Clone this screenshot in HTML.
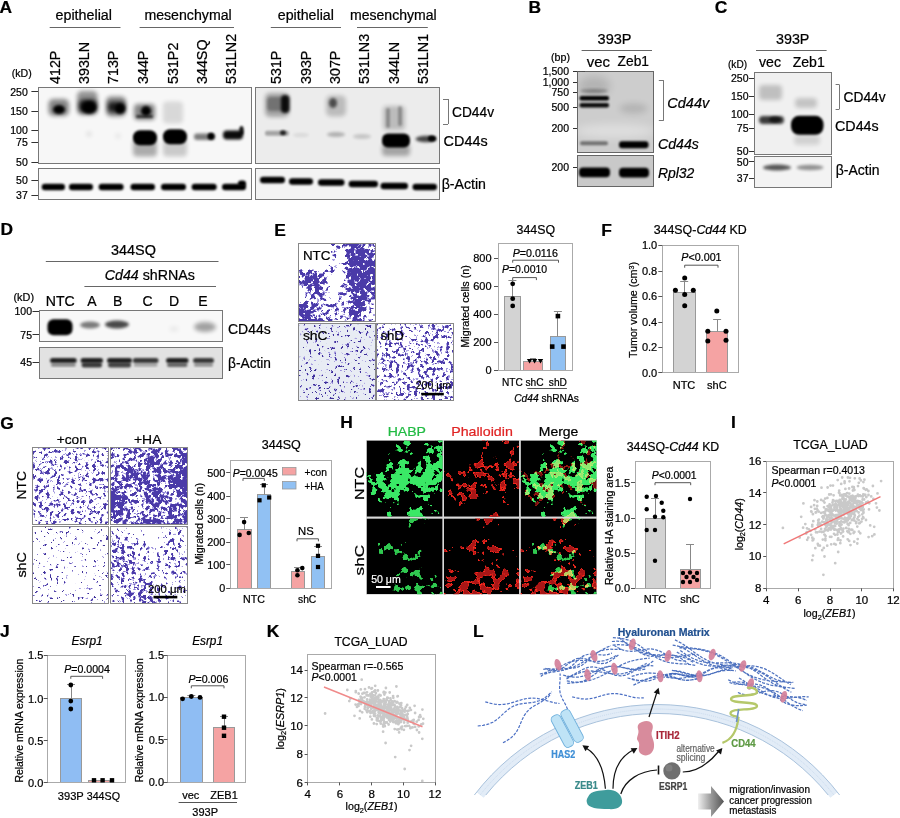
<!DOCTYPE html>
<html><head><meta charset="utf-8"><title>Figure</title>
<style>html,body{margin:0;padding:0;background:#fff;width:900px;height:818px;overflow:hidden}svg{display:block;font-family:"Liberation Sans",sans-serif;will-change:transform}</style>
</head><body>
<svg width="900" height="818" viewBox="0 0 900 818">
<defs>
<filter id="b05" x="-20%" y="-20%" width="140%" height="140%"><feGaussianBlur stdDeviation="0.4"/></filter>
<filter id="b08" x="-20%" y="-20%" width="140%" height="140%"><feGaussianBlur stdDeviation="0.8"/></filter>
<filter id="b1" x="-50%" y="-50%" width="200%" height="200%"><feGaussianBlur stdDeviation="1"/></filter>
<filter id="b15" x="-50%" y="-50%" width="200%" height="200%"><feGaussianBlur stdDeviation="1.5"/></filter>
<filter id="b2" x="-50%" y="-50%" width="200%" height="200%"><feGaussianBlur stdDeviation="2"/></filter>
<filter id="b3" x="-50%" y="-50%" width="200%" height="200%"><feGaussianBlur stdDeviation="3"/></filter>
<filter id="b4" x="-50%" y="-50%" width="200%" height="200%"><feGaussianBlur stdDeviation="4"/></filter>
<clipPath id="cA1"><rect x="39.1" y="87.7" width="211.8" height="75.6"/></clipPath>
<clipPath id="cA1b"><rect x="39.1" y="168.5" width="211.8" height="30.3"/></clipPath>
<clipPath id="cA2"><rect x="256.1" y="87.7" width="182.4" height="74.8"/></clipPath>
<clipPath id="cA2b"><rect x="256.1" y="168.5" width="182.4" height="30.5"/></clipPath>
<clipPath id="cB1"><rect x="577.5" y="71.5" width="75.8" height="80.8"/></clipPath>
<clipPath id="cB2"><rect x="577.5" y="155.6" width="75.8" height="30.5"/></clipPath>
<clipPath id="cC1"><rect x="755.2" y="73.2" width="75.5" height="80.9"/></clipPath>
<clipPath id="cC2"><rect x="755.2" y="156.5" width="75.5" height="30.4"/></clipPath>
<clipPath id="cD1"><rect x="39.8" y="311" width="182.1" height="30"/></clipPath>
<clipPath id="cD2"><rect x="39.8" y="347.5" width="182.1" height="30.2"/></clipPath>
<linearGradient id="gArr" x1="0" x2="1" y1="0" y2="0"><stop offset="0" stop-color="#f0f0f0"/><stop offset="0.5" stop-color="#9a9a9a"/><stop offset="1" stop-color="#555"/></linearGradient>
<filter id="fie1" filterUnits="userSpaceOnUse" x="296.7" y="241.7" width="80.9" height="81.5" color-interpolation-filters="sRGB"><feGaussianBlur in="SourceGraphic" stdDeviation="2.2" result="d"/><feTurbulence type="fractalNoise" baseFrequency="0.26" numOctaves="3" seed="11" result="n"/><feColorMatrix in="n" type="matrix" values="0 0 0 0 0 0 0 0 0 0 0 0 0 0 0 1 0 0 0 0" result="na"/><feComposite in="d" in2="na" operator="arithmetic" k1="0" k2="1" k3="1" k4="-0.94" result="s0"/><feComponentTransfer in="s0" result="t0"><feFuncA type="linear" slope="40" intercept="0"/></feComponentTransfer><feFlood flood-color="#a69ce0"/><feComposite operator="in" in2="t0" result="c0"/><feComposite in="d" in2="na" operator="arithmetic" k1="0" k2="1" k3="1" k4="-1.0" result="s1"/><feComponentTransfer in="s1" result="t1"><feFuncA type="linear" slope="40" intercept="0"/></feComponentTransfer><feFlood flood-color="#4a3aa8"/><feComposite operator="in" in2="t1" result="c1"/><feMerge><feMergeNode in="c0"/><feMergeNode in="c1"/></feMerge><feGaussianBlur stdDeviation="0.4"/></filter><filter id="fie2" filterUnits="userSpaceOnUse" x="296.7" y="321.3" width="80.9" height="80.9" color-interpolation-filters="sRGB"><feGaussianBlur in="SourceGraphic" stdDeviation="4" result="d"/><feTurbulence type="fractalNoise" baseFrequency="0.32" numOctaves="3" seed="12" result="n"/><feColorMatrix in="n" type="matrix" values="0 0 0 0 0 0 0 0 0 0 0 0 0 0 0 1 0 0 0 0" result="na"/><feComposite in="d" in2="na" operator="arithmetic" k1="0" k2="1" k3="1" k4="-0.955" result="s0"/><feComponentTransfer in="s0" result="t0"><feFuncA type="linear" slope="40" intercept="0"/></feComponentTransfer><feFlood flood-color="#a69ce0"/><feComposite operator="in" in2="t0" result="c0"/><feComposite in="d" in2="na" operator="arithmetic" k1="0" k2="1" k3="1" k4="-1.0" result="s1"/><feComponentTransfer in="s1" result="t1"><feFuncA type="linear" slope="40" intercept="0"/></feComponentTransfer><feFlood flood-color="#40329a"/><feComposite operator="in" in2="t1" result="c1"/><feMerge><feMergeNode in="c0"/><feMergeNode in="c1"/></feMerge><feGaussianBlur stdDeviation="0.4"/></filter><filter id="fie3" filterUnits="userSpaceOnUse" x="374.2" y="321.3" width="81.6" height="80.9" color-interpolation-filters="sRGB"><feGaussianBlur in="SourceGraphic" stdDeviation="4" result="d"/><feTurbulence type="fractalNoise" baseFrequency="0.28" numOctaves="3" seed="13" result="n"/><feColorMatrix in="n" type="matrix" values="0 0 0 0 0 0 0 0 0 0 0 0 0 0 0 1 0 0 0 0" result="na"/><feComposite in="d" in2="na" operator="arithmetic" k1="0" k2="1" k3="1" k4="-0.94" result="s0"/><feComponentTransfer in="s0" result="t0"><feFuncA type="linear" slope="40" intercept="0"/></feComponentTransfer><feFlood flood-color="#a69ce0"/><feComposite operator="in" in2="t0" result="c0"/><feComposite in="d" in2="na" operator="arithmetic" k1="0" k2="1" k3="1" k4="-1.0" result="s1"/><feComponentTransfer in="s1" result="t1"><feFuncA type="linear" slope="40" intercept="0"/></feComponentTransfer><feFlood flood-color="#4a3aa8"/><feComposite operator="in" in2="t1" result="c1"/><feMerge><feMergeNode in="c0"/><feMergeNode in="c1"/></feMerge><feGaussianBlur stdDeviation="0.4"/></filter><filter id="fig1" filterUnits="userSpaceOnUse" x="30.299999999999997" y="445.5" width="80.5" height="81" color-interpolation-filters="sRGB"><feGaussianBlur in="SourceGraphic" stdDeviation="4" result="d"/><feTurbulence type="fractalNoise" baseFrequency="0.28" numOctaves="3" seed="14" result="n"/><feColorMatrix in="n" type="matrix" values="0 0 0 0 0 0 0 0 0 0 0 0 0 0 0 1 0 0 0 0" result="na"/><feComposite in="d" in2="na" operator="arithmetic" k1="0" k2="1" k3="1" k4="-0.94" result="s0"/><feComponentTransfer in="s0" result="t0"><feFuncA type="linear" slope="40" intercept="0"/></feComponentTransfer><feFlood flood-color="#a69ce0"/><feComposite operator="in" in2="t0" result="c0"/><feComposite in="d" in2="na" operator="arithmetic" k1="0" k2="1" k3="1" k4="-1.0" result="s1"/><feComponentTransfer in="s1" result="t1"><feFuncA type="linear" slope="40" intercept="0"/></feComponentTransfer><feFlood flood-color="#4a3aa8"/><feComposite operator="in" in2="t1" result="c1"/><feMerge><feMergeNode in="c0"/><feMergeNode in="c1"/></feMerge><feGaussianBlur stdDeviation="0.4"/></filter><filter id="fig2" filterUnits="userSpaceOnUse" x="108" y="445.5" width="81.8" height="81" color-interpolation-filters="sRGB"><feGaussianBlur in="SourceGraphic" stdDeviation="2.2" result="d"/><feTurbulence type="fractalNoise" baseFrequency="0.26" numOctaves="3" seed="15" result="n"/><feColorMatrix in="n" type="matrix" values="0 0 0 0 0 0 0 0 0 0 0 0 0 0 0 1 0 0 0 0" result="na"/><feComposite in="d" in2="na" operator="arithmetic" k1="0" k2="1" k3="1" k4="-0.94" result="s0"/><feComponentTransfer in="s0" result="t0"><feFuncA type="linear" slope="40" intercept="0"/></feComponentTransfer><feFlood flood-color="#a69ce0"/><feComposite operator="in" in2="t0" result="c0"/><feComposite in="d" in2="na" operator="arithmetic" k1="0" k2="1" k3="1" k4="-1.0" result="s1"/><feComponentTransfer in="s1" result="t1"><feFuncA type="linear" slope="40" intercept="0"/></feComponentTransfer><feFlood flood-color="#4a3aa8"/><feComposite operator="in" in2="t1" result="c1"/><feMerge><feMergeNode in="c0"/><feMergeNode in="c1"/></feMerge><feGaussianBlur stdDeviation="0.4"/></filter><filter id="fig3" filterUnits="userSpaceOnUse" x="30.299999999999997" y="524.2" width="80.5" height="81.6" color-interpolation-filters="sRGB"><feGaussianBlur in="SourceGraphic" stdDeviation="4" result="d"/><feTurbulence type="fractalNoise" baseFrequency="0.32" numOctaves="3" seed="16" result="n"/><feColorMatrix in="n" type="matrix" values="0 0 0 0 0 0 0 0 0 0 0 0 0 0 0 1 0 0 0 0" result="na"/><feComposite in="d" in2="na" operator="arithmetic" k1="0" k2="1" k3="1" k4="-0.955" result="s0"/><feComponentTransfer in="s0" result="t0"><feFuncA type="linear" slope="40" intercept="0"/></feComponentTransfer><feFlood flood-color="#a69ce0"/><feComposite operator="in" in2="t0" result="c0"/><feComposite in="d" in2="na" operator="arithmetic" k1="0" k2="1" k3="1" k4="-1.0" result="s1"/><feComponentTransfer in="s1" result="t1"><feFuncA type="linear" slope="40" intercept="0"/></feComponentTransfer><feFlood flood-color="#40329a"/><feComposite operator="in" in2="t1" result="c1"/><feMerge><feMergeNode in="c0"/><feMergeNode in="c1"/></feMerge><feGaussianBlur stdDeviation="0.4"/></filter><filter id="fig4" filterUnits="userSpaceOnUse" x="108" y="524.2" width="81.8" height="81.6" color-interpolation-filters="sRGB"><feGaussianBlur in="SourceGraphic" stdDeviation="4" result="d"/><feTurbulence type="fractalNoise" baseFrequency="0.28" numOctaves="3" seed="17" result="n"/><feColorMatrix in="n" type="matrix" values="0 0 0 0 0 0 0 0 0 0 0 0 0 0 0 1 0 0 0 0" result="na"/><feComposite in="d" in2="na" operator="arithmetic" k1="0" k2="1" k3="1" k4="-0.94" result="s0"/><feComponentTransfer in="s0" result="t0"><feFuncA type="linear" slope="40" intercept="0"/></feComponentTransfer><feFlood flood-color="#a69ce0"/><feComposite operator="in" in2="t0" result="c0"/><feComposite in="d" in2="na" operator="arithmetic" k1="0" k2="1" k3="1" k4="-1.0" result="s1"/><feComponentTransfer in="s1" result="t1"><feFuncA type="linear" slope="40" intercept="0"/></feComponentTransfer><feFlood flood-color="#4a3aa8"/><feComposite operator="in" in2="t1" result="c1"/><feMerge><feMergeNode in="c0"/><feMergeNode in="c1"/></feMerge><feGaussianBlur stdDeviation="0.4"/></filter><filter id="fih1" filterUnits="userSpaceOnUse" x="364.6" y="438.4" width="80" height="80.3" color-interpolation-filters="sRGB"><feGaussianBlur in="SourceGraphic" stdDeviation="3.5" result="d"/><feTurbulence type="fractalNoise" baseFrequency="0.13" numOctaves="3" seed="21" result="n"/><feColorMatrix in="n" type="matrix" values="0 0 0 0 0 0 0 0 0 0 0 0 0 0 0 1 0 0 0 0" result="na"/><feComposite in="d" in2="na" operator="arithmetic" k1="0" k2="1" k3="1" k4="-0.985" result="s0"/><feComponentTransfer in="s0" result="t0"><feFuncA type="linear" slope="40" intercept="0"/></feComponentTransfer><feFlood flood-color="#128a2a"/><feComposite operator="in" in2="t0" result="c0"/><feComposite in="d" in2="na" operator="arithmetic" k1="0" k2="1" k3="1" k4="-1.0" result="s1"/><feComponentTransfer in="s1" result="t1"><feFuncA type="linear" slope="40" intercept="0"/></feComponentTransfer><feFlood flood-color="#3ae866"/><feComposite operator="in" in2="t1" result="c1"/><feMerge><feMergeNode in="c0"/><feMergeNode in="c1"/></feMerge><feGaussianBlur stdDeviation="0.4"/></filter><filter id="fih2" filterUnits="userSpaceOnUse" x="442" y="438.4" width="79.2" height="80.3" color-interpolation-filters="sRGB"><feGaussianBlur in="SourceGraphic" stdDeviation="3.5" result="d"/><feTurbulence type="fractalNoise" baseFrequency="0.13" numOctaves="3" seed="22" result="n"/><feColorMatrix in="n" type="matrix" values="0 0 0 0 0 0 0 0 0 0 0 0 0 0 0 1 0 0 0 0" result="na"/><feComposite in="d" in2="na" operator="arithmetic" k1="0" k2="1" k3="1" k4="-1.0" result="s0"/><feComponentTransfer in="s0" result="t0"><feFuncA type="linear" slope="40" intercept="0"/></feComponentTransfer><feFlood flood-color="#a81616"/><feComposite operator="in" in2="t0" result="c0"/><feComposite in="d" in2="na" operator="arithmetic" k1="0" k2="1" k3="1" k4="-1.0" result="s1"/><feComponentTransfer in="s1" result="t1"><feFuncA type="table" tableValues="0 1 0.2 0 0 0 0 0 0 0 0 0 0 0 0 0 0 0 0 0 0 0 0 0 0"/></feComponentTransfer><feFlood flood-color="#ff2a1e"/><feComposite operator="in" in2="t1" result="c1"/><feMerge><feMergeNode in="c0"/><feMergeNode in="c1"/></feMerge><feGaussianBlur stdDeviation="0.4"/></filter><filter id="fih4" filterUnits="userSpaceOnUse" x="364.6" y="516.4" width="80" height="79.8" color-interpolation-filters="sRGB"><feGaussianBlur in="SourceGraphic" stdDeviation="3.5" result="d"/><feTurbulence type="fractalNoise" baseFrequency="0.13" numOctaves="3" seed="23" result="n"/><feColorMatrix in="n" type="matrix" values="0 0 0 0 0 0 0 0 0 0 0 0 0 0 0 1 0 0 0 0" result="na"/><feComposite in="d" in2="na" operator="arithmetic" k1="0" k2="1" k3="1" k4="-0.985" result="s0"/><feComponentTransfer in="s0" result="t0"><feFuncA type="linear" slope="40" intercept="0"/></feComponentTransfer><feFlood flood-color="#0e6a20"/><feComposite operator="in" in2="t0" result="c0"/><feComposite in="d" in2="na" operator="arithmetic" k1="0" k2="1" k3="1" k4="-1.0" result="s1"/><feComponentTransfer in="s1" result="t1"><feFuncA type="linear" slope="40" intercept="0"/></feComponentTransfer><feFlood flood-color="#30c850"/><feComposite operator="in" in2="t1" result="c1"/><feMerge><feMergeNode in="c0"/><feMergeNode in="c1"/></feMerge><feGaussianBlur stdDeviation="0.4"/></filter><filter id="fih5" filterUnits="userSpaceOnUse" x="442" y="516.4" width="79.2" height="79.8" color-interpolation-filters="sRGB"><feGaussianBlur in="SourceGraphic" stdDeviation="3.5" result="d"/><feTurbulence type="fractalNoise" baseFrequency="0.13" numOctaves="3" seed="24" result="n"/><feColorMatrix in="n" type="matrix" values="0 0 0 0 0 0 0 0 0 0 0 0 0 0 0 1 0 0 0 0" result="na"/><feComposite in="d" in2="na" operator="arithmetic" k1="0" k2="1" k3="1" k4="-1.0" result="s0"/><feComponentTransfer in="s0" result="t0"><feFuncA type="linear" slope="40" intercept="0"/></feComponentTransfer><feFlood flood-color="#a81616"/><feComposite operator="in" in2="t0" result="c0"/><feComposite in="d" in2="na" operator="arithmetic" k1="0" k2="1" k3="1" k4="-1.0" result="s1"/><feComponentTransfer in="s1" result="t1"><feFuncA type="table" tableValues="0 1 0.2 0 0 0 0 0 0 0 0 0 0 0 0 0 0 0 0 0 0 0 0 0 0"/></feComponentTransfer><feFlood flood-color="#ff2a1e"/><feComposite operator="in" in2="t1" result="c1"/><feMerge><feMergeNode in="c0"/><feMergeNode in="c1"/></feMerge><feGaussianBlur stdDeviation="0.4"/></filter></defs>
<rect width="900" height="818" fill="#fff"/>
<text x="-0.60" y="12.90" font-size="17.4" text-anchor="start" stroke="#000" stroke-width="0.22" font-weight="bold" >A</text>
<text x="55.50" y="20.00" font-size="14" text-anchor="start" stroke="#000" stroke-width="0.22" textLength="56.5" lengthAdjust="spacingAndGlyphs" >epithelial</text>
<line x1="49.70" y1="27.50" x2="120.50" y2="27.50" stroke="#666" stroke-width="1" />
<text x="144.40" y="20.00" font-size="14" text-anchor="start" stroke="#000" stroke-width="0.22" textLength="87.3" lengthAdjust="spacingAndGlyphs" >mesenchymal</text>
<line x1="139.60" y1="27.50" x2="234.00" y2="27.50" stroke="#666" stroke-width="1" />
<text x="277.80" y="20.00" font-size="14" text-anchor="start" stroke="#000" stroke-width="0.22" textLength="56.1" lengthAdjust="spacingAndGlyphs" >epithelial</text>
<line x1="270.80" y1="27.50" x2="341.00" y2="27.50" stroke="#666" stroke-width="1" />
<text x="350.00" y="20.00" font-size="14" text-anchor="start" stroke="#000" stroke-width="0.22" textLength="86.7" lengthAdjust="spacingAndGlyphs" >mesenchymal</text>
<line x1="357.00" y1="27.50" x2="427.80" y2="27.50" stroke="#666" stroke-width="1" />
<text transform="translate(60.30,84.00) rotate(-90)" font-size="14.3" text-anchor="start" stroke="#000" stroke-width="0.22" >412P</text>
<text transform="translate(89.30,84.00) rotate(-90)" font-size="14.3" text-anchor="start" stroke="#000" stroke-width="0.22" >393LN</text>
<text transform="translate(118.30,84.00) rotate(-90)" font-size="14.3" text-anchor="start" stroke="#000" stroke-width="0.22" >713P</text>
<text transform="translate(148.20,84.00) rotate(-90)" font-size="14.3" text-anchor="start" stroke="#000" stroke-width="0.22" >344P</text>
<text transform="translate(177.80,84.00) rotate(-90)" font-size="14.3" text-anchor="start" stroke="#000" stroke-width="0.22" >531P2</text>
<text transform="translate(207.20,84.00) rotate(-90)" font-size="14.3" text-anchor="start" stroke="#000" stroke-width="0.22" >344SQ</text>
<text transform="translate(236.30,84.00) rotate(-90)" font-size="14.3" text-anchor="start" stroke="#000" stroke-width="0.22" >531LN2</text>
<text transform="translate(281.30,84.00) rotate(-90)" font-size="14.3" text-anchor="start" stroke="#000" stroke-width="0.22" >531P</text>
<text transform="translate(310.80,84.00) rotate(-90)" font-size="14.3" text-anchor="start" stroke="#000" stroke-width="0.22" >393P</text>
<text transform="translate(339.70,84.00) rotate(-90)" font-size="14.3" text-anchor="start" stroke="#000" stroke-width="0.22" >307P</text>
<text transform="translate(369.30,84.00) rotate(-90)" font-size="14.3" text-anchor="start" stroke="#000" stroke-width="0.22" >531LN3</text>
<text transform="translate(398.90,84.00) rotate(-90)" font-size="14.3" text-anchor="start" stroke="#000" stroke-width="0.22" >344LN</text>
<text transform="translate(428.10,84.00) rotate(-90)" font-size="14.3" text-anchor="start" stroke="#000" stroke-width="0.22" >531LN1</text>
<text x="11.80" y="76.50" font-size="10.5" text-anchor="start" stroke="#000" stroke-width="0.22" textLength="20" lengthAdjust="spacingAndGlyphs" >(kD)</text>
<text x="27.80" y="95.50" font-size="10.5" text-anchor="end" stroke="#000" stroke-width="0.22" >250</text>
<line x1="31.40" y1="91.50" x2="38.60" y2="91.50" stroke="#333" stroke-width="1" />
<text x="27.80" y="115.20" font-size="10.5" text-anchor="end" stroke="#000" stroke-width="0.22" >150</text>
<line x1="31.40" y1="111.50" x2="38.60" y2="111.50" stroke="#333" stroke-width="1" />
<text x="27.80" y="134.10" font-size="10.5" text-anchor="end" stroke="#000" stroke-width="0.22" >100</text>
<line x1="31.40" y1="130.50" x2="38.60" y2="130.50" stroke="#333" stroke-width="1" />
<text x="27.80" y="146.30" font-size="10.5" text-anchor="end" stroke="#000" stroke-width="0.22" >75</text>
<line x1="31.40" y1="142.50" x2="38.60" y2="142.50" stroke="#333" stroke-width="1" />
<text x="27.80" y="166.00" font-size="10.5" text-anchor="end" stroke="#000" stroke-width="0.22" >50</text>
<line x1="31.40" y1="162.50" x2="38.60" y2="162.50" stroke="#333" stroke-width="1" />
<text x="27.80" y="184.30" font-size="10.5" text-anchor="end" stroke="#000" stroke-width="0.22" >50</text>
<line x1="31.40" y1="180.50" x2="38.60" y2="180.50" stroke="#333" stroke-width="1" />
<text x="27.80" y="199.10" font-size="10.5" text-anchor="end" stroke="#000" stroke-width="0.22" >37</text>
<line x1="31.40" y1="195.50" x2="38.60" y2="195.50" stroke="#333" stroke-width="1" />
<rect x="38.50" y="87.50" width="213.00" height="76.00" fill="#f7f7f7" stroke="#777" stroke-width="1" />
<rect x="38.50" y="168.50" width="213.00" height="31.00" fill="#f9f9f9" stroke="#777" stroke-width="1" />
<g clip-path="url(#cA1)">
<rect x="48.50" y="99.00" width="20.50" height="17.00" rx="5.00" fill="#000" opacity="0.45" filter="url(#b2)"/>
<ellipse cx="59.00" cy="109.50" rx="6.00" ry="4.50" fill="#000" filter="url(#b15)" />
<rect x="77.00" y="91.00" width="20.50" height="24.00" rx="5.00" fill="#000" opacity="0.4" filter="url(#b2)"/>
<rect x="79.00" y="99.50" width="18.00" height="13.00" rx="5.00" fill="#000" opacity="0.85" filter="url(#b2)"/>
<ellipse cx="89.00" cy="107.50" rx="7.00" ry="6.00" fill="#000" filter="url(#b15)" />
<rect x="106.00" y="96.50" width="20.00" height="20.00" rx="5.00" fill="#000" opacity="0.45" filter="url(#b2)"/>
<rect x="108.00" y="102.00" width="17.00" height="10.00" rx="4.00" fill="#000" opacity="0.8" filter="url(#b2)"/>
<ellipse cx="120.00" cy="108.80" rx="5.00" ry="5.00" fill="#000" filter="url(#b15)" />
<rect x="134.00" y="104.00" width="21.00" height="16.00" rx="4.00" fill="#000" opacity="0.45" filter="url(#b2)"/>
<ellipse cx="146.00" cy="111.00" rx="5.00" ry="5.00" fill="#000" filter="url(#b15)" />
<rect x="136.00" y="115.00" width="17.00" height="3.00" rx="1.50" fill="#000" opacity="0.6" filter="url(#b1)"/>
<rect x="163.00" y="101.50" width="20.00" height="22.00" rx="4.00" fill="#000" opacity="0.12" filter="url(#b2)"/>
<ellipse cx="89.00" cy="134.00" rx="3.00" ry="3.00" fill="#000" filter="url(#b2)" opacity="0.08" />
<ellipse cx="118.00" cy="136.00" rx="3.00" ry="3.00" fill="#000" filter="url(#b2)" opacity="0.06" />
<rect x="133.00" y="139.50" width="24.00" height="17.00" rx="4.00" fill="#000" opacity="0.3" filter="url(#b2)"/>
<rect x="133.00" y="130.30" width="24.00" height="15.00" rx="7.00" fill="#000" opacity="1" filter="url(#b1)"/>
<rect x="163.00" y="139.50" width="24.00" height="17.00" rx="4.00" fill="#000" opacity="0.18" filter="url(#b2)"/>
<rect x="163.00" y="129.30" width="24.00" height="15.00" rx="7.00" fill="#000" opacity="1" filter="url(#b1)"/>
<rect x="194.00" y="133.55" width="21.00" height="6.50" rx="3.00" fill="#000" opacity="0.5" filter="url(#b15)"/>
<ellipse cx="211.00" cy="136.30" rx="3.50" ry="3.50" fill="#000" filter="url(#b1)" />
<rect x="223.00" y="130.50" width="20.00" height="9.00" rx="4.00" fill="#000" opacity="0.95" filter="url(#b15)"/>
<ellipse cx="241.50" cy="130.50" rx="2.30" ry="4.50" fill="#000" filter="url(#b1)" opacity="0.9" />
</g>
<g clip-path="url(#cA1b)">
<rect x="41.70" y="183.75" width="23.30" height="6.50" rx="3.25" fill="#000" opacity="1" filter="url(#b1)"/>
<rect x="69.00" y="183.75" width="24.00" height="6.50" rx="3.25" fill="#000" opacity="1" filter="url(#b1)"/>
<rect x="98.60" y="183.75" width="25.00" height="6.50" rx="3.25" fill="#000" opacity="1" filter="url(#b1)"/>
<rect x="130.50" y="183.75" width="24.50" height="6.50" rx="3.25" fill="#000" opacity="1" filter="url(#b1)"/>
<rect x="161.00" y="183.75" width="25.00" height="6.50" rx="3.25" fill="#000" opacity="1" filter="url(#b1)"/>
<rect x="191.60" y="183.75" width="25.10" height="6.50" rx="3.25" fill="#000" opacity="1" filter="url(#b1)"/>
<rect x="222.00" y="183.75" width="24.00" height="6.50" rx="3.25" fill="#000" opacity="1" filter="url(#b1)"/>
<rect x="238.00" y="180.50" width="8.00" height="6.00" rx="3.00" fill="#000" opacity="1" filter="url(#b1)"/>
</g>
<rect x="255.50" y="87.50" width="184.00" height="76.00" fill="#ececec" stroke="#777" stroke-width="1" />
<rect x="255.50" y="168.50" width="184.00" height="31.00" fill="#f3f3f3" stroke="#777" stroke-width="1" />
<g clip-path="url(#cA2)">
<rect x="265.00" y="93.00" width="24.00" height="24.00" rx="5.00" fill="#000" opacity="0.3" filter="url(#b2)"/>
<rect x="267.00" y="97.00" width="21.00" height="14.00" rx="4.00" fill="#000" opacity="0.3" filter="url(#b15)"/>
<rect x="281.00" y="95.00" width="8.50" height="18.00" rx="4.00" fill="#000" opacity="0.9" filter="url(#b15)"/>
<rect x="326.00" y="95.50" width="20.00" height="21.00" rx="5.00" fill="#000" opacity="0.2" filter="url(#b2)"/>
<ellipse cx="333.00" cy="103.00" rx="4.00" ry="5.00" fill="#000" filter="url(#b15)" opacity="0.6" />
<rect x="383.00" y="106.00" width="22.00" height="24.00" rx="4.00" fill="#000" opacity="0.2" filter="url(#b2)"/>
<rect x="386.00" y="108.00" width="4.00" height="20.00" rx="2.00" fill="#000" opacity="0.25" filter="url(#b1)"/>
<rect x="398.00" y="106.00" width="4.00" height="20.00" rx="2.00" fill="#000" opacity="0.25" filter="url(#b1)"/>
<rect x="265.00" y="130.80" width="24.00" height="5.00" rx="2.00" fill="#000" opacity="0.3" filter="url(#b1)"/>
<ellipse cx="283.00" cy="132.80" rx="3.00" ry="2.50" fill="#000" filter="url(#b1)" opacity="0.8" />
<ellipse cx="301.00" cy="135.00" rx="8.00" ry="2.00" fill="#000" filter="url(#b15)" opacity="0.08" />
<ellipse cx="336.00" cy="134.50" rx="9.00" ry="2.50" fill="#000" filter="url(#b15)" opacity="0.25" />
<ellipse cx="362.00" cy="136.50" rx="9.00" ry="2.50" fill="#000" filter="url(#b15)" opacity="0.16" />
<rect x="382.00" y="144.00" width="28.00" height="12.00" rx="4.00" fill="#000" opacity="0.3" filter="url(#b2)"/>
<rect x="382.00" y="133.50" width="28.00" height="14.00" rx="6.00" fill="#000" opacity="1" filter="url(#b1)"/>
<ellipse cx="426.00" cy="139.00" rx="10.50" ry="3.20" fill="#000" filter="url(#b15)" opacity="0.7" />
<ellipse cx="432.00" cy="138.50" rx="4.00" ry="3.00" fill="#000" filter="url(#b1)" />
</g>
<g clip-path="url(#cA2b)">
<rect x="260.00" y="176.75" width="25.00" height="6.50" rx="3.25" fill="#000" opacity="1" filter="url(#b1)"/>
<rect x="289.00" y="178.25" width="24.00" height="6.50" rx="3.25" fill="#000" opacity="1" filter="url(#b1)"/>
<rect x="318.00" y="179.25" width="26.50" height="6.50" rx="3.25" fill="#000" opacity="1" filter="url(#b1)"/>
<rect x="348.60" y="180.75" width="29.40" height="6.50" rx="3.25" fill="#000" opacity="1" filter="url(#b1)"/>
<rect x="380.50" y="182.75" width="27.50" height="6.50" rx="3.25" fill="#000" opacity="1" filter="url(#b1)"/>
<rect x="412.50" y="183.75" width="24.50" height="6.50" rx="3.25" fill="#000" opacity="1" filter="url(#b1)"/>
</g>
<line x1="443.00" y1="99.50" x2="448.00" y2="99.50" stroke="#777" stroke-width="1" />
<line x1="448.50" y1="99.00" x2="448.50" y2="124.00" stroke="#777" stroke-width="1" />
<line x1="443.00" y1="124.50" x2="448.00" y2="124.50" stroke="#777" stroke-width="1" />
<text x="452.00" y="117.00" font-size="14" text-anchor="start" stroke="#000" stroke-width="0.22" textLength="42" lengthAdjust="spacingAndGlyphs" >CD44v</text>
<text x="443.60" y="146.40" font-size="14" text-anchor="start" stroke="#000" stroke-width="0.22" textLength="44" lengthAdjust="spacingAndGlyphs" >CD44s</text>
<text x="441.70" y="189.00" font-size="14" text-anchor="start" stroke="#000" stroke-width="0.22" textLength="44.3" lengthAdjust="spacingAndGlyphs" >β-Actin</text>
<text x="528.60" y="12.90" font-size="17.4" text-anchor="start" stroke="#000" stroke-width="0.22" font-weight="bold" >B</text>
<text x="597.60" y="44.00" font-size="14.5" text-anchor="start" stroke="#000" stroke-width="0.22" textLength="33.9" lengthAdjust="spacingAndGlyphs" >393P</text>
<line x1="581.60" y1="50.50" x2="652.00" y2="50.50" stroke="#666" stroke-width="1" />
<text x="551.00" y="61.00" font-size="10.5" text-anchor="start" stroke="#000" stroke-width="0.22" textLength="19" lengthAdjust="spacingAndGlyphs" >(bp)</text>
<text x="586.80" y="66.80" font-size="14" text-anchor="start" stroke="#000" stroke-width="0.22" textLength="23.2" lengthAdjust="spacingAndGlyphs" >vec</text>
<text x="617.60" y="66.00" font-size="14" text-anchor="start" stroke="#000" stroke-width="0.22" textLength="31.4" lengthAdjust="spacingAndGlyphs" >Zeb1</text>
<text x="569.00" y="74.80" font-size="10.5" text-anchor="end" stroke="#000" stroke-width="0.22" >1,500</text>
<line x1="573.00" y1="71.50" x2="580.00" y2="71.50" stroke="#333" stroke-width="1" />
<text x="569.00" y="86.00" font-size="10.5" text-anchor="end" stroke="#000" stroke-width="0.22" >1,000</text>
<line x1="573.00" y1="82.50" x2="580.00" y2="82.50" stroke="#333" stroke-width="1" />
<text x="569.00" y="95.80" font-size="10.5" text-anchor="end" stroke="#000" stroke-width="0.22" >750</text>
<line x1="573.00" y1="92.50" x2="580.00" y2="92.50" stroke="#333" stroke-width="1" />
<text x="569.00" y="110.90" font-size="10.5" text-anchor="end" stroke="#000" stroke-width="0.22" >500</text>
<line x1="573.00" y1="107.50" x2="580.00" y2="107.50" stroke="#333" stroke-width="1" />
<text x="569.00" y="132.20" font-size="10.5" text-anchor="end" stroke="#000" stroke-width="0.22" >200</text>
<line x1="573.00" y1="128.50" x2="580.00" y2="128.50" stroke="#333" stroke-width="1" />
<text x="569.00" y="170.80" font-size="10.5" text-anchor="end" stroke="#000" stroke-width="0.22" >200</text>
<line x1="573.00" y1="167.50" x2="580.00" y2="167.50" stroke="#333" stroke-width="1" />
<rect x="577.50" y="71.50" width="76.00" height="81.00" fill="#cdcdcd" stroke="#666" stroke-width="1" />
<rect x="577.50" y="155.50" width="76.00" height="31.00" fill="#c9c9c9" stroke="#666" stroke-width="1" />
<g clip-path="url(#cB1)">
<ellipse cx="594.00" cy="86.00" rx="16.00" ry="10.00" fill="#000" filter="url(#b4)" opacity="0.12" />
<ellipse cx="615.00" cy="131.00" rx="40.00" ry="7.00" fill="#fff" filter="url(#b4)" opacity="0.35" />
<rect x="579.50" y="95.90" width="29.50" height="4.60" rx="2.00" fill="#000" opacity="1" filter="url(#b1)"/>
<rect x="579.50" y="103.00" width="29.50" height="4.60" rx="2.00" fill="#000" opacity="0.95" filter="url(#b1)"/>
<ellipse cx="594.00" cy="91.00" rx="14.00" ry="2.00" fill="#000" filter="url(#b15)" opacity="0.3" />
<rect x="580.00" y="141.20" width="28.00" height="4.00" rx="2.00" fill="#000" opacity="0.45" filter="url(#b1)"/>
<ellipse cx="633.50" cy="108.50" rx="14.00" ry="5.00" fill="#000" filter="url(#b3)" opacity="0.12" />
<rect x="619.00" y="141.20" width="29.50" height="7.00" rx="3.00" fill="#000" opacity="1" filter="url(#b1)"/>
<line x1="577.00" y1="71.00" x2="585.00" y2="71.50" stroke="#333" stroke-width="1" />
</g>
<g clip-path="url(#cB2)">
<rect x="579.00" y="167.50" width="31.00" height="9.80" rx="4.00" fill="#000" opacity="1" filter="url(#b1)"/>
<rect x="619.00" y="167.70" width="30.00" height="9.80" rx="4.00" fill="#000" opacity="1" filter="url(#b1)"/>
</g>
<line x1="658.80" y1="80.50" x2="663.80" y2="80.50" stroke="#777" stroke-width="1" />
<line x1="663.50" y1="80.40" x2="663.50" y2="120.40" stroke="#777" stroke-width="1" />
<line x1="658.80" y1="120.50" x2="663.80" y2="120.50" stroke="#777" stroke-width="1" />
<text x="667.30" y="108.00" font-size="14" text-anchor="start" stroke="#000" stroke-width="0.22" font-style="italic" textLength="42" lengthAdjust="spacingAndGlyphs" >Cd44v</text>
<text x="657.90" y="149.00" font-size="14" text-anchor="start" stroke="#000" stroke-width="0.22" font-style="italic" textLength="41" lengthAdjust="spacingAndGlyphs" >Cd44s</text>
<text x="657.90" y="177.50" font-size="14" text-anchor="start" stroke="#000" stroke-width="0.22" font-style="italic" textLength="36.4" lengthAdjust="spacingAndGlyphs" >Rpl32</text>
<text x="714.70" y="13.10" font-size="17.4" text-anchor="start" stroke="#000" stroke-width="0.22" font-weight="bold" >C</text>
<text x="776.00" y="44.00" font-size="14.5" text-anchor="start" stroke="#000" stroke-width="0.22" textLength="33.4" lengthAdjust="spacingAndGlyphs" >393P</text>
<line x1="756.00" y1="50.50" x2="826.60" y2="50.50" stroke="#666" stroke-width="1" />
<text x="728.00" y="68.00" font-size="10.5" text-anchor="start" stroke="#000" stroke-width="0.22" textLength="19" lengthAdjust="spacingAndGlyphs" >(kD)</text>
<text x="759.00" y="67.30" font-size="14" text-anchor="start" stroke="#000" stroke-width="0.22" textLength="22" lengthAdjust="spacingAndGlyphs" >vec</text>
<text x="792.70" y="66.50" font-size="14" text-anchor="start" stroke="#000" stroke-width="0.22" textLength="32.1" lengthAdjust="spacingAndGlyphs" >Zeb1</text>
<text x="748.50" y="82.10" font-size="10.5" text-anchor="end" stroke="#000" stroke-width="0.22" >250</text>
<line x1="749.00" y1="78.50" x2="755.00" y2="78.50" stroke="#333" stroke-width="1" />
<text x="748.50" y="100.10" font-size="10.5" text-anchor="end" stroke="#000" stroke-width="0.22" >150</text>
<line x1="749.00" y1="96.50" x2="755.00" y2="96.50" stroke="#333" stroke-width="1" />
<text x="748.50" y="118.00" font-size="10.5" text-anchor="end" stroke="#000" stroke-width="0.22" >100</text>
<line x1="749.00" y1="114.50" x2="755.00" y2="114.50" stroke="#333" stroke-width="1" />
<text x="748.50" y="132.20" font-size="10.5" text-anchor="end" stroke="#000" stroke-width="0.22" >75</text>
<line x1="749.00" y1="128.50" x2="755.00" y2="128.50" stroke="#333" stroke-width="1" />
<text x="748.50" y="155.30" font-size="10.5" text-anchor="end" stroke="#000" stroke-width="0.22" >50</text>
<line x1="749.00" y1="151.50" x2="755.00" y2="151.50" stroke="#333" stroke-width="1" />
<text x="748.50" y="165.50" font-size="10.5" text-anchor="end" stroke="#000" stroke-width="0.22" >50</text>
<line x1="749.00" y1="161.50" x2="755.00" y2="161.50" stroke="#333" stroke-width="1" />
<text x="748.50" y="182.20" font-size="10.5" text-anchor="end" stroke="#000" stroke-width="0.22" >37</text>
<line x1="749.00" y1="178.50" x2="755.00" y2="178.50" stroke="#333" stroke-width="1" />
<rect x="754.50" y="72.50" width="77.00" height="82.00" fill="#f0f0f0" stroke="#777" stroke-width="1" />
<rect x="754.50" y="156.50" width="77.00" height="31.00" fill="#f3f3f3" stroke="#777" stroke-width="1" />
<g clip-path="url(#cC1)">
<rect x="759.00" y="85.00" width="23.00" height="15.00" rx="4.00" fill="#000" opacity="0.2" filter="url(#b2)"/>
<rect x="759.00" y="116.00" width="25.00" height="8.00" rx="4.00" fill="#000" opacity="0.75" filter="url(#b15)"/>
<ellipse cx="775.00" cy="119.50" rx="6.00" ry="3.00" fill="#000" filter="url(#b1)" opacity="0.6" />
<rect x="795.00" y="98.00" width="22.00" height="10.00" rx="4.00" fill="#000" opacity="0.18" filter="url(#b2)"/>
<rect x="794.00" y="135.00" width="26.00" height="10.00" rx="4.00" fill="#000" opacity="0.12" filter="url(#b2)"/>
<rect x="791.00" y="115.80" width="32.50" height="19.00" rx="8.00" fill="#000" opacity="1" filter="url(#b1)"/>
</g>
<g clip-path="url(#cC2)">
<ellipse cx="777.00" cy="167.50" rx="14.00" ry="3.00" fill="#000" filter="url(#b15)" opacity="0.65" />
<ellipse cx="810.00" cy="167.50" rx="13.50" ry="2.80" fill="#000" filter="url(#b15)" opacity="0.4" />
</g>
<line x1="835.60" y1="84.50" x2="839.40" y2="84.50" stroke="#777" stroke-width="1" />
<line x1="839.50" y1="84.70" x2="839.50" y2="109.00" stroke="#777" stroke-width="1" />
<line x1="835.60" y1="109.50" x2="839.40" y2="109.50" stroke="#777" stroke-width="1" />
<text x="843.50" y="102.00" font-size="14" text-anchor="start" stroke="#000" stroke-width="0.22" textLength="42.1" lengthAdjust="spacingAndGlyphs" >CD44v</text>
<text x="835.00" y="131.00" font-size="14" text-anchor="start" stroke="#000" stroke-width="0.22" textLength="43.7" lengthAdjust="spacingAndGlyphs" >CD44s</text>
<text x="835.80" y="174.50" font-size="14" text-anchor="start" stroke="#000" stroke-width="0.22" textLength="43.7" lengthAdjust="spacingAndGlyphs" >β-Actin</text>
<text x="0.60" y="235.40" font-size="17.4" text-anchor="start" stroke="#000" stroke-width="0.22" font-weight="bold" >D</text>
<text x="111.00" y="254.50" font-size="14" text-anchor="start" stroke="#000" stroke-width="0.22" textLength="45" lengthAdjust="spacingAndGlyphs" >344SQ</text>
<line x1="45.80" y1="261.50" x2="218.50" y2="261.50" stroke="#666" stroke-width="1" />
<text x="104.70" y="280.00" font-size="14" text-anchor="start" stroke="#000" stroke-width="0.22" textLength="90.3" lengthAdjust="spacingAndGlyphs" ><tspan font-style="italic">Cd44</tspan> shRNAs</text>
<line x1="84.40" y1="286.50" x2="216.00" y2="286.50" stroke="#666" stroke-width="1" />
<text x="13.50" y="300.50" font-size="10.5" text-anchor="start" stroke="#000" stroke-width="0.22" textLength="20.5" lengthAdjust="spacingAndGlyphs" >(kD)</text>
<text x="45.80" y="306.00" font-size="14" text-anchor="start" stroke="#000" stroke-width="0.22" textLength="29" lengthAdjust="spacingAndGlyphs" >NTC</text>
<text x="91.80" y="306.00" font-size="14" text-anchor="middle" stroke="#000" stroke-width="0.22" >A</text>
<text x="117.60" y="306.00" font-size="14" text-anchor="middle" stroke="#000" stroke-width="0.22" >B</text>
<text x="147.60" y="306.00" font-size="14" text-anchor="middle" stroke="#000" stroke-width="0.22" >C</text>
<text x="174.00" y="306.00" font-size="14" text-anchor="middle" stroke="#000" stroke-width="0.22" >D</text>
<text x="203.00" y="306.00" font-size="14" text-anchor="middle" stroke="#000" stroke-width="0.22" >E</text>
<text x="32.00" y="315.30" font-size="10.5" text-anchor="end" stroke="#000" stroke-width="0.22" >100</text>
<line x1="32.50" y1="311.50" x2="39.30" y2="311.50" stroke="#333" stroke-width="1" />
<text x="32.00" y="338.50" font-size="10.5" text-anchor="end" stroke="#000" stroke-width="0.22" >75</text>
<line x1="32.50" y1="334.50" x2="39.30" y2="334.50" stroke="#333" stroke-width="1" />
<text x="32.00" y="365.80" font-size="10.5" text-anchor="end" stroke="#000" stroke-width="0.22" >45</text>
<line x1="32.50" y1="362.50" x2="39.30" y2="362.50" stroke="#333" stroke-width="1" />
<rect x="39.50" y="310.50" width="183.00" height="31.00" fill="#f8f8f8" stroke="#777" stroke-width="1" />
<rect x="39.50" y="347.50" width="183.00" height="31.00" fill="#e2e2e2" stroke="#777" stroke-width="1" />
<g clip-path="url(#cD1)">
<rect x="47.50" y="319.30" width="25.00" height="16.00" rx="6.00" fill="#000" opacity="1" filter="url(#b1)"/>
<ellipse cx="90.00" cy="325.00" rx="10.00" ry="3.50" fill="#000" filter="url(#b15)" opacity="0.5" />
<ellipse cx="117.00" cy="324.50" rx="12.00" ry="4.00" fill="#000" filter="url(#b15)" opacity="0.7" />
<ellipse cx="174.00" cy="329.00" rx="5.00" ry="3.00" fill="#000" filter="url(#b2)" opacity="0.05" />
<ellipse cx="205.00" cy="327.00" rx="11.00" ry="5.00" fill="#000" filter="url(#b2)" opacity="0.35" />
</g>
<g clip-path="url(#cD2)">
<rect x="50.00" y="358.00" width="26.70" height="5.00" rx="2.50" fill="#000" opacity="0.85" filter="url(#b1)"/>
<rect x="51.00" y="363.50" width="24.70" height="3.00" rx="1.50" fill="#000" opacity="0.45" filter="url(#b1)"/>
<rect x="80.60" y="358.00" width="22.40" height="5.00" rx="2.50" fill="#000" opacity="0.85" filter="url(#b1)"/>
<rect x="81.60" y="362.50" width="20.40" height="5.00" rx="2.50" fill="#000" opacity="0.75" filter="url(#b1)"/>
<rect x="107.00" y="358.00" width="25.00" height="5.00" rx="2.50" fill="#000" opacity="0.85" filter="url(#b1)"/>
<rect x="108.00" y="362.50" width="23.00" height="5.00" rx="2.50" fill="#000" opacity="0.7" filter="url(#b1)"/>
<rect x="132.80" y="358.00" width="25.70" height="5.00" rx="2.50" fill="#000" opacity="0.75" filter="url(#b1)"/>
<rect x="133.80" y="363.50" width="23.70" height="3.00" rx="1.50" fill="#000" opacity="0.3" filter="url(#b1)"/>
<rect x="166.00" y="358.00" width="22.50" height="5.00" rx="2.50" fill="#000" opacity="0.85" filter="url(#b1)"/>
<rect x="167.00" y="363.00" width="20.50" height="4.00" rx="2.00" fill="#000" opacity="0.55" filter="url(#b1)"/>
<rect x="193.00" y="358.00" width="21.00" height="5.00" rx="2.50" fill="#000" opacity="0.75" filter="url(#b1)"/>
<rect x="194.00" y="363.50" width="19.00" height="3.00" rx="1.50" fill="#000" opacity="0.4" filter="url(#b1)"/>
</g>
<text x="228.00" y="333.60" font-size="14" text-anchor="start" stroke="#000" stroke-width="0.22" textLength="42.7" lengthAdjust="spacingAndGlyphs" >CD44s</text>
<text x="228.00" y="368.00" font-size="14" text-anchor="start" stroke="#000" stroke-width="0.22" textLength="43" lengthAdjust="spacingAndGlyphs" >β-Actin</text>
<text x="274.30" y="235.70" font-size="17.4" text-anchor="start" stroke="#000" stroke-width="0.22" font-weight="bold" >E</text>
<text x="516.50" y="233.60" font-size="12.5" text-anchor="start" stroke="#000" stroke-width="0.22" textLength="38.5" lengthAdjust="spacingAndGlyphs" >344SQ</text>
<rect x="504.50" y="296.50" width="16.00" height="74.00" fill="#d3d3d3" stroke="#999" stroke-width="1" />
<rect x="523.50" y="361.50" width="19.00" height="9.00" fill="#f5a3a3" stroke="#999" stroke-width="1" />
<rect x="550.50" y="336.50" width="15.00" height="34.00" fill="#91c1f3" stroke="#999" stroke-width="1" />
<rect x="498.50" y="243.50" width="74.00" height="127.00" fill="none" stroke="#aaaaaa" stroke-width="1" />
<line x1="494.00" y1="258.50" x2="498.00" y2="258.50" stroke="#555" stroke-width="1" />
<text x="491.50" y="262.36" font-size="11" text-anchor="end" stroke="#000" stroke-width="0.22" >800</text>
<line x1="494.00" y1="286.50" x2="498.00" y2="286.50" stroke="#555" stroke-width="1" />
<text x="491.50" y="290.16" font-size="11" text-anchor="end" stroke="#000" stroke-width="0.22" >600</text>
<line x1="494.00" y1="314.50" x2="498.00" y2="314.50" stroke="#555" stroke-width="1" />
<text x="491.50" y="318.46" font-size="11" text-anchor="end" stroke="#000" stroke-width="0.22" >400</text>
<line x1="494.00" y1="342.50" x2="498.00" y2="342.50" stroke="#555" stroke-width="1" />
<text x="491.50" y="346.46" font-size="11" text-anchor="end" stroke="#000" stroke-width="0.22" >200</text>
<line x1="494.00" y1="370.50" x2="498.00" y2="370.50" stroke="#555" stroke-width="1" />
<text x="491.50" y="374.26" font-size="11" text-anchor="end" stroke="#000" stroke-width="0.22" >0</text>
<text transform="translate(468.60,347.70) rotate(-90)" font-size="10.5" text-anchor="start" stroke="#000" stroke-width="0.22" textLength="82.5" lengthAdjust="spacingAndGlyphs" >Migrated cells (n)</text>
<line x1="512.50" y1="296.20" x2="512.50" y2="280.60" stroke="#888" stroke-width="1" /><line x1="508.40" y1="280.50" x2="516.40" y2="280.50" stroke="#888" stroke-width="1" />
<line x1="557.50" y1="336.40" x2="557.50" y2="311.60" stroke="#888" stroke-width="1" /><line x1="553.90" y1="311.50" x2="561.90" y2="311.50" stroke="#888" stroke-width="1" />
<line x1="533.50" y1="361.30" x2="533.50" y2="358.50" stroke="#888" stroke-width="1" /><line x1="530.00" y1="358.50" x2="536.00" y2="358.50" stroke="#888" stroke-width="1" />
<circle cx="512.7" cy="283.8" r="2.4" fill="#000"/>
<circle cx="512.7" cy="298.7" r="2.4" fill="#000"/>
<circle cx="512.7" cy="305.9" r="2.4" fill="#000"/>
<path d="M526.9,359.0H532.3L529.6,363.6Z" fill="#000"/>
<path d="M531.9,359.0H537.3L534.6,363.6Z" fill="#000"/>
<path d="M537.8,359.0H543.2L540.5,363.6Z" fill="#000"/>
<rect x="555.60" y="313.80" width="4.60" height="4.60" fill="#000" stroke="none" stroke-width="1" />
<rect x="549.90" y="344.30" width="4.60" height="4.60" fill="#000" stroke="none" stroke-width="1" />
<rect x="561.20" y="344.30" width="4.60" height="4.60" fill="#000" stroke="none" stroke-width="1" />
<path d="M512.7,262.7V260.2H558.5V262.7" fill="none" stroke="#555" stroke-width="1"/>
<text x="512.70" y="256.80" font-size="11" text-anchor="start" stroke="#000" stroke-width="0.22" textLength="45.2" lengthAdjust="spacingAndGlyphs" ><tspan font-style="italic">P</tspan>=0.0116</text>
<path d="M512.7,280.1V277.6H536.4V280.1" fill="none" stroke="#555" stroke-width="1"/>
<text x="502.00" y="273.30" font-size="11" text-anchor="start" stroke="#000" stroke-width="0.22" textLength="45.2" lengthAdjust="spacingAndGlyphs" ><tspan font-style="italic">P</tspan>=0.0010</text>
<text x="502.00" y="385.60" font-size="11" text-anchor="start" stroke="#000" stroke-width="0.22" textLength="20.8" lengthAdjust="spacingAndGlyphs" >NTC</text>
<text x="525.50" y="385.60" font-size="11" text-anchor="start" stroke="#000" stroke-width="0.22" textLength="18.1" lengthAdjust="spacingAndGlyphs" >shC</text>
<text x="548.80" y="385.60" font-size="11" text-anchor="start" stroke="#000" stroke-width="0.22" textLength="18.1" lengthAdjust="spacingAndGlyphs" >shD</text>
<line x1="527.30" y1="388.50" x2="566.90" y2="388.50" stroke="#555" stroke-width="1" />
<text x="514.20" y="401.50" font-size="11" text-anchor="start" stroke="#000" stroke-width="0.22" textLength="64.7" lengthAdjust="spacingAndGlyphs" ><tspan font-style="italic">Cd44</tspan> shRNAs</text>
<text x="601.30" y="235.70" font-size="17.4" text-anchor="start" stroke="#000" stroke-width="0.22" font-weight="bold" >F</text>
<text x="653.70" y="233.50" font-size="12.5" text-anchor="start" stroke="#000" stroke-width="0.22" textLength="93" lengthAdjust="spacingAndGlyphs" >344SQ-<tspan font-style="italic">Cd44</tspan> KD</text>
<rect x="673.50" y="292.50" width="22.00" height="80.00" fill="#d3d3d3" stroke="#999" stroke-width="1" />
<rect x="706.50" y="331.50" width="21.00" height="41.00" fill="#f5a3a3" stroke="#999" stroke-width="1" />
<rect x="662.50" y="245.50" width="76.00" height="127.00" fill="none" stroke="#aaaaaa" stroke-width="1" />
<line x1="658.30" y1="245.50" x2="662.30" y2="245.50" stroke="#555" stroke-width="1" />
<text x="657.20" y="249.46" font-size="11" text-anchor="end" stroke="#000" stroke-width="0.22" >1.0</text>
<line x1="658.30" y1="271.50" x2="662.30" y2="271.50" stroke="#555" stroke-width="1" />
<text x="657.20" y="275.26" font-size="11" text-anchor="end" stroke="#000" stroke-width="0.22" >0.8</text>
<line x1="658.30" y1="296.50" x2="662.30" y2="296.50" stroke="#555" stroke-width="1" />
<text x="657.20" y="299.96" font-size="11" text-anchor="end" stroke="#000" stroke-width="0.22" >0.6</text>
<line x1="658.30" y1="322.50" x2="662.30" y2="322.50" stroke="#555" stroke-width="1" />
<text x="657.20" y="325.96" font-size="11" text-anchor="end" stroke="#000" stroke-width="0.22" >0.4</text>
<line x1="658.30" y1="347.50" x2="662.30" y2="347.50" stroke="#555" stroke-width="1" />
<text x="657.20" y="350.96" font-size="11" text-anchor="end" stroke="#000" stroke-width="0.22" >0.2</text>
<line x1="658.30" y1="372.50" x2="662.30" y2="372.50" stroke="#555" stroke-width="1" />
<text x="657.20" y="376.56" font-size="11" text-anchor="end" stroke="#000" stroke-width="0.22" >0.0</text>
<text transform="translate(637.00,358.00) rotate(-90)" font-size="10.5" text-anchor="start" stroke="#000" stroke-width="0.22" textLength="96" lengthAdjust="spacingAndGlyphs" >Tumor volume (cm<tspan baseline-shift="super" font-size="7">3</tspan>)</text>
<line x1="684.50" y1="292.00" x2="684.50" y2="281.60" stroke="#888" stroke-width="1" /><line x1="680.20" y1="281.50" x2="688.20" y2="281.50" stroke="#888" stroke-width="1" />
<line x1="717.50" y1="331.30" x2="717.50" y2="319.50" stroke="#888" stroke-width="1" /><line x1="713.10" y1="319.50" x2="721.10" y2="319.50" stroke="#888" stroke-width="1" />
<circle cx="684.7" cy="277.9" r="2.5" fill="#000"/>
<circle cx="675.4" cy="290.3" r="2.5" fill="#000"/>
<circle cx="693.3" cy="290.3" r="2.5" fill="#000"/>
<circle cx="684.7" cy="305.8" r="2.5" fill="#000"/>
<circle cx="684.7" cy="294.4" r="2.5" fill="#000"/>
<circle cx="716.8" cy="311.0" r="2.5" fill="#000"/>
<circle cx="707.8" cy="331.3" r="2.5" fill="#000"/>
<circle cx="726.0" cy="331.3" r="2.5" fill="#000"/>
<circle cx="707.8" cy="341.0" r="2.5" fill="#000"/>
<circle cx="726.0" cy="340.2" r="2.5" fill="#000"/>
<path d="M684.7,267.7V265.2H718.0V267.7" fill="none" stroke="#555" stroke-width="1"/>
<text x="681.30" y="260.50" font-size="11" text-anchor="start" stroke="#000" stroke-width="0.22" textLength="40.3" lengthAdjust="spacingAndGlyphs" ><tspan font-style="italic">P</tspan>&lt;0.001</text>
<text x="684.00" y="389.00" font-size="11" text-anchor="middle" stroke="#000" stroke-width="0.22" >NTC</text>
<text x="716.80" y="389.00" font-size="11" text-anchor="middle" stroke="#000" stroke-width="0.22" >shC</text>
<text x="0.30" y="428.70" font-size="17.4" text-anchor="start" stroke="#000" stroke-width="0.22" font-weight="bold" >G</text>
<text x="56.70" y="443.50" font-size="13" text-anchor="start" stroke="#000" stroke-width="0.22" textLength="30.1" lengthAdjust="spacingAndGlyphs" >+con</text>
<text x="134.00" y="443.50" font-size="13" text-anchor="start" stroke="#000" stroke-width="0.22" textLength="27.4" lengthAdjust="spacingAndGlyphs" >+HA</text>
<text transform="translate(26.40,499.40) rotate(-90)" font-size="13" text-anchor="start" stroke="#000" stroke-width="0.22" textLength="28.4" lengthAdjust="spacingAndGlyphs" >NTC</text>
<text transform="translate(26.40,577.60) rotate(-90)" font-size="13" text-anchor="start" stroke="#000" stroke-width="0.22" textLength="25.6" lengthAdjust="spacingAndGlyphs" >shC</text>
<text x="261.70" y="448.90" font-size="12.5" text-anchor="start" stroke="#000" stroke-width="0.22" textLength="39.1" lengthAdjust="spacingAndGlyphs" >344SQ</text>
<rect x="237.50" y="529.50" width="14.00" height="59.00" fill="#f5a3a3" stroke="#999" stroke-width="1" />
<rect x="257.50" y="494.50" width="13.00" height="94.00" fill="#91c1f3" stroke="#999" stroke-width="1" />
<rect x="291.50" y="571.50" width="13.00" height="17.00" fill="#f5a3a3" stroke="#999" stroke-width="1" />
<rect x="311.50" y="556.50" width="13.00" height="32.00" fill="#91c1f3" stroke="#999" stroke-width="1" />
<rect x="230.50" y="460.50" width="101.00" height="128.00" fill="none" stroke="#aaaaaa" stroke-width="1" />
<line x1="226.20" y1="472.50" x2="230.20" y2="472.50" stroke="#555" stroke-width="1" />
<text x="225.30" y="476.79" font-size="10.8" text-anchor="end" stroke="#000" stroke-width="0.22" >500</text>
<line x1="226.20" y1="496.50" x2="230.20" y2="496.50" stroke="#555" stroke-width="1" />
<text x="225.30" y="499.89" font-size="10.8" text-anchor="end" stroke="#000" stroke-width="0.22" >400</text>
<line x1="226.20" y1="518.50" x2="230.20" y2="518.50" stroke="#555" stroke-width="1" />
<text x="225.30" y="522.79" font-size="10.8" text-anchor="end" stroke="#000" stroke-width="0.22" >300</text>
<line x1="226.20" y1="542.50" x2="230.20" y2="542.50" stroke="#555" stroke-width="1" />
<text x="225.30" y="545.89" font-size="10.8" text-anchor="end" stroke="#000" stroke-width="0.22" >200</text>
<line x1="226.20" y1="564.50" x2="230.20" y2="564.50" stroke="#555" stroke-width="1" />
<text x="225.30" y="568.79" font-size="10.8" text-anchor="end" stroke="#000" stroke-width="0.22" >100</text>
<line x1="226.20" y1="588.50" x2="230.20" y2="588.50" stroke="#555" stroke-width="1" />
<text x="225.30" y="591.89" font-size="10.8" text-anchor="end" stroke="#000" stroke-width="0.22" >0</text>
<text transform="translate(203.30,564.50) rotate(-90)" font-size="10.5" text-anchor="start" stroke="#000" stroke-width="0.22" textLength="81.5" lengthAdjust="spacingAndGlyphs" >Migrated cells (n)</text>
<line x1="244.50" y1="529.80" x2="244.50" y2="517.40" stroke="#888" stroke-width="1" /><line x1="240.00" y1="517.50" x2="248.00" y2="517.50" stroke="#888" stroke-width="1" />
<line x1="264.50" y1="494.50" x2="264.50" y2="484.60" stroke="#888" stroke-width="1" /><line x1="260.00" y1="484.50" x2="268.00" y2="484.50" stroke="#888" stroke-width="1" />
<line x1="298.50" y1="571.30" x2="298.50" y2="567.30" stroke="#888" stroke-width="1" /><line x1="294.00" y1="567.50" x2="302.00" y2="567.50" stroke="#888" stroke-width="1" />
<line x1="318.50" y1="556.30" x2="318.50" y2="546.30" stroke="#888" stroke-width="1" /><line x1="314.00" y1="546.50" x2="322.00" y2="546.50" stroke="#888" stroke-width="1" />
<circle cx="244.1" cy="522.1" r="2.3" fill="#000"/>
<circle cx="239.6" cy="534.9" r="2.3" fill="#000"/>
<circle cx="248.8" cy="533.0" r="2.3" fill="#000"/>
<rect x="261.70" y="483.20" width="4.20" height="4.20" fill="#000" stroke="none" stroke-width="1" />
<rect x="257.40" y="498.20" width="4.20" height="4.20" fill="#000" stroke="none" stroke-width="1" />
<rect x="267.10" y="495.40" width="4.20" height="4.20" fill="#000" stroke="none" stroke-width="1" />
<circle cx="302.3" cy="568.1" r="2.3" fill="#000"/>
<circle cx="297.4" cy="570.2" r="2.3" fill="#000"/>
<circle cx="297.4" cy="575.2" r="2.3" fill="#000"/>
<rect x="315.90" y="543.70" width="4.20" height="4.20" fill="#000" stroke="none" stroke-width="1" />
<rect x="315.90" y="553.80" width="4.20" height="4.20" fill="#000" stroke="none" stroke-width="1" />
<rect x="315.90" y="564.90" width="4.20" height="4.20" fill="#000" stroke="none" stroke-width="1" />
<path d="M243.0,480.9V478.4H264.3V480.9" fill="none" stroke="#555" stroke-width="1"/>
<text x="232.80" y="477.00" font-size="11" text-anchor="start" stroke="#000" stroke-width="0.22" textLength="44.9" lengthAdjust="spacingAndGlyphs" ><tspan font-style="italic">P</tspan>=0.0045</text>
<path d="M297.0,541.3V538.8H318.4V541.3" fill="none" stroke="#555" stroke-width="1"/>
<text x="298.00" y="535.30" font-size="11" text-anchor="start" stroke="#000" stroke-width="0.22" textLength="15.7" lengthAdjust="spacingAndGlyphs" >NS</text>
<rect x="282.40" y="467.50" width="13.60" height="7.50" fill="#f5a3a3" stroke="#999" stroke-width="0.8" />
<rect x="282.40" y="481.50" width="13.60" height="7.50" fill="#91c1f3" stroke="#999" stroke-width="0.8" />
<text x="304.50" y="475.80" font-size="11" text-anchor="start" stroke="#000" stroke-width="0.22" textLength="22.5" lengthAdjust="spacingAndGlyphs" >+con</text>
<text x="304.50" y="489.90" font-size="11" text-anchor="start" stroke="#000" stroke-width="0.22" textLength="19.2" lengthAdjust="spacingAndGlyphs" >+HA</text>
<text x="243.00" y="602.70" font-size="11" text-anchor="start" stroke="#000" stroke-width="0.22" textLength="21.9" lengthAdjust="spacingAndGlyphs" >NTC</text>
<text x="298.00" y="602.70" font-size="11" text-anchor="start" stroke="#000" stroke-width="0.22" textLength="18.3" lengthAdjust="spacingAndGlyphs" >shC</text>
<text x="340.20" y="428.40" font-size="17.4" text-anchor="start" stroke="#000" stroke-width="0.22" font-weight="bold" >H</text>
<text x="387.70" y="436.00" font-size="13" text-anchor="start" stroke="#22bb44" stroke-width="0.22" fill="#22bb44" textLength="38.3" lengthAdjust="spacingAndGlyphs" >HABP</text>
<text x="451.20" y="436.00" font-size="13" text-anchor="start" stroke="#e02424" stroke-width="0.22" fill="#e02424" textLength="61.6" lengthAdjust="spacingAndGlyphs" >Phalloidin</text>
<text x="538.80" y="436.00" font-size="13" text-anchor="start" stroke="#000" stroke-width="0.22" textLength="39.6" lengthAdjust="spacingAndGlyphs" >Merge</text>
<text transform="translate(363.70,500.00) rotate(-90)" font-size="13" text-anchor="start" stroke="#000" stroke-width="0.22" textLength="33" lengthAdjust="spacingAndGlyphs" >NTC</text>
<text transform="translate(363.70,575.40) rotate(-90)" font-size="13" text-anchor="start" stroke="#000" stroke-width="0.22" textLength="30.4" lengthAdjust="spacingAndGlyphs" >shC</text>
<text x="626.70" y="450.50" font-size="12.5" text-anchor="start" stroke="#000" stroke-width="0.22" textLength="92.6" lengthAdjust="spacingAndGlyphs" >344SQ-<tspan font-style="italic">Cd44</tspan> KD</text>
<rect x="645.50" y="518.50" width="20.00" height="70.00" fill="#d3d3d3" stroke="#999" stroke-width="1" />
<rect x="680.50" y="569.50" width="20.00" height="19.00" fill="#f5a3a3" stroke="#999" stroke-width="1" />
<rect x="635.50" y="461.50" width="75.00" height="127.00" fill="none" stroke="#aaaaaa" stroke-width="1" />
<line x1="631.00" y1="482.50" x2="635.00" y2="482.50" stroke="#555" stroke-width="1" />
<text x="630.00" y="486.66" font-size="11" text-anchor="end" stroke="#000" stroke-width="0.22" >1.5</text>
<line x1="631.00" y1="518.50" x2="635.00" y2="518.50" stroke="#555" stroke-width="1" />
<text x="630.00" y="522.26" font-size="11" text-anchor="end" stroke="#000" stroke-width="0.22" >1.0</text>
<line x1="631.00" y1="553.50" x2="635.00" y2="553.50" stroke="#555" stroke-width="1" />
<text x="630.00" y="557.26" font-size="11" text-anchor="end" stroke="#000" stroke-width="0.22" >0.5</text>
<line x1="631.00" y1="588.50" x2="635.00" y2="588.50" stroke="#555" stroke-width="1" />
<text x="630.00" y="592.26" font-size="11" text-anchor="end" stroke="#000" stroke-width="0.22" >0.0</text>
<text transform="translate(612.50,585.00) rotate(-90)" font-size="10.5" text-anchor="start" stroke="#000" stroke-width="0.22" textLength="118.3" lengthAdjust="spacingAndGlyphs" >Relative HA staining area</text>
<line x1="655.50" y1="518.30" x2="655.50" y2="498.30" stroke="#888" stroke-width="1" /><line x1="651.00" y1="498.50" x2="659.00" y2="498.50" stroke="#888" stroke-width="1" />
<line x1="690.50" y1="569.00" x2="690.50" y2="544.00" stroke="#888" stroke-width="1" /><line x1="686.00" y1="544.50" x2="694.00" y2="544.50" stroke="#888" stroke-width="1" />
<circle cx="646.7" cy="496.7" r="2.2" fill="#000"/>
<circle cx="656.0" cy="496.0" r="2.2" fill="#000"/>
<circle cx="661.7" cy="502.7" r="2.2" fill="#000"/>
<circle cx="646.7" cy="509.3" r="2.2" fill="#000"/>
<circle cx="663.3" cy="510.7" r="2.2" fill="#000"/>
<circle cx="655.0" cy="516.7" r="2.2" fill="#000"/>
<circle cx="663.3" cy="517.3" r="2.2" fill="#000"/>
<circle cx="646.7" cy="530.0" r="2.2" fill="#000"/>
<circle cx="655.0" cy="530.0" r="2.2" fill="#000"/>
<circle cx="655.0" cy="560.7" r="2.2" fill="#000"/>
<circle cx="690.0" cy="499.0" r="2.2" fill="#000"/>
<circle cx="683.0" cy="573.0" r="2.2" fill="#000"/>
<circle cx="690.0" cy="572.5" r="2.2" fill="#000"/>
<circle cx="697.0" cy="573.0" r="2.2" fill="#000"/>
<circle cx="683.0" cy="582.0" r="2.2" fill="#000"/>
<circle cx="690.0" cy="582.0" r="2.2" fill="#000"/>
<circle cx="697.0" cy="580.0" r="2.2" fill="#000"/>
<circle cx="686.5" cy="577.0" r="2.2" fill="#000"/>
<circle cx="693.5" cy="577.0" r="2.2" fill="#000"/>
<path d="M655.0,485.2V482.7H690.7V485.2" fill="none" stroke="#555" stroke-width="1"/>
<text x="651.70" y="479.00" font-size="11" text-anchor="start" stroke="#000" stroke-width="0.22" textLength="45" lengthAdjust="spacingAndGlyphs" ><tspan font-style="italic">P</tspan>&lt;0.0001</text>
<text x="655.00" y="603.30" font-size="11" text-anchor="middle" stroke="#000" stroke-width="0.22" >NTC</text>
<text x="690.00" y="603.30" font-size="11" text-anchor="middle" stroke="#000" stroke-width="0.22" >shC</text>
<text x="731.00" y="428.40" font-size="17.4" text-anchor="start" stroke="#000" stroke-width="0.22" font-weight="bold" >I</text>
<text x="793.20" y="449.00" font-size="12.5" text-anchor="start" stroke="#000" stroke-width="0.22" textLength="74.5" lengthAdjust="spacingAndGlyphs" >TCGA_LUAD</text>
<path d="M837.0,508.2h0M837.5,519.4h0M826.8,522.4h0M857.7,500.8h0M856.5,503.6h0M846.8,508.6h0M815.7,512.5h0M848.5,503.6h0M815.3,548.2h0M827.4,525.7h0M845.5,512.3h0M848.7,519.1h0M845.5,506.3h0M830.9,494.3h0M849.3,493.7h0M831.5,527.7h0M835.7,517.3h0M850.4,506.2h0M834.1,529.6h0M833.0,500.2h0M828.7,515.4h0M847.3,531.3h0M841.6,495.4h0M810.5,530.8h0M839.3,525.5h0M848.4,511.3h0M818.8,511.6h0M851.0,496.4h0M862.6,499.5h0M842.7,530.7h0M850.2,518.1h0M834.0,533.8h0M826.3,527.0h0M860.3,533.3h0M818.9,519.6h0M862.7,496.6h0M812.2,560.2h0M846.3,521.4h0M824.0,507.3h0M857.5,504.5h0M844.6,506.1h0M864.9,495.0h0M848.7,502.8h0M817.2,506.0h0M855.3,500.3h0M811.1,534.8h0M853.6,533.1h0M838.1,500.8h0M821.1,499.9h0M849.2,512.2h0M845.8,502.7h0M842.7,497.2h0M830.9,523.5h0M856.6,506.7h0M827.6,506.2h0M863.0,510.4h0M820.0,524.2h0M838.6,518.7h0M862.1,518.8h0M859.9,523.0h0M829.0,510.0h0M857.9,494.7h0M846.1,509.5h0M843.2,504.8h0M838.2,510.9h0M849.5,510.0h0M852.4,501.0h0M871.2,496.4h0M834.4,521.4h0M840.7,501.1h0M835.8,510.5h0M868.6,537.1h0M823.9,517.4h0M846.9,507.8h0M834.4,507.4h0M845.1,519.0h0M877.5,493.4h0M832.5,518.5h0M837.5,515.9h0M799.7,537.6h0M856.1,523.2h0M839.9,501.0h0M853.8,487.8h0M815.2,529.3h0M835.7,507.3h0M857.3,543.5h0M857.3,526.6h0M851.2,529.7h0M843.5,496.2h0M838.6,512.0h0M852.9,506.6h0M839.5,493.2h0M856.7,511.0h0M854.7,511.5h0M842.9,503.1h0M844.2,503.5h0M817.8,544.0h0M850.2,522.9h0M825.4,540.3h0M860.0,495.4h0M863.1,517.1h0M840.9,529.2h0M852.4,487.0h0M827.4,497.9h0M855.8,509.8h0M811.1,506.9h0M839.4,522.5h0M846.9,505.5h0M863.5,518.1h0M858.0,486.1h0M862.8,506.9h0M829.6,504.4h0M842.6,511.2h0M862.4,508.2h0M806.2,533.5h0M812.9,514.2h0M845.7,520.0h0M840.7,502.3h0M842.1,495.0h0M839.9,499.8h0M863.4,482.1h0M830.7,505.8h0M812.6,540.4h0M811.2,511.4h0M822.3,521.6h0M838.0,515.2h0M831.9,514.2h0M867.9,501.7h0M848.9,496.6h0M837.9,532.1h0M832.5,502.4h0M816.0,532.3h0M856.1,496.4h0M841.0,502.6h0M843.4,528.7h0M817.3,532.3h0M854.8,515.5h0M827.3,529.9h0M817.8,524.9h0M823.1,516.1h0M805.3,524.1h0M831.2,544.3h0M851.8,512.8h0M807.2,539.8h0M845.3,518.1h0M852.6,498.4h0M850.9,504.9h0M861.0,496.1h0M847.7,539.3h0M854.4,490.0h0M836.4,521.9h0M870.2,525.4h0M847.9,477.5h0M826.9,510.1h0M869.3,503.3h0M849.3,497.7h0M827.2,520.6h0M845.3,500.5h0M840.4,516.5h0M825.5,525.0h0M854.3,506.6h0M828.0,530.6h0M881.1,481.1h0M850.5,545.1h0M850.3,503.1h0M866.3,497.1h0M839.9,506.9h0M811.5,511.8h0M845.8,521.2h0M860.9,480.4h0M819.7,531.6h0M845.3,509.3h0M834.9,529.5h0M872.9,486.0h0M822.8,539.6h0M866.6,489.3h0M868.4,491.0h0M827.7,515.6h0M808.3,537.6h0M840.0,506.8h0M829.9,519.9h0M847.8,505.6h0M850.5,506.7h0M836.0,504.9h0M841.6,524.6h0M831.4,517.6h0M839.2,512.2h0M840.9,511.2h0M838.8,531.7h0M847.2,496.5h0M847.4,513.5h0M847.6,524.0h0M812.3,524.8h0M826.8,509.4h0M824.5,556.5h0M825.2,498.6h0M835.1,534.8h0M829.3,511.3h0M848.4,508.1h0M863.3,494.5h0M840.6,505.6h0M865.8,489.8h0M856.3,522.0h0M838.6,504.6h0M836.4,500.9h0M849.9,497.4h0M837.7,480.1h0M859.6,508.7h0M842.2,477.5h0M835.7,503.8h0M855.7,507.3h0M823.3,518.5h0M846.3,495.9h0M852.7,508.3h0M853.8,500.8h0M844.0,511.6h0M837.2,505.8h0M825.0,528.9h0M840.9,533.6h0M834.3,543.9h0M830.6,510.2h0M849.4,510.8h0M837.4,534.5h0M868.5,495.0h0M857.4,518.8h0M838.1,539.7h0M852.7,495.9h0M812.2,526.4h0M850.4,533.8h0M813.3,539.8h0M831.4,536.8h0M841.3,510.0h0M850.4,500.0h0M863.6,488.2h0M821.1,528.9h0M824.9,535.1h0M839.6,514.1h0M848.3,532.3h0M822.2,521.8h0M837.9,519.2h0M839.9,524.4h0M851.5,504.3h0M839.5,523.4h0M838.2,552.0h0M826.1,519.3h0M818.2,520.4h0M843.1,531.6h0M837.1,519.5h0M847.8,502.3h0M840.3,525.5h0M838.7,515.4h0M852.0,504.9h0M830.0,536.8h0M835.2,526.1h0M824.1,522.3h0M833.5,515.3h0M848.8,516.0h0M876.0,503.3h0M857.5,505.0h0M857.7,539.1h0M829.5,515.0h0M850.0,477.8h0M845.7,494.1h0M852.4,495.8h0M848.6,512.5h0M848.6,525.2h0M858.7,520.1h0M844.6,483.0h0M837.5,514.8h0M858.4,505.9h0M828.7,515.2h0M849.7,500.2h0M829.2,494.5h0M866.0,502.8h0M844.9,517.8h0M862.2,514.3h0M851.0,515.9h0M830.4,508.2h0M861.0,505.3h0M830.6,506.8h0M840.1,509.7h0M863.9,488.5h0M833.0,485.6h0M840.9,502.8h0M831.1,518.3h0M814.5,500.2h0M861.5,521.6h0M818.2,545.4h0M858.6,512.5h0M840.0,518.3h0M839.0,529.3h0M841.2,533.2h0M839.8,509.9h0M847.9,513.8h0M827.2,517.2h0M833.6,495.3h0M852.5,510.3h0M833.8,526.2h0M826.7,524.4h0M845.3,504.7h0M849.5,481.3h0M830.2,517.9h0M833.0,514.6h0M843.2,507.1h0M837.3,510.1h0M841.7,502.7h0M812.3,537.7h0M840.8,527.8h0M825.1,511.7h0M831.1,509.1h0M852.1,504.7h0M848.5,511.8h0M819.6,523.0h0M847.7,518.0h0M839.4,504.0h0M827.6,510.4h0M869.0,509.4h0M843.1,514.8h0M864.1,499.5h0M854.4,517.4h0M840.6,513.9h0M814.1,505.2h0M854.4,531.9h0M852.1,510.7h0M847.6,505.8h0M818.2,526.0h0M863.4,512.0h0M825.4,538.7h0M822.4,516.8h0M866.4,497.0h0M844.6,481.5h0M833.0,526.2h0M848.8,502.8h0M825.6,536.1h0M845.3,508.4h0M821.1,524.7h0M832.7,510.8h0M839.1,515.5h0M835.5,501.4h0M861.9,509.8h0M853.6,518.6h0M842.0,502.9h0M863.7,509.3h0M839.8,511.4h0M818.3,522.9h0M830.7,512.8h0M823.8,547.9h0M841.4,509.8h0M832.6,504.9h0M836.7,523.7h0M848.1,532.1h0M830.6,518.2h0M853.7,510.5h0M845.5,520.7h0M845.4,488.9h0M830.5,485.6h0M831.2,517.5h0M843.5,498.5h0M822.2,550.2h0M850.0,498.9h0M844.0,508.9h0M854.9,502.7h0M866.0,520.0h0M835.2,563.2h0M853.1,513.6h0M854.8,478.3h0M840.8,517.2h0M833.3,528.3h0M831.4,508.9h0M841.4,512.5h0M838.3,502.2h0M848.3,512.4h0M850.9,511.5h0M823.5,501.0h0M847.9,523.8h0M857.2,502.1h0M817.3,501.5h0M845.9,499.3h0M843.9,514.4h0M817.5,510.1h0M841.3,517.4h0M846.2,510.3h0M851.1,514.4h0M840.3,543.2h0M834.5,507.1h0M861.0,510.1h0M839.0,492.7h0M836.0,505.6h0M866.2,502.4h0M859.4,515.6h0M844.0,513.4h0M842.6,497.4h0M876.9,507.6h0M832.2,510.5h0M824.9,513.5h0M849.5,513.8h0M848.9,531.5h0M852.3,530.0h0M830.4,525.7h0M834.8,504.4h0M842.1,518.6h0M849.1,488.5h0M841.0,508.6h0M859.6,502.1h0M821.5,487.7h0M874.2,526.8h0M840.3,508.2h0M855.4,498.3h0M836.8,529.8h0M842.4,498.8h0M824.4,534.6h0M840.5,540.3h0M836.9,521.3h0M847.7,520.4h0M827.6,524.6h0M840.1,523.0h0M841.1,503.3h0M858.8,482.8h0M829.0,524.3h0M803.4,503.4h0M829.9,518.7h0M848.8,528.9h0M847.9,511.0h0M813.3,521.2h0M858.9,531.6h0M853.1,505.6h0M848.0,504.6h0M860.6,508.4h0M854.1,513.7h0M851.9,520.2h0M839.2,490.6h0M847.6,513.0h0M823.6,531.7h0M843.8,499.5h0M847.3,503.7h0M840.2,495.4h0M835.0,523.6h0M854.3,507.1h0M836.7,523.3h0M837.0,506.7h0M846.2,528.0h0M847.3,508.5h0M825.8,509.4h0M836.6,520.0h0M852.9,490.5h0M830.5,512.0h0M827.6,487.5h0M833.4,500.4h0M831.1,506.6h0M874.4,534.4h0M834.3,509.5h0M839.5,523.4h0M873.4,498.9h0M816.1,512.4h0M814.9,508.8h0M832.2,515.3h0M859.9,504.0h0M819.9,545.7h0M858.7,496.0h0M828.6,507.0h0M848.4,501.6h0M806.8,532.1h0M854.5,497.9h0M854.2,541.7h0M843.4,505.8h0M879.4,510.5h0M835.9,515.2h0M854.2,514.1h0M858.2,517.1h0M844.9,519.2h0M843.3,522.1h0M816.8,508.8h0M845.5,519.4h0M843.9,498.8h0M826.1,521.3h0M849.0,503.0h0M835.8,544.6h0M859.6,501.3h0M841.1,517.4h0M844.8,517.8h0M825.4,530.3h0M831.9,525.8h0M823.4,512.3h0M821.1,512.9h0M825.6,515.2h0M861.6,502.1h0M829.8,517.6h0M843.1,536.4h0M831.7,515.2h0M833.8,515.5h0M851.9,498.5h0M854.5,499.8h0M836.5,515.7h0M836.8,519.6h0M838.2,538.4h0M835.8,516.1h0M826.2,520.1h0M848.7,512.6h0M872.2,536.2h0M837.8,539.9h0M803.1,527.7h0M848.7,514.5h0M849.2,540.9h0M853.7,503.1h0M841.2,521.5h0M850.5,516.2h0M844.2,519.2h0M807.0,528.3h0M843.9,502.0h0M827.6,519.6h0M850.2,507.7h0M859.6,478.5h0M827.2,545.7h0M853.8,487.2h0M854.8,496.6h0M831.5,527.3h0M854.3,520.5h0M813.5,538.8h0M830.5,528.0h0M844.4,522.4h0M860.6,506.4h0M824.5,502.6h0M832.1,514.3h0M840.7,518.0h0M845.8,521.1h0M813.0,555.6h0M821.8,532.0h0M840.5,513.0h0M849.3,508.5h0M828.9,528.4h0M808.9,529.4h0M848.2,503.3h0M839.0,516.8h0M855.0,507.5h0M852.0,501.0h0M844.1,494.4h0M832.2,522.2h0M828.7,529.7h0M864.4,479.7h0M841.2,505.7h0M858.6,495.1h0M859.1,523.3h0M831.2,511.5h0M862.5,503.1h0M827.9,523.9h0M830.9,529.6h0M863.5,512.7h0M841.2,483.9h0M858.8,501.5h0M831.6,511.9h0M865.3,494.8h0M859.9,504.3h0M848.7,513.1h0M847.3,493.1h0M819.3,523.6h0M782.9,527.9h0M801.2,516.8h0M823.4,574.8h0" stroke="#c9c9c9" stroke-width="2.8" stroke-linecap="round" fill="none"/>
<line x1="783.70" y1="543.90" x2="880.50" y2="496.70" stroke="#f07878" stroke-width="1.5" />
<rect x="766.50" y="461.50" width="127.00" height="127.00" fill="none" stroke="#aaaaaa" stroke-width="1" />
<line x1="763.20" y1="461.50" x2="766.20" y2="461.50" stroke="#555" stroke-width="1" />
<text x="761.50" y="465.34" font-size="11.5" text-anchor="end" stroke="#000" stroke-width="0.22" >16</text>
<line x1="763.20" y1="492.50" x2="766.20" y2="492.50" stroke="#555" stroke-width="1" />
<text x="761.50" y="496.94" font-size="11.5" text-anchor="end" stroke="#000" stroke-width="0.22" >14</text>
<line x1="763.20" y1="524.50" x2="766.20" y2="524.50" stroke="#555" stroke-width="1" />
<text x="761.50" y="528.84" font-size="11.5" text-anchor="end" stroke="#000" stroke-width="0.22" >12</text>
<line x1="763.20" y1="556.50" x2="766.20" y2="556.50" stroke="#555" stroke-width="1" />
<text x="761.50" y="560.34" font-size="11.5" text-anchor="end" stroke="#000" stroke-width="0.22" >10</text>
<line x1="763.20" y1="588.50" x2="766.20" y2="588.50" stroke="#555" stroke-width="1" />
<text x="761.50" y="592.44" font-size="11.5" text-anchor="end" stroke="#000" stroke-width="0.22" >8</text>
<line x1="766.50" y1="588.30" x2="766.50" y2="591.30" stroke="#555" stroke-width="1" />
<text x="766.20" y="604.30" font-size="11.5" text-anchor="middle" stroke="#000" stroke-width="0.22" >4</text>
<line x1="798.50" y1="588.30" x2="798.50" y2="591.30" stroke="#555" stroke-width="1" />
<text x="798.30" y="604.30" font-size="11.5" text-anchor="middle" stroke="#000" stroke-width="0.22" >6</text>
<line x1="830.50" y1="588.30" x2="830.50" y2="591.30" stroke="#555" stroke-width="1" />
<text x="830.00" y="604.30" font-size="11.5" text-anchor="middle" stroke="#000" stroke-width="0.22" >8</text>
<line x1="861.50" y1="588.30" x2="861.50" y2="591.30" stroke="#555" stroke-width="1" />
<text x="861.80" y="604.30" font-size="11.5" text-anchor="middle" stroke="#000" stroke-width="0.22" >10</text>
<line x1="893.50" y1="588.30" x2="893.50" y2="591.30" stroke="#555" stroke-width="1" />
<text x="893.30" y="604.30" font-size="11.5" text-anchor="middle" stroke="#000" stroke-width="0.22" >12</text>
<text x="803.50" y="617.10" font-size="11" text-anchor="start" stroke="#000" stroke-width="0.22" textLength="52" lengthAdjust="spacingAndGlyphs" >log<tspan font-size="7.5" dy="2.5">2</tspan><tspan dy="-2.5">(</tspan><tspan font-style="italic">ZEB1</tspan>)</text>
<text transform="translate(742.50,550.30) rotate(-90)" font-size="11" text-anchor="start" stroke="#000" stroke-width="0.22" textLength="52" lengthAdjust="spacingAndGlyphs" >log<tspan font-size="7.5" dy="2.5">2</tspan><tspan dy="-2.5">(</tspan><tspan font-style="italic">CD44</tspan>)</text>
<text x="771.40" y="474.40" font-size="11.5" text-anchor="start" stroke="#000" stroke-width="0.22" textLength="93.6" lengthAdjust="spacingAndGlyphs" >Spearman r=0.4013</text>
<text x="771.40" y="487.20" font-size="11.5" text-anchor="start" stroke="#000" stroke-width="0.22" textLength="44.9" lengthAdjust="spacingAndGlyphs" ><tspan font-style="italic">P</tspan>&lt;0.0001</text>
<text x="0.10" y="637.00" font-size="17.4" text-anchor="start" stroke="#000" stroke-width="0.22" font-weight="bold" >J</text>
<text x="71.60" y="644.50" font-size="12.5" text-anchor="start" stroke="#000" stroke-width="0.22" font-style="italic" textLength="31" lengthAdjust="spacingAndGlyphs" >Esrp1</text>
<rect x="60.50" y="698.50" width="21.00" height="84.00" fill="#8fbdf3" stroke="#999" stroke-width="1" />
<rect x="88.50" y="780.50" width="21.00" height="2.00" fill="#f5a3a3" stroke="#999" stroke-width="1" />
<rect x="47.50" y="655.50" width="78.00" height="127.00" fill="none" stroke="#aaaaaa" stroke-width="1" />
<line x1="43.70" y1="655.50" x2="47.70" y2="655.50" stroke="#555" stroke-width="1" />
<text x="43.30" y="659.36" font-size="11" text-anchor="end" stroke="#000" stroke-width="0.22" >1.5</text>
<line x1="43.70" y1="698.50" x2="47.70" y2="698.50" stroke="#555" stroke-width="1" />
<text x="43.30" y="702.76" font-size="11" text-anchor="end" stroke="#000" stroke-width="0.22" >1.0</text>
<line x1="43.70" y1="740.50" x2="47.70" y2="740.50" stroke="#555" stroke-width="1" />
<text x="43.30" y="744.66" font-size="11" text-anchor="end" stroke="#000" stroke-width="0.22" >0.5</text>
<line x1="43.70" y1="782.50" x2="47.70" y2="782.50" stroke="#555" stroke-width="1" />
<text x="43.30" y="786.56" font-size="11" text-anchor="end" stroke="#000" stroke-width="0.22" >0.0</text>
<text transform="translate(23.00,782.60) rotate(-90)" font-size="10.5" text-anchor="start" stroke="#000" stroke-width="0.22" textLength="124" lengthAdjust="spacingAndGlyphs" >Relative mRNA expression</text>
<line x1="71.50" y1="698.80" x2="71.50" y2="684.30" stroke="#888" stroke-width="1" /><line x1="67.00" y1="684.50" x2="75.00" y2="684.50" stroke="#888" stroke-width="1" />
<circle cx="70.8" cy="685.0" r="2.4" fill="#000"/>
<circle cx="70.8" cy="701.1" r="2.4" fill="#000"/>
<circle cx="70.8" cy="709.0" r="2.4" fill="#000"/>
<rect x="91.80" y="778.10" width="4.40" height="4.40" fill="#000" stroke="none" stroke-width="1" />
<rect x="100.40" y="778.10" width="4.40" height="4.40" fill="#000" stroke="none" stroke-width="1" />
<rect x="109.80" y="778.10" width="4.40" height="4.40" fill="#000" stroke="none" stroke-width="1" />
<path d="M70.8,678.8V676.3H102.6V678.8" fill="none" stroke="#555" stroke-width="1"/>
<text x="64.20" y="672.50" font-size="11" text-anchor="start" stroke="#000" stroke-width="0.22" textLength="45.6" lengthAdjust="spacingAndGlyphs" ><tspan font-style="italic">P</tspan>=0.0004</text>
<text x="57.80" y="799.60" font-size="11" text-anchor="start" stroke="#000" stroke-width="0.22" textLength="26" lengthAdjust="spacingAndGlyphs" >393P</text>
<text x="86.70" y="799.60" font-size="11" text-anchor="start" stroke="#000" stroke-width="0.22" textLength="33.3" lengthAdjust="spacingAndGlyphs" >344SQ</text>
<text x="192.20" y="644.50" font-size="12.5" text-anchor="start" stroke="#000" stroke-width="0.22" font-style="italic" textLength="30.8" lengthAdjust="spacingAndGlyphs" >Esrp1</text>
<rect x="180.50" y="697.50" width="22.00" height="85.00" fill="#8fbdf3" stroke="#999" stroke-width="1" />
<rect x="213.50" y="727.50" width="21.00" height="55.00" fill="#f5a3a3" stroke="#999" stroke-width="1" />
<rect x="167.50" y="655.50" width="78.00" height="127.00" fill="none" stroke="#aaaaaa" stroke-width="1" />
<line x1="163.60" y1="655.50" x2="167.60" y2="655.50" stroke="#555" stroke-width="1" />
<text x="164.00" y="659.36" font-size="11" text-anchor="end" stroke="#000" stroke-width="0.22" >1.5</text>
<line x1="163.60" y1="697.50" x2="167.60" y2="697.50" stroke="#555" stroke-width="1" />
<text x="164.00" y="701.36" font-size="11" text-anchor="end" stroke="#000" stroke-width="0.22" >1.0</text>
<line x1="163.60" y1="739.50" x2="167.60" y2="739.50" stroke="#555" stroke-width="1" />
<text x="164.00" y="743.76" font-size="11" text-anchor="end" stroke="#000" stroke-width="0.22" >0.5</text>
<line x1="163.60" y1="782.50" x2="167.60" y2="782.50" stroke="#555" stroke-width="1" />
<text x="164.00" y="786.26" font-size="11" text-anchor="end" stroke="#000" stroke-width="0.22" >0.0</text>
<text transform="translate(143.00,782.30) rotate(-90)" font-size="10.5" text-anchor="start" stroke="#000" stroke-width="0.22" textLength="124" lengthAdjust="spacingAndGlyphs" >Relative mRNA expression</text>
<line x1="191.50" y1="697.40" x2="191.50" y2="695.30" stroke="#888" stroke-width="1" /><line x1="187.30" y1="695.50" x2="195.30" y2="695.50" stroke="#888" stroke-width="1" />
<line x1="224.50" y1="727.10" x2="224.50" y2="716.70" stroke="#888" stroke-width="1" /><line x1="220.00" y1="716.50" x2="228.00" y2="716.50" stroke="#888" stroke-width="1" />
<circle cx="182.6" cy="698.8" r="2.4" fill="#000"/>
<circle cx="191.3" cy="696.5" r="2.4" fill="#000"/>
<circle cx="200.0" cy="697.4" r="2.4" fill="#000"/>
<rect x="221.80" y="714.50" width="4.40" height="4.40" fill="#000" stroke="none" stroke-width="1" />
<rect x="221.80" y="725.50" width="4.40" height="4.40" fill="#000" stroke="none" stroke-width="1" />
<rect x="221.80" y="733.60" width="4.40" height="4.40" fill="#000" stroke="none" stroke-width="1" />
<path d="M191.3,688.3V685.8H224.0V688.3" fill="none" stroke="#555" stroke-width="1"/>
<text x="188.40" y="682.60" font-size="11" text-anchor="start" stroke="#000" stroke-width="0.22" textLength="39.9" lengthAdjust="spacingAndGlyphs" ><tspan font-style="italic">P</tspan>=0.006</text>
<text x="190.70" y="798.70" font-size="11" text-anchor="middle" stroke="#000" stroke-width="0.22" >vec</text>
<text x="224.00" y="798.70" font-size="11" text-anchor="middle" stroke="#000" stroke-width="0.22" >ZEB1</text>
<line x1="178.60" y1="802.50" x2="237.00" y2="802.50" stroke="#555" stroke-width="1" />
<text x="205.20" y="816.00" font-size="11" text-anchor="middle" stroke="#000" stroke-width="0.22" >393P</text>
<text x="266.70" y="637.00" font-size="17.4" text-anchor="start" stroke="#000" stroke-width="0.22" font-weight="bold" >K</text>
<text x="334.40" y="645.50" font-size="12.5" text-anchor="start" stroke="#000" stroke-width="0.22" textLength="73.2" lengthAdjust="spacingAndGlyphs" >TCGA_LUAD</text>
<path d="M367.1,699.4h0M400.7,718.9h0M365.5,702.1h0M392.9,703.6h0M367.2,712.2h0M396.3,709.7h0M408.8,710.6h0M384.1,710.8h0M373.8,713.5h0M387.1,708.7h0M380.4,707.8h0M389.8,705.5h0M402.2,714.0h0M358.6,693.6h0M364.2,702.4h0M363.3,700.8h0M373.9,703.2h0M398.4,724.2h0M381.3,702.5h0M384.2,705.9h0M387.2,717.6h0M394.2,718.7h0M413.9,723.9h0M396.0,713.2h0M400.0,719.3h0M400.7,715.9h0M404.7,711.7h0M387.8,716.0h0M397.2,710.1h0M410.5,721.6h0M394.0,708.6h0M389.9,709.3h0M388.4,714.9h0M370.3,706.5h0M394.6,701.1h0M400.4,706.8h0M397.4,708.4h0M388.4,704.4h0M412.5,722.0h0M375.1,690.3h0M389.3,703.2h0M398.9,723.0h0M422.4,709.6h0M388.3,704.5h0M387.6,716.8h0M383.9,705.8h0M402.5,710.2h0M386.5,699.2h0M374.1,698.8h0M402.5,717.9h0M358.5,705.9h0M389.2,706.6h0M409.1,725.8h0M385.7,704.3h0M383.2,726.5h0M397.8,696.2h0M400.8,722.0h0M379.4,705.2h0M423.3,718.8h0M387.4,698.0h0M384.4,694.6h0M375.3,709.0h0M396.5,702.5h0M395.5,710.7h0M358.1,704.3h0M376.4,709.8h0M394.5,715.2h0M397.5,713.2h0M380.6,706.5h0M392.1,705.2h0M378.4,708.3h0M365.0,689.2h0M407.6,719.0h0M378.4,716.0h0M388.2,708.7h0M418.6,719.9h0M373.9,723.5h0M407.0,715.9h0M361.3,698.7h0M402.6,711.3h0M383.0,724.6h0M383.7,720.4h0M394.7,729.1h0M371.9,694.7h0M410.5,727.7h0M362.4,693.7h0M398.5,721.7h0M375.1,710.6h0M367.6,707.6h0M404.6,711.2h0M416.7,721.7h0M383.6,716.0h0M383.8,718.6h0M358.7,693.7h0M407.4,711.1h0M405.8,715.0h0M374.8,704.5h0M380.0,715.6h0M360.0,710.9h0M385.5,708.1h0M378.5,695.6h0M388.3,705.8h0M404.1,722.5h0M355.8,692.2h0M375.2,695.3h0M390.7,703.5h0M397.2,729.6h0M396.5,718.5h0M374.2,708.3h0M397.3,706.9h0M400.9,727.8h0M376.7,724.1h0M384.1,704.1h0M374.1,703.0h0M389.1,702.9h0M373.2,710.9h0M374.1,691.5h0M402.1,716.5h0M389.0,709.7h0M388.7,712.0h0M380.6,717.0h0M375.9,693.0h0M393.7,711.9h0M382.4,707.6h0M391.0,716.2h0M388.6,708.6h0M374.3,711.0h0M370.5,711.7h0M399.1,732.4h0M381.6,712.4h0M376.3,705.0h0M402.7,715.2h0M383.5,713.1h0M383.7,701.5h0M379.7,715.8h0M366.5,710.5h0M364.6,692.9h0M391.0,713.1h0M407.7,722.7h0M397.0,707.5h0M362.2,712.3h0M371.6,697.0h0M405.2,726.1h0M401.5,718.2h0M379.7,711.2h0M380.7,721.3h0M370.5,713.0h0M393.1,696.1h0M359.6,702.5h0M371.4,688.7h0M394.3,718.1h0M399.8,710.5h0M361.0,704.0h0M382.0,707.7h0M387.6,712.6h0M388.5,714.8h0M372.1,692.5h0M391.1,708.0h0M361.5,701.4h0M398.0,723.8h0M402.2,718.5h0M391.7,712.6h0M388.9,701.3h0M379.5,695.0h0M373.8,711.9h0M396.4,721.5h0M380.0,700.2h0M403.9,729.8h0M393.3,697.8h0M403.7,718.0h0M376.5,708.1h0M368.2,704.7h0M382.8,709.3h0M403.5,717.8h0M363.6,692.9h0M369.4,706.5h0M383.6,711.1h0M370.5,705.4h0M418.7,726.4h0M383.6,699.9h0M396.9,707.7h0M398.7,729.3h0M372.6,703.3h0M393.2,702.2h0M392.7,713.8h0M386.2,711.1h0M389.4,705.5h0M380.5,713.5h0M372.7,696.0h0M405.0,709.0h0M398.6,707.8h0M385.6,704.2h0M369.7,704.8h0M374.5,699.5h0M376.9,706.8h0M391.7,701.2h0M373.7,711.9h0M398.0,722.4h0M392.5,716.2h0M384.0,722.6h0M396.4,717.2h0M372.0,688.2h0M396.4,686.5h0M391.8,714.3h0M387.3,697.6h0M385.2,705.7h0M393.4,719.2h0M387.6,713.9h0M366.8,695.4h0M395.7,712.5h0M371.9,719.4h0M393.0,712.8h0M360.2,700.1h0M362.6,700.7h0M387.8,707.4h0M388.9,709.2h0M368.4,705.7h0M377.9,708.1h0M389.7,706.1h0M391.7,713.1h0M420.1,715.2h0M360.6,696.7h0M377.8,698.7h0M369.7,704.0h0M383.6,709.3h0M376.8,720.0h0M392.6,704.3h0M384.6,716.7h0M388.7,706.1h0M383.0,708.4h0M406.9,725.9h0M377.2,720.6h0M375.0,710.9h0M371.1,709.1h0M412.8,721.1h0M383.9,691.8h0M384.7,722.2h0M391.7,718.7h0M410.4,728.2h0M376.9,718.2h0M387.1,717.6h0M384.6,711.8h0M376.4,698.5h0M399.8,714.2h0M372.0,712.3h0M389.7,692.5h0M378.7,712.7h0M375.1,713.6h0M370.9,705.3h0M407.3,717.5h0M377.9,718.7h0M388.9,710.7h0M367.1,710.5h0M385.0,701.3h0M395.1,711.3h0M380.7,705.0h0M385.4,692.6h0M368.5,705.6h0M404.8,718.6h0M407.2,717.8h0M387.8,712.9h0M364.7,708.8h0M419.1,717.0h0M394.8,705.4h0M394.2,704.7h0M381.6,709.5h0M400.5,717.6h0M365.5,703.4h0M377.4,701.4h0M374.7,713.3h0M380.6,695.5h0M384.9,707.8h0M385.8,707.1h0M399.7,703.9h0M360.8,689.4h0M385.6,711.7h0M421.9,724.3h0M415.1,713.0h0M370.1,699.6h0M396.8,714.5h0M350.4,698.5h0M382.7,716.6h0M413.3,721.6h0M379.7,709.3h0M373.8,710.7h0M387.1,707.4h0M378.0,707.0h0M364.6,697.3h0M374.3,703.3h0M371.9,708.0h0M388.9,719.8h0M423.0,723.7h0M384.5,714.5h0M409.8,707.8h0M390.2,721.5h0M378.0,701.7h0M377.9,715.4h0M367.7,708.4h0M385.8,714.3h0M385.9,688.0h0M412.5,727.4h0M390.8,710.6h0M383.5,700.5h0M380.6,709.9h0M380.0,707.9h0M405.1,710.7h0M365.3,705.0h0M373.6,698.4h0M389.0,703.7h0M384.7,723.5h0M392.5,710.1h0M393.3,722.1h0M386.9,715.0h0M375.2,702.6h0M391.0,718.1h0M359.7,718.4h0M376.9,697.4h0M384.8,726.2h0M372.6,701.1h0M410.9,709.9h0M391.2,709.9h0M369.6,706.6h0M380.6,713.3h0M386.6,712.6h0M390.7,700.2h0M396.8,710.3h0M382.0,719.5h0M383.9,704.5h0M370.4,693.9h0M380.6,704.5h0M380.7,717.0h0M416.9,730.0h0M399.5,718.8h0M389.9,717.0h0M379.3,699.8h0M415.1,726.9h0M385.8,702.1h0M376.1,700.2h0M373.8,700.1h0M392.2,702.5h0M391.1,720.5h0M395.7,721.5h0M397.0,702.0h0M394.6,716.9h0M403.7,714.8h0M366.8,704.8h0M407.1,719.7h0M387.5,712.6h0M360.1,703.5h0M391.0,709.7h0M383.0,724.6h0M404.1,710.8h0M401.1,705.2h0M378.9,711.3h0M390.4,698.3h0M360.1,701.4h0M374.8,700.9h0M407.8,719.9h0M366.9,701.8h0M381.3,719.4h0M399.0,718.4h0M396.0,723.3h0M402.2,726.6h0M401.6,729.2h0M406.5,720.1h0M362.1,702.1h0M390.7,718.8h0M378.2,704.4h0M383.1,731.7h0M379.1,703.5h0M390.1,703.3h0M375.2,685.8h0M397.7,711.5h0M402.0,708.2h0M387.2,714.6h0M401.1,711.9h0M357.0,706.9h0M392.7,711.1h0M389.9,706.0h0M387.8,698.0h0M376.7,708.9h0M390.5,705.4h0M397.5,702.4h0M378.4,697.6h0M392.7,719.9h0M383.6,692.5h0M397.5,717.4h0M349.3,701.1h0M375.0,704.6h0M420.6,716.8h0M390.4,718.2h0M367.7,704.0h0M379.5,711.7h0M402.7,715.2h0M367.0,692.3h0M380.9,717.6h0M390.5,707.4h0M380.5,702.0h0M398.0,720.7h0M354.5,715.8h0M383.7,699.1h0M400.8,704.4h0M413.7,719.8h0M401.6,727.0h0M396.1,710.2h0M384.2,712.1h0M368.8,701.8h0M405.0,719.4h0M393.7,717.4h0M389.5,718.4h0M391.4,713.1h0M390.4,715.7h0M367.8,705.0h0M401.3,703.1h0M380.7,701.3h0M397.1,710.6h0M362.2,697.9h0M371.0,694.7h0M397.6,709.1h0M347.3,690.0h0M396.2,723.1h0M400.3,714.3h0M382.9,713.7h0M370.2,706.7h0M388.8,715.4h0M376.3,709.9h0M372.2,697.5h0M381.5,701.1h0M368.2,695.5h0M385.2,704.0h0M384.1,715.5h0M403.9,719.5h0M383.4,715.2h0M388.7,713.4h0M389.9,708.3h0M375.2,716.1h0M392.2,704.7h0M396.2,722.0h0M394.8,709.8h0M389.9,707.6h0M380.7,705.8h0M399.7,718.4h0M363.9,701.8h0M388.6,724.5h0M375.4,700.9h0M383.4,707.7h0M366.6,695.1h0M412.2,720.9h0M374.6,713.9h0M399.1,713.6h0M373.6,695.4h0M397.2,709.0h0M359.0,700.0h0M395.1,722.2h0M399.7,703.7h0M401.3,720.7h0M374.9,698.0h0M400.7,705.6h0M403.8,716.9h0M379.4,721.1h0M397.5,696.4h0M378.6,710.2h0M395.4,710.1h0M364.9,706.9h0M369.0,687.5h0M374.8,698.6h0M414.6,705.8h0M407.2,705.0h0M366.9,704.8h0M374.6,707.3h0M394.1,721.9h0M405.9,707.0h0M377.9,690.5h0M386.8,699.7h0M390.3,715.3h0M379.9,708.0h0M395.0,711.8h0M421.3,724.3h0M378.6,712.1h0M373.9,715.8h0M370.7,696.7h0M386.5,710.9h0M390.9,703.1h0M394.9,706.9h0M377.2,708.1h0M373.9,705.6h0M373.3,707.4h0M383.0,709.9h0M381.6,711.5h0M405.5,719.4h0M370.3,702.0h0M369.2,711.2h0M386.9,722.5h0M401.3,728.0h0M372.1,699.7h0M355.6,704.6h0M367.4,703.9h0M355.8,691.1h0M383.5,706.1h0M380.7,723.6h0M383.3,718.7h0M385.8,715.8h0M380.8,709.1h0M397.3,707.8h0M370.4,703.6h0M407.7,713.9h0M374.6,706.0h0M380.4,700.1h0M386.1,706.6h0M419.1,732.5h0M370.3,716.7h0M325.1,713.5h0M361.7,679.7h0M385.6,743.0h0M395.2,757.1h0M404.7,769.0h0M422.3,781.0h0M411.1,745.8h0M422.3,738.8h0M409.5,750.1h0" stroke="#c9c9c9" stroke-width="2.8" stroke-linecap="round" fill="none"/>
<line x1="324.00" y1="687.00" x2="422.50" y2="726.70" stroke="#f08a8a" stroke-width="1.5" />
<rect x="307.50" y="654.50" width="128.00" height="128.00" fill="none" stroke="#aaaaaa" stroke-width="1" />
<line x1="304.60" y1="670.50" x2="307.60" y2="670.50" stroke="#555" stroke-width="1" />
<text x="303.00" y="674.14" font-size="11.5" text-anchor="end" stroke="#000" stroke-width="0.22" >14</text>
<line x1="304.60" y1="697.50" x2="307.60" y2="697.50" stroke="#555" stroke-width="1" />
<text x="303.00" y="701.74" font-size="11.5" text-anchor="end" stroke="#000" stroke-width="0.22" >12</text>
<line x1="304.60" y1="725.50" x2="307.60" y2="725.50" stroke="#555" stroke-width="1" />
<text x="303.00" y="730.04" font-size="11.5" text-anchor="end" stroke="#000" stroke-width="0.22" >10</text>
<line x1="304.60" y1="754.50" x2="307.60" y2="754.50" stroke="#555" stroke-width="1" />
<text x="303.00" y="758.14" font-size="11.5" text-anchor="end" stroke="#000" stroke-width="0.22" >8</text>
<line x1="304.60" y1="782.50" x2="307.60" y2="782.50" stroke="#555" stroke-width="1" />
<text x="303.00" y="786.54" font-size="11.5" text-anchor="end" stroke="#000" stroke-width="0.22" >6</text>
<line x1="307.50" y1="782.40" x2="307.50" y2="785.40" stroke="#555" stroke-width="1" />
<text x="307.60" y="797.90" font-size="11.5" text-anchor="middle" stroke="#000" stroke-width="0.22" >4</text>
<line x1="339.50" y1="782.40" x2="339.50" y2="785.40" stroke="#555" stroke-width="1" />
<text x="339.90" y="797.90" font-size="11.5" text-anchor="middle" stroke="#000" stroke-width="0.22" >6</text>
<line x1="371.50" y1="782.40" x2="371.50" y2="785.40" stroke="#555" stroke-width="1" />
<text x="371.70" y="797.90" font-size="11.5" text-anchor="middle" stroke="#000" stroke-width="0.22" >8</text>
<line x1="403.50" y1="782.40" x2="403.50" y2="785.40" stroke="#555" stroke-width="1" />
<text x="403.40" y="797.90" font-size="11.5" text-anchor="middle" stroke="#000" stroke-width="0.22" >10</text>
<line x1="435.50" y1="782.40" x2="435.50" y2="785.40" stroke="#555" stroke-width="1" />
<text x="435.00" y="797.90" font-size="11.5" text-anchor="middle" stroke="#000" stroke-width="0.22" >12</text>
<text x="345.60" y="810.40" font-size="11" text-anchor="start" stroke="#000" stroke-width="0.22" textLength="52" lengthAdjust="spacingAndGlyphs" >log<tspan font-size="7.5" dy="2.5">2</tspan><tspan dy="-2.5">(</tspan><tspan font-style="italic">ZEB1</tspan>)</text>
<text transform="translate(283.60,749.50) rotate(-90)" font-size="11" text-anchor="start" stroke="#000" stroke-width="0.22" textLength="61.4" lengthAdjust="spacingAndGlyphs" >log<tspan font-size="7.5" dy="2.5">2</tspan><tspan dy="-2.5">(</tspan><tspan font-style="italic">ESRP1</tspan>)</text>
<text x="311.60" y="670.10" font-size="11.5" text-anchor="start" stroke="#000" stroke-width="0.22" textLength="91.8" lengthAdjust="spacingAndGlyphs" >Spearman r=-0.565</text>
<text x="311.60" y="681.20" font-size="11.5" text-anchor="start" stroke="#000" stroke-width="0.22" textLength="45.2" lengthAdjust="spacingAndGlyphs" ><tspan font-style="italic">P</tspan>&lt;0.0001</text>
<clipPath id="ie1"><rect x="298.7" y="243.7" width="76.9" height="77.5"/></clipPath>
<g clip-path="url(#ie1)">
<rect x="298.70" y="243.70" width="76.90" height="77.50" fill="#fff" stroke="none" stroke-width="1" />
<g filter="url(#fie1)"><path d="M330.7,237.2h6.46v6.51h-6.46zM369.2,237.2h6.46v6.51h-6.46zM375.6,237.2h6.46v6.51h-6.46zM330.7,243.7h6.46v6.51h-6.46zM369.2,243.7h6.46v6.51h-6.46zM375.6,243.7h6.46v6.51h-6.46zM343.6,256.6h6.46v6.51h-6.46zM292.3,276.0h6.46v6.51h-6.46zM298.7,276.0h6.46v6.51h-6.46zM343.6,276.0h6.46v6.51h-6.46zM292.3,282.4h6.46v6.51h-6.46zM298.7,282.4h6.46v6.51h-6.46zM343.6,282.4h6.46v6.51h-6.46zM317.9,288.9h6.46v6.51h-6.46zM350.0,295.4h6.46v6.51h-6.46zM369.2,295.4h6.46v6.51h-6.46zM375.6,295.4h6.46v6.51h-6.46zM311.5,301.8h6.46v6.51h-6.46zM337.1,301.8h6.46v6.51h-6.46zM362.8,301.8h6.46v6.51h-6.46zM311.5,314.7h6.46v6.51h-6.46zM356.4,314.7h6.46v6.51h-6.46zM311.5,321.2h6.46v6.51h-6.46zM356.4,321.2h6.46v6.51h-6.46z" fill-opacity="0.5"/><path d="M337.1,237.2h6.46v6.51h-6.46zM337.1,243.7h6.46v6.51h-6.46zM330.7,250.2h6.46v6.51h-6.46zM343.6,250.2h6.46v6.51h-6.46zM330.7,256.6h6.46v6.51h-6.46zM317.9,269.5h6.46v6.51h-6.46zM324.3,276.0h6.46v6.51h-6.46zM305.1,288.9h6.46v6.51h-6.46zM343.6,288.9h6.46v6.51h-6.46zM305.1,295.4h6.46v6.51h-6.46zM337.1,295.4h6.46v6.51h-6.46zM330.7,301.8h6.46v6.51h-6.46zM324.3,308.3h6.46v6.51h-6.46zM343.6,308.3h6.46v6.51h-6.46zM362.8,308.3h6.46v6.51h-6.46zM317.9,314.7h6.46v6.51h-6.46zM343.6,314.7h6.46v6.51h-6.46zM317.9,321.2h6.46v6.51h-6.46zM343.6,321.2h6.46v6.51h-6.46z" fill-opacity="0.44"/><path d="M343.6,237.2h6.46v6.51h-6.46zM356.4,237.2h6.46v6.51h-6.46zM343.6,243.7h6.46v6.51h-6.46zM356.4,243.7h6.46v6.51h-6.46zM362.8,256.6h6.46v6.51h-6.46zM369.2,256.6h6.46v6.51h-6.46zM375.6,256.6h6.46v6.51h-6.46zM311.5,269.5h6.46v6.51h-6.46zM369.2,276.0h6.46v6.51h-6.46zM375.6,276.0h6.46v6.51h-6.46zM305.1,282.4h6.46v6.51h-6.46zM369.2,282.4h6.46v6.51h-6.46zM375.6,282.4h6.46v6.51h-6.46zM350.0,288.9h6.46v6.51h-6.46zM362.8,288.9h6.46v6.51h-6.46zM317.9,295.4h6.46v6.51h-6.46zM362.8,295.4h6.46v6.51h-6.46zM305.1,301.8h6.46v6.51h-6.46zM350.0,301.8h6.46v6.51h-6.46zM356.4,308.3h6.46v6.51h-6.46zM292.3,314.7h6.46v6.51h-6.46zM298.7,314.7h6.46v6.51h-6.46zM305.1,314.7h6.46v6.51h-6.46zM292.3,321.2h6.46v6.51h-6.46zM298.7,321.2h6.46v6.51h-6.46zM305.1,321.2h6.46v6.51h-6.46z" fill-opacity="0.58"/><path d="M350.0,237.2h6.46v6.51h-6.46zM350.0,243.7h6.46v6.51h-6.46zM350.0,250.2h6.46v6.51h-6.46zM356.4,250.2h6.46v6.51h-6.46zM350.0,256.6h6.46v6.51h-6.46zM356.4,256.6h6.46v6.51h-6.46zM350.0,263.1h6.46v6.51h-6.46zM356.4,263.1h6.46v6.51h-6.46zM362.8,263.1h6.46v6.51h-6.46zM369.2,263.1h6.46v6.51h-6.46zM375.6,263.1h6.46v6.51h-6.46zM305.1,269.5h6.46v6.51h-6.46zM350.0,269.5h6.46v6.51h-6.46zM356.4,269.5h6.46v6.51h-6.46zM362.8,269.5h6.46v6.51h-6.46zM369.2,269.5h6.46v6.51h-6.46zM375.6,269.5h6.46v6.51h-6.46zM305.1,276.0h6.46v6.51h-6.46zM311.5,276.0h6.46v6.51h-6.46zM350.0,276.0h6.46v6.51h-6.46zM356.4,276.0h6.46v6.51h-6.46zM362.8,276.0h6.46v6.51h-6.46zM311.5,282.4h6.46v6.51h-6.46zM350.0,282.4h6.46v6.51h-6.46zM356.4,282.4h6.46v6.51h-6.46zM362.8,282.4h6.46v6.51h-6.46zM356.4,288.9h6.46v6.51h-6.46zM356.4,301.8h6.46v6.51h-6.46zM292.3,308.3h6.46v6.51h-6.46zM298.7,308.3h6.46v6.51h-6.46zM305.1,308.3h6.46v6.51h-6.46zM350.0,308.3h6.46v6.51h-6.46z" fill-opacity="0.66"/><path d="M362.8,237.2h6.46v6.51h-6.46zM362.8,243.7h6.46v6.51h-6.46zM362.8,250.2h6.46v6.51h-6.46zM369.2,250.2h6.46v6.51h-6.46zM375.6,250.2h6.46v6.51h-6.46zM343.6,263.1h6.46v6.51h-6.46zM292.3,269.5h6.46v6.51h-6.46zM298.7,269.5h6.46v6.51h-6.46zM343.6,269.5h6.46v6.51h-6.46zM317.9,276.0h6.46v6.51h-6.46zM317.9,282.4h6.46v6.51h-6.46zM311.5,288.9h6.46v6.51h-6.46zM369.2,288.9h6.46v6.51h-6.46zM375.6,288.9h6.46v6.51h-6.46zM356.4,295.4h6.46v6.51h-6.46zM292.3,301.8h6.46v6.51h-6.46zM298.7,301.8h6.46v6.51h-6.46zM311.5,308.3h6.46v6.51h-6.46zM324.3,314.7h6.46v6.51h-6.46zM350.0,314.7h6.46v6.51h-6.46zM324.3,321.2h6.46v6.51h-6.46zM350.0,321.2h6.46v6.51h-6.46z" fill-opacity="0.54"/><path d="M324.3,263.1h6.46v6.51h-6.46zM330.7,263.1h6.46v6.51h-6.46zM337.1,263.1h6.46v6.51h-6.46zM324.3,269.5h6.46v6.51h-6.46zM330.7,269.5h6.46v6.51h-6.46zM324.3,282.4h6.46v6.51h-6.46zM337.1,282.4h6.46v6.51h-6.46zM324.3,288.9h6.46v6.51h-6.46zM337.1,288.9h6.46v6.51h-6.46zM311.5,295.4h6.46v6.51h-6.46zM324.3,295.4h6.46v6.51h-6.46zM343.6,295.4h6.46v6.51h-6.46zM317.9,301.8h6.46v6.51h-6.46zM324.3,301.8h6.46v6.51h-6.46zM343.6,301.8h6.46v6.51h-6.46zM369.2,301.8h6.46v6.51h-6.46zM375.6,301.8h6.46v6.51h-6.46zM317.9,308.3h6.46v6.51h-6.46zM330.7,308.3h6.46v6.51h-6.46zM337.1,308.3h6.46v6.51h-6.46zM369.2,308.3h6.46v6.51h-6.46zM375.6,308.3h6.46v6.51h-6.46zM330.7,314.7h6.46v6.51h-6.46zM337.1,314.7h6.46v6.51h-6.46zM362.8,314.7h6.46v6.51h-6.46zM369.2,314.7h6.46v6.51h-6.46zM375.6,314.7h6.46v6.51h-6.46zM330.7,321.2h6.46v6.51h-6.46zM337.1,321.2h6.46v6.51h-6.46zM362.8,321.2h6.46v6.51h-6.46zM369.2,321.2h6.46v6.51h-6.46zM375.6,321.2h6.46v6.51h-6.46z" fill-opacity="0.38"/></g>
</g>
<rect x="298.50" y="243.50" width="77.00" height="78.00" fill="none" stroke="#888" stroke-width="1" />
<clipPath id="ie2"><rect x="298.7" y="323.3" width="76.9" height="76.9"/></clipPath>
<g clip-path="url(#ie2)">
<rect x="298.70" y="323.30" width="76.90" height="76.90" fill="#e8ecf4" stroke="none" stroke-width="1" />
<g filter="url(#fie2)"><path d="M289.1,313.7h9.66v9.66h-9.66zM298.7,313.7h9.66v9.66h-9.66zM308.3,313.7h9.66v9.66h-9.66zM317.9,313.7h9.66v9.66h-9.66zM327.5,313.7h9.66v9.66h-9.66zM337.1,313.7h9.66v9.66h-9.66zM346.8,313.7h9.66v9.66h-9.66zM356.4,313.7h9.66v9.66h-9.66zM366.0,313.7h9.66v9.66h-9.66zM375.6,313.7h9.66v9.66h-9.66zM289.1,323.3h9.66v9.66h-9.66zM298.7,323.3h9.66v9.66h-9.66zM308.3,323.3h9.66v9.66h-9.66zM317.9,323.3h9.66v9.66h-9.66zM327.5,323.3h9.66v9.66h-9.66zM337.1,323.3h9.66v9.66h-9.66zM346.8,323.3h9.66v9.66h-9.66zM356.4,323.3h9.66v9.66h-9.66zM366.0,323.3h9.66v9.66h-9.66zM375.6,323.3h9.66v9.66h-9.66zM308.3,332.9h9.66v9.66h-9.66zM327.5,332.9h9.66v9.66h-9.66zM337.1,332.9h9.66v9.66h-9.66zM346.8,332.9h9.66v9.66h-9.66zM356.4,332.9h9.66v9.66h-9.66zM366.0,332.9h9.66v9.66h-9.66zM375.6,332.9h9.66v9.66h-9.66zM289.1,342.5h9.66v9.66h-9.66zM298.7,342.5h9.66v9.66h-9.66zM308.3,342.5h9.66v9.66h-9.66zM317.9,342.5h9.66v9.66h-9.66zM327.5,342.5h9.66v9.66h-9.66zM337.1,342.5h9.66v9.66h-9.66zM346.8,342.5h9.66v9.66h-9.66zM356.4,342.5h9.66v9.66h-9.66zM366.0,342.5h9.66v9.66h-9.66zM375.6,342.5h9.66v9.66h-9.66zM289.1,352.1h9.66v9.66h-9.66zM298.7,352.1h9.66v9.66h-9.66zM308.3,352.1h9.66v9.66h-9.66zM317.9,352.1h9.66v9.66h-9.66zM337.1,352.1h9.66v9.66h-9.66zM346.8,352.1h9.66v9.66h-9.66zM356.4,352.1h9.66v9.66h-9.66zM366.0,352.1h9.66v9.66h-9.66zM375.6,352.1h9.66v9.66h-9.66zM289.1,361.8h9.66v9.66h-9.66zM298.7,361.8h9.66v9.66h-9.66zM308.3,361.8h9.66v9.66h-9.66zM317.9,361.8h9.66v9.66h-9.66zM327.5,361.8h9.66v9.66h-9.66zM337.1,361.8h9.66v9.66h-9.66zM346.8,361.8h9.66v9.66h-9.66zM356.4,361.8h9.66v9.66h-9.66zM366.0,361.8h9.66v9.66h-9.66zM375.6,361.8h9.66v9.66h-9.66zM289.1,371.4h9.66v9.66h-9.66zM298.7,371.4h9.66v9.66h-9.66zM308.3,371.4h9.66v9.66h-9.66zM317.9,371.4h9.66v9.66h-9.66zM327.5,371.4h9.66v9.66h-9.66zM337.1,371.4h9.66v9.66h-9.66zM346.8,371.4h9.66v9.66h-9.66zM356.4,371.4h9.66v9.66h-9.66zM366.0,371.4h9.66v9.66h-9.66zM375.6,371.4h9.66v9.66h-9.66zM289.1,381.0h9.66v9.66h-9.66zM298.7,381.0h9.66v9.66h-9.66zM308.3,381.0h9.66v9.66h-9.66zM317.9,381.0h9.66v9.66h-9.66zM327.5,381.0h9.66v9.66h-9.66zM337.1,381.0h9.66v9.66h-9.66zM346.8,381.0h9.66v9.66h-9.66zM356.4,381.0h9.66v9.66h-9.66zM366.0,381.0h9.66v9.66h-9.66zM375.6,381.0h9.66v9.66h-9.66zM289.1,390.6h9.66v9.66h-9.66zM298.7,390.6h9.66v9.66h-9.66zM308.3,390.6h9.66v9.66h-9.66zM317.9,390.6h9.66v9.66h-9.66zM327.5,390.6h9.66v9.66h-9.66zM337.1,390.6h9.66v9.66h-9.66zM346.8,390.6h9.66v9.66h-9.66zM356.4,390.6h9.66v9.66h-9.66zM366.0,390.6h9.66v9.66h-9.66zM375.6,390.6h9.66v9.66h-9.66zM289.1,400.2h9.66v9.66h-9.66zM298.7,400.2h9.66v9.66h-9.66zM308.3,400.2h9.66v9.66h-9.66zM317.9,400.2h9.66v9.66h-9.66zM327.5,400.2h9.66v9.66h-9.66zM337.1,400.2h9.66v9.66h-9.66zM346.8,400.2h9.66v9.66h-9.66zM356.4,400.2h9.66v9.66h-9.66zM366.0,400.2h9.66v9.66h-9.66zM375.6,400.2h9.66v9.66h-9.66z" fill-opacity="0.32"/><path d="M289.1,332.9h9.66v9.66h-9.66zM298.7,332.9h9.66v9.66h-9.66zM317.9,332.9h9.66v9.66h-9.66z" fill-opacity="0.28"/><path d="M327.5,352.1h9.66v9.66h-9.66z" fill-opacity="0.36"/></g>
</g>
<rect x="298.50" y="323.50" width="77.00" height="77.00" fill="none" stroke="#888" stroke-width="1" />
<clipPath id="ie3"><rect x="376.2" y="323.3" width="77.6" height="76.9"/></clipPath>
<g clip-path="url(#ie3)">
<rect x="376.20" y="323.30" width="77.60" height="76.90" fill="#fff" stroke="none" stroke-width="1" />
<g filter="url(#fie3)"><path d="M366.5,313.7h9.75v9.66h-9.75zM376.2,313.7h9.75v9.66h-9.75zM385.9,313.7h9.75v9.66h-9.75zM395.6,313.7h9.75v9.66h-9.75zM405.3,313.7h9.75v9.66h-9.75zM415.0,313.7h9.75v9.66h-9.75zM424.7,313.7h9.75v9.66h-9.75zM444.1,313.7h9.75v9.66h-9.75zM453.8,313.7h9.75v9.66h-9.75zM366.5,323.3h9.75v9.66h-9.75zM376.2,323.3h9.75v9.66h-9.75zM385.9,323.3h9.75v9.66h-9.75zM395.6,323.3h9.75v9.66h-9.75zM405.3,323.3h9.75v9.66h-9.75zM415.0,323.3h9.75v9.66h-9.75zM424.7,323.3h9.75v9.66h-9.75zM444.1,323.3h9.75v9.66h-9.75zM453.8,323.3h9.75v9.66h-9.75zM385.9,332.9h9.75v9.66h-9.75zM415.0,332.9h9.75v9.66h-9.75zM424.7,332.9h9.75v9.66h-9.75zM434.4,332.9h9.75v9.66h-9.75zM444.1,332.9h9.75v9.66h-9.75zM453.8,332.9h9.75v9.66h-9.75zM385.9,342.5h9.75v9.66h-9.75zM395.6,342.5h9.75v9.66h-9.75zM405.3,342.5h9.75v9.66h-9.75zM424.7,342.5h9.75v9.66h-9.75zM434.4,342.5h9.75v9.66h-9.75zM444.1,342.5h9.75v9.66h-9.75zM453.8,342.5h9.75v9.66h-9.75zM366.5,352.1h9.75v9.66h-9.75zM376.2,352.1h9.75v9.66h-9.75zM395.6,352.1h9.75v9.66h-9.75zM415.0,352.1h9.75v9.66h-9.75zM434.4,352.1h9.75v9.66h-9.75zM444.1,352.1h9.75v9.66h-9.75zM453.8,352.1h9.75v9.66h-9.75zM366.5,361.8h9.75v9.66h-9.75zM376.2,361.8h9.75v9.66h-9.75zM395.6,361.8h9.75v9.66h-9.75zM405.3,361.8h9.75v9.66h-9.75zM434.4,361.8h9.75v9.66h-9.75zM444.1,361.8h9.75v9.66h-9.75zM453.8,361.8h9.75v9.66h-9.75zM385.9,371.4h9.75v9.66h-9.75zM395.6,371.4h9.75v9.66h-9.75zM405.3,371.4h9.75v9.66h-9.75zM415.0,371.4h9.75v9.66h-9.75zM434.4,371.4h9.75v9.66h-9.75zM444.1,371.4h9.75v9.66h-9.75zM453.8,371.4h9.75v9.66h-9.75zM366.5,381.0h9.75v9.66h-9.75zM376.2,381.0h9.75v9.66h-9.75zM385.9,381.0h9.75v9.66h-9.75zM405.3,381.0h9.75v9.66h-9.75zM415.0,381.0h9.75v9.66h-9.75zM424.7,381.0h9.75v9.66h-9.75zM434.4,381.0h9.75v9.66h-9.75zM444.1,381.0h9.75v9.66h-9.75zM453.8,381.0h9.75v9.66h-9.75zM395.6,390.6h9.75v9.66h-9.75zM415.0,390.6h9.75v9.66h-9.75zM424.7,390.6h9.75v9.66h-9.75zM434.4,390.6h9.75v9.66h-9.75zM444.1,390.6h9.75v9.66h-9.75zM453.8,390.6h9.75v9.66h-9.75zM395.6,400.2h9.75v9.66h-9.75zM415.0,400.2h9.75v9.66h-9.75zM424.7,400.2h9.75v9.66h-9.75zM434.4,400.2h9.75v9.66h-9.75zM444.1,400.2h9.75v9.66h-9.75zM453.8,400.2h9.75v9.66h-9.75z" fill-opacity="0.4"/><path d="M434.4,313.7h9.75v9.66h-9.75zM434.4,323.3h9.75v9.66h-9.75zM415.0,342.5h9.75v9.66h-9.75zM385.9,352.1h9.75v9.66h-9.75zM405.3,352.1h9.75v9.66h-9.75zM424.7,352.1h9.75v9.66h-9.75zM385.9,361.8h9.75v9.66h-9.75zM415.0,361.8h9.75v9.66h-9.75zM424.7,361.8h9.75v9.66h-9.75zM424.7,371.4h9.75v9.66h-9.75zM366.5,390.6h9.75v9.66h-9.75zM376.2,390.6h9.75v9.66h-9.75zM385.9,390.6h9.75v9.66h-9.75zM405.3,390.6h9.75v9.66h-9.75zM366.5,400.2h9.75v9.66h-9.75zM376.2,400.2h9.75v9.66h-9.75zM385.9,400.2h9.75v9.66h-9.75zM405.3,400.2h9.75v9.66h-9.75z" fill-opacity="0.42"/><path d="M366.5,332.9h9.75v9.66h-9.75zM376.2,332.9h9.75v9.66h-9.75zM395.6,332.9h9.75v9.66h-9.75zM405.3,332.9h9.75v9.66h-9.75zM366.5,342.5h9.75v9.66h-9.75zM376.2,342.5h9.75v9.66h-9.75zM366.5,371.4h9.75v9.66h-9.75zM376.2,371.4h9.75v9.66h-9.75zM395.6,381.0h9.75v9.66h-9.75z" fill-opacity="0.36"/></g>
</g>
<rect x="376.50" y="323.50" width="77.00" height="77.00" fill="none" stroke="#888" stroke-width="1" />
<text x="302.90" y="260.40" font-size="13.5" text-anchor="start" stroke="#000" stroke-width="0.22" textLength="27.6" lengthAdjust="spacingAndGlyphs" >NTC</text>
<text x="302.90" y="339.50" font-size="13.5" text-anchor="start" stroke="#000" stroke-width="0.22" textLength="24.5" lengthAdjust="spacingAndGlyphs" >shC</text>
<text x="380.40" y="339.50" font-size="13.5" text-anchor="start" stroke="#000" stroke-width="0.22" textLength="23.5" lengthAdjust="spacingAndGlyphs" >shD</text>
<text x="415.70" y="389.00" font-size="11.5" text-anchor="start" stroke="#000" stroke-width="0.22" textLength="35.3" lengthAdjust="spacingAndGlyphs" >200 μm</text>
<rect x="421.30" y="392.80" width="22.50" height="2.60" fill="#000" stroke="none" stroke-width="1" />
<clipPath id="ig1"><rect x="32.3" y="447.5" width="76.5" height="77"/></clipPath>
<g clip-path="url(#ig1)">
<rect x="32.30" y="447.50" width="76.50" height="77.00" fill="#fff" stroke="none" stroke-width="1" />
<g filter="url(#fig1)"><path d="M22.7,437.9h9.61v9.68h-9.61zM32.3,437.9h9.61v9.68h-9.61zM51.4,437.9h9.61v9.68h-9.61zM61.0,437.9h9.61v9.68h-9.61zM70.5,437.9h9.61v9.68h-9.61zM80.1,437.9h9.61v9.68h-9.61zM89.7,437.9h9.61v9.68h-9.61zM99.2,437.9h9.61v9.68h-9.61zM108.8,437.9h9.61v9.68h-9.61zM22.7,447.5h9.61v9.68h-9.61zM32.3,447.5h9.61v9.68h-9.61zM51.4,447.5h9.61v9.68h-9.61zM61.0,447.5h9.61v9.68h-9.61zM70.5,447.5h9.61v9.68h-9.61zM80.1,447.5h9.61v9.68h-9.61zM89.7,447.5h9.61v9.68h-9.61zM99.2,447.5h9.61v9.68h-9.61zM108.8,447.5h9.61v9.68h-9.61zM22.7,457.1h9.61v9.68h-9.61zM32.3,457.1h9.61v9.68h-9.61zM51.4,457.1h9.61v9.68h-9.61zM61.0,457.1h9.61v9.68h-9.61zM70.5,457.1h9.61v9.68h-9.61zM80.1,457.1h9.61v9.68h-9.61zM99.2,457.1h9.61v9.68h-9.61zM108.8,457.1h9.61v9.68h-9.61zM22.7,466.8h9.61v9.68h-9.61zM32.3,466.8h9.61v9.68h-9.61zM51.4,466.8h9.61v9.68h-9.61zM70.5,466.8h9.61v9.68h-9.61zM80.1,466.8h9.61v9.68h-9.61zM89.7,466.8h9.61v9.68h-9.61zM99.2,466.8h9.61v9.68h-9.61zM108.8,466.8h9.61v9.68h-9.61zM41.9,476.4h9.61v9.68h-9.61zM61.0,476.4h9.61v9.68h-9.61zM80.1,476.4h9.61v9.68h-9.61zM89.7,476.4h9.61v9.68h-9.61zM99.2,476.4h9.61v9.68h-9.61zM108.8,476.4h9.61v9.68h-9.61zM51.4,486.0h9.61v9.68h-9.61zM70.5,486.0h9.61v9.68h-9.61zM89.7,486.0h9.61v9.68h-9.61zM99.2,486.0h9.61v9.68h-9.61zM108.8,486.0h9.61v9.68h-9.61zM41.9,495.6h9.61v9.68h-9.61zM51.4,495.6h9.61v9.68h-9.61zM61.0,495.6h9.61v9.68h-9.61zM70.5,495.6h9.61v9.68h-9.61zM80.1,495.6h9.61v9.68h-9.61zM99.2,495.6h9.61v9.68h-9.61zM108.8,495.6h9.61v9.68h-9.61zM61.0,505.2h9.61v9.68h-9.61zM70.5,505.2h9.61v9.68h-9.61zM80.1,505.2h9.61v9.68h-9.61zM89.7,505.2h9.61v9.68h-9.61zM99.2,505.2h9.61v9.68h-9.61zM108.8,505.2h9.61v9.68h-9.61zM61.0,514.9h9.61v9.68h-9.61zM70.5,514.9h9.61v9.68h-9.61zM89.7,514.9h9.61v9.68h-9.61zM99.2,514.9h9.61v9.68h-9.61zM108.8,514.9h9.61v9.68h-9.61zM61.0,524.5h9.61v9.68h-9.61zM70.5,524.5h9.61v9.68h-9.61zM89.7,524.5h9.61v9.68h-9.61zM99.2,524.5h9.61v9.68h-9.61zM108.8,524.5h9.61v9.68h-9.61z" fill-opacity="0.38"/><path d="M41.9,437.9h9.61v9.68h-9.61zM41.9,447.5h9.61v9.68h-9.61zM41.9,457.1h9.61v9.68h-9.61zM89.7,457.1h9.61v9.68h-9.61zM41.9,466.8h9.61v9.68h-9.61zM61.0,466.8h9.61v9.68h-9.61zM22.7,476.4h9.61v9.68h-9.61zM32.3,476.4h9.61v9.68h-9.61zM51.4,476.4h9.61v9.68h-9.61zM70.5,476.4h9.61v9.68h-9.61zM22.7,486.0h9.61v9.68h-9.61zM32.3,486.0h9.61v9.68h-9.61zM41.9,486.0h9.61v9.68h-9.61zM61.0,486.0h9.61v9.68h-9.61zM80.1,486.0h9.61v9.68h-9.61zM22.7,495.6h9.61v9.68h-9.61zM32.3,495.6h9.61v9.68h-9.61zM89.7,495.6h9.61v9.68h-9.61zM22.7,505.2h9.61v9.68h-9.61zM32.3,505.2h9.61v9.68h-9.61zM41.9,505.2h9.61v9.68h-9.61zM51.4,505.2h9.61v9.68h-9.61zM22.7,514.9h9.61v9.68h-9.61zM32.3,514.9h9.61v9.68h-9.61zM51.4,514.9h9.61v9.68h-9.61zM80.1,514.9h9.61v9.68h-9.61zM22.7,524.5h9.61v9.68h-9.61zM32.3,524.5h9.61v9.68h-9.61zM51.4,524.5h9.61v9.68h-9.61zM80.1,524.5h9.61v9.68h-9.61z" fill-opacity="0.4"/><path d="M41.9,514.9h9.61v9.68h-9.61zM41.9,524.5h9.61v9.68h-9.61z" fill-opacity="0.42"/></g>
</g>
<rect x="32.50" y="447.50" width="76.00" height="77.00" fill="none" stroke="#888" stroke-width="1" />
<clipPath id="ig2"><rect x="110" y="447.5" width="77.8" height="77"/></clipPath>
<g clip-path="url(#ig2)">
<rect x="110.00" y="447.50" width="77.80" height="77.00" fill="#fff" stroke="none" stroke-width="1" />
<g filter="url(#fig2)"><path d="M103.5,441.1h6.53v6.47h-6.53zM110.0,441.1h6.53v6.47h-6.53zM135.9,441.1h6.53v6.47h-6.53zM142.4,441.1h6.53v6.47h-6.53zM168.3,441.1h6.53v6.47h-6.53zM103.5,447.5h6.53v6.47h-6.53zM110.0,447.5h6.53v6.47h-6.53zM135.9,447.5h6.53v6.47h-6.53zM142.4,447.5h6.53v6.47h-6.53zM168.3,447.5h6.53v6.47h-6.53zM116.5,453.9h6.53v6.47h-6.53zM135.9,453.9h6.53v6.47h-6.53zM142.4,453.9h6.53v6.47h-6.53zM161.9,453.9h6.53v6.47h-6.53zM103.5,460.3h6.53v6.47h-6.53zM110.0,460.3h6.53v6.47h-6.53zM123.0,460.3h6.53v6.47h-6.53zM129.4,460.3h6.53v6.47h-6.53zM168.3,460.3h6.53v6.47h-6.53zM116.5,473.2h6.53v6.47h-6.53zM148.9,473.2h6.53v6.47h-6.53zM116.5,479.6h6.53v6.47h-6.53zM161.9,479.6h6.53v6.47h-6.53zM129.4,486.0h6.53v6.47h-6.53zM135.9,486.0h6.53v6.47h-6.53zM161.9,486.0h6.53v6.47h-6.53zM135.9,492.4h6.53v6.47h-6.53zM168.3,492.4h6.53v6.47h-6.53zM129.4,498.8h6.53v6.47h-6.53zM135.9,498.8h6.53v6.47h-6.53zM168.3,498.8h6.53v6.47h-6.53zM129.4,505.2h6.53v6.47h-6.53zM135.9,505.2h6.53v6.47h-6.53zM142.4,505.2h6.53v6.47h-6.53zM129.4,511.7h6.53v6.47h-6.53zM135.9,511.7h6.53v6.47h-6.53zM161.9,511.7h6.53v6.47h-6.53z" fill-opacity="0.42"/><path d="M116.5,441.1h6.53v6.47h-6.53zM161.9,441.1h6.53v6.47h-6.53zM116.5,447.5h6.53v6.47h-6.53zM161.9,447.5h6.53v6.47h-6.53zM123.0,453.9h6.53v6.47h-6.53z" fill-opacity="0.34"/><path d="M123.0,441.1h6.53v6.47h-6.53zM123.0,447.5h6.53v6.47h-6.53zM103.5,453.9h6.53v6.47h-6.53zM110.0,453.9h6.53v6.47h-6.53zM168.3,453.9h6.53v6.47h-6.53zM135.9,460.3h6.53v6.47h-6.53zM161.9,460.3h6.53v6.47h-6.53zM103.5,466.8h6.53v6.47h-6.53zM110.0,466.8h6.53v6.47h-6.53zM116.5,466.8h6.53v6.47h-6.53zM142.4,466.8h6.53v6.47h-6.53zM168.3,466.8h6.53v6.47h-6.53zM103.5,479.6h6.53v6.47h-6.53zM110.0,479.6h6.53v6.47h-6.53zM129.4,479.6h6.53v6.47h-6.53zM135.9,479.6h6.53v6.47h-6.53zM155.4,479.6h6.53v6.47h-6.53zM123.0,486.0h6.53v6.47h-6.53zM168.3,486.0h6.53v6.47h-6.53zM129.4,492.4h6.53v6.47h-6.53zM142.4,498.8h6.53v6.47h-6.53zM161.9,498.8h6.53v6.47h-6.53zM174.8,498.8h6.53v6.47h-6.53zM123.0,505.2h6.53v6.47h-6.53zM161.9,505.2h6.53v6.47h-6.53zM174.8,505.2h6.53v6.47h-6.53zM142.4,511.7h6.53v6.47h-6.53zM155.4,511.7h6.53v6.47h-6.53zM103.5,518.1h6.53v6.47h-6.53zM110.0,518.1h6.53v6.47h-6.53zM123.0,518.1h6.53v6.47h-6.53zM129.4,518.1h6.53v6.47h-6.53zM161.9,518.1h6.53v6.47h-6.53zM103.5,524.5h6.53v6.47h-6.53zM110.0,524.5h6.53v6.47h-6.53zM123.0,524.5h6.53v6.47h-6.53zM129.4,524.5h6.53v6.47h-6.53zM161.9,524.5h6.53v6.47h-6.53z" fill-opacity="0.46"/><path d="M129.4,441.1h6.53v6.47h-6.53zM148.9,441.1h6.53v6.47h-6.53zM174.8,441.1h6.53v6.47h-6.53zM181.3,441.1h6.53v6.47h-6.53zM187.8,441.1h6.53v6.47h-6.53zM129.4,447.5h6.53v6.47h-6.53zM148.9,447.5h6.53v6.47h-6.53zM174.8,447.5h6.53v6.47h-6.53zM181.3,447.5h6.53v6.47h-6.53zM187.8,447.5h6.53v6.47h-6.53zM155.4,460.3h6.53v6.47h-6.53zM181.3,460.3h6.53v6.47h-6.53zM187.8,460.3h6.53v6.47h-6.53zM129.4,466.8h6.53v6.47h-6.53zM161.9,466.8h6.53v6.47h-6.53zM174.8,466.8h6.53v6.47h-6.53zM123.0,473.2h6.53v6.47h-6.53zM155.4,473.2h6.53v6.47h-6.53zM123.0,479.6h6.53v6.47h-6.53zM148.9,479.6h6.53v6.47h-6.53zM168.3,479.6h6.53v6.47h-6.53zM103.5,486.0h6.53v6.47h-6.53zM110.0,486.0h6.53v6.47h-6.53zM148.9,486.0h6.53v6.47h-6.53zM174.8,486.0h6.53v6.47h-6.53zM142.4,492.4h6.53v6.47h-6.53zM123.0,498.8h6.53v6.47h-6.53zM148.9,498.8h6.53v6.47h-6.53zM116.5,505.2h6.53v6.47h-6.53zM168.3,505.2h6.53v6.47h-6.53zM181.3,505.2h6.53v6.47h-6.53zM187.8,505.2h6.53v6.47h-6.53zM103.5,511.7h6.53v6.47h-6.53zM110.0,511.7h6.53v6.47h-6.53zM168.3,511.7h6.53v6.47h-6.53zM181.3,511.7h6.53v6.47h-6.53zM187.8,511.7h6.53v6.47h-6.53zM142.4,518.1h6.53v6.47h-6.53zM181.3,518.1h6.53v6.47h-6.53zM187.8,518.1h6.53v6.47h-6.53zM142.4,524.5h6.53v6.47h-6.53zM181.3,524.5h6.53v6.47h-6.53zM187.8,524.5h6.53v6.47h-6.53z" fill-opacity="0.56"/><path d="M155.4,441.1h6.53v6.47h-6.53zM155.4,447.5h6.53v6.47h-6.53zM129.4,453.9h6.53v6.47h-6.53zM174.8,453.9h6.53v6.47h-6.53zM116.5,460.3h6.53v6.47h-6.53zM142.4,460.3h6.53v6.47h-6.53zM174.8,460.3h6.53v6.47h-6.53zM135.9,466.8h6.53v6.47h-6.53zM148.9,466.8h6.53v6.47h-6.53zM155.4,466.8h6.53v6.47h-6.53zM103.5,473.2h6.53v6.47h-6.53zM110.0,473.2h6.53v6.47h-6.53zM135.9,473.2h6.53v6.47h-6.53zM116.5,486.0h6.53v6.47h-6.53zM142.4,486.0h6.53v6.47h-6.53zM123.0,492.4h6.53v6.47h-6.53zM161.9,492.4h6.53v6.47h-6.53zM174.8,492.4h6.53v6.47h-6.53zM148.9,505.2h6.53v6.47h-6.53zM155.4,505.2h6.53v6.47h-6.53zM123.0,511.7h6.53v6.47h-6.53zM148.9,511.7h6.53v6.47h-6.53zM174.8,511.7h6.53v6.47h-6.53zM116.5,518.1h6.53v6.47h-6.53zM135.9,518.1h6.53v6.47h-6.53zM155.4,518.1h6.53v6.47h-6.53zM168.3,518.1h6.53v6.47h-6.53zM174.8,518.1h6.53v6.47h-6.53zM116.5,524.5h6.53v6.47h-6.53zM135.9,524.5h6.53v6.47h-6.53zM155.4,524.5h6.53v6.47h-6.53zM168.3,524.5h6.53v6.47h-6.53zM174.8,524.5h6.53v6.47h-6.53z" fill-opacity="0.52"/><path d="M148.9,453.9h6.53v6.47h-6.53zM148.9,460.3h6.53v6.47h-6.53zM181.3,466.8h6.53v6.47h-6.53zM187.8,466.8h6.53v6.47h-6.53zM181.3,473.2h6.53v6.47h-6.53zM187.8,473.2h6.53v6.47h-6.53zM174.8,479.6h6.53v6.47h-6.53zM181.3,479.6h6.53v6.47h-6.53zM187.8,479.6h6.53v6.47h-6.53zM181.3,486.0h6.53v6.47h-6.53zM187.8,486.0h6.53v6.47h-6.53zM103.5,492.4h6.53v6.47h-6.53zM110.0,492.4h6.53v6.47h-6.53zM155.4,492.4h6.53v6.47h-6.53zM103.5,498.8h6.53v6.47h-6.53zM110.0,498.8h6.53v6.47h-6.53zM116.5,498.8h6.53v6.47h-6.53z" fill-opacity="0.68"/><path d="M155.4,453.9h6.53v6.47h-6.53zM181.3,453.9h6.53v6.47h-6.53zM187.8,453.9h6.53v6.47h-6.53zM123.0,466.8h6.53v6.47h-6.53zM129.4,473.2h6.53v6.47h-6.53zM142.4,473.2h6.53v6.47h-6.53zM161.9,473.2h6.53v6.47h-6.53zM168.3,473.2h6.53v6.47h-6.53zM174.8,473.2h6.53v6.47h-6.53zM142.4,479.6h6.53v6.47h-6.53zM155.4,486.0h6.53v6.47h-6.53zM116.5,492.4h6.53v6.47h-6.53zM148.9,492.4h6.53v6.47h-6.53zM181.3,492.4h6.53v6.47h-6.53zM187.8,492.4h6.53v6.47h-6.53zM155.4,498.8h6.53v6.47h-6.53zM181.3,498.8h6.53v6.47h-6.53zM187.8,498.8h6.53v6.47h-6.53zM103.5,505.2h6.53v6.47h-6.53zM110.0,505.2h6.53v6.47h-6.53zM116.5,511.7h6.53v6.47h-6.53zM148.9,518.1h6.53v6.47h-6.53zM148.9,524.5h6.53v6.47h-6.53z" fill-opacity="0.6"/></g>
</g>
<rect x="110.50" y="447.50" width="77.00" height="77.00" fill="none" stroke="#888" stroke-width="1" />
<clipPath id="ig3"><rect x="32.3" y="526.2" width="76.5" height="77.6"/></clipPath>
<g clip-path="url(#ig3)">
<rect x="32.30" y="526.20" width="76.50" height="77.60" fill="#fff" stroke="none" stroke-width="1" />
<g filter="url(#fig3)"><path d="M22.7,516.5h9.61v9.75h-9.61zM32.3,516.5h9.61v9.75h-9.61zM41.9,516.5h9.61v9.75h-9.61zM51.4,516.5h9.61v9.75h-9.61zM70.5,516.5h9.61v9.75h-9.61zM80.1,516.5h9.61v9.75h-9.61zM89.7,516.5h9.61v9.75h-9.61zM99.2,516.5h9.61v9.75h-9.61zM108.8,516.5h9.61v9.75h-9.61zM22.7,526.2h9.61v9.75h-9.61zM32.3,526.2h9.61v9.75h-9.61zM41.9,526.2h9.61v9.75h-9.61zM51.4,526.2h9.61v9.75h-9.61zM70.5,526.2h9.61v9.75h-9.61zM80.1,526.2h9.61v9.75h-9.61zM89.7,526.2h9.61v9.75h-9.61zM99.2,526.2h9.61v9.75h-9.61zM108.8,526.2h9.61v9.75h-9.61zM22.7,535.9h9.61v9.75h-9.61zM32.3,535.9h9.61v9.75h-9.61zM41.9,535.9h9.61v9.75h-9.61zM51.4,535.9h9.61v9.75h-9.61zM61.0,535.9h9.61v9.75h-9.61zM80.1,535.9h9.61v9.75h-9.61zM89.7,535.9h9.61v9.75h-9.61zM99.2,535.9h9.61v9.75h-9.61zM108.8,535.9h9.61v9.75h-9.61zM22.7,545.6h9.61v9.75h-9.61zM32.3,545.6h9.61v9.75h-9.61zM41.9,545.6h9.61v9.75h-9.61zM51.4,545.6h9.61v9.75h-9.61zM61.0,545.6h9.61v9.75h-9.61zM70.5,545.6h9.61v9.75h-9.61zM80.1,545.6h9.61v9.75h-9.61zM89.7,545.6h9.61v9.75h-9.61zM99.2,545.6h9.61v9.75h-9.61zM108.8,545.6h9.61v9.75h-9.61zM22.7,555.3h9.61v9.75h-9.61zM32.3,555.3h9.61v9.75h-9.61zM41.9,555.3h9.61v9.75h-9.61zM51.4,555.3h9.61v9.75h-9.61zM61.0,555.3h9.61v9.75h-9.61zM70.5,555.3h9.61v9.75h-9.61zM80.1,555.3h9.61v9.75h-9.61zM89.7,555.3h9.61v9.75h-9.61zM99.2,555.3h9.61v9.75h-9.61zM108.8,555.3h9.61v9.75h-9.61zM22.7,565.0h9.61v9.75h-9.61zM32.3,565.0h9.61v9.75h-9.61zM41.9,565.0h9.61v9.75h-9.61zM51.4,565.0h9.61v9.75h-9.61zM61.0,565.0h9.61v9.75h-9.61zM70.5,565.0h9.61v9.75h-9.61zM80.1,565.0h9.61v9.75h-9.61zM89.7,565.0h9.61v9.75h-9.61zM99.2,565.0h9.61v9.75h-9.61zM108.8,565.0h9.61v9.75h-9.61zM41.9,574.7h9.61v9.75h-9.61zM51.4,574.7h9.61v9.75h-9.61zM61.0,574.7h9.61v9.75h-9.61zM70.5,574.7h9.61v9.75h-9.61zM80.1,574.7h9.61v9.75h-9.61zM89.7,574.7h9.61v9.75h-9.61zM99.2,574.7h9.61v9.75h-9.61zM108.8,574.7h9.61v9.75h-9.61zM22.7,584.4h9.61v9.75h-9.61zM32.3,584.4h9.61v9.75h-9.61zM41.9,584.4h9.61v9.75h-9.61zM51.4,584.4h9.61v9.75h-9.61zM61.0,584.4h9.61v9.75h-9.61zM70.5,584.4h9.61v9.75h-9.61zM80.1,584.4h9.61v9.75h-9.61zM89.7,584.4h9.61v9.75h-9.61zM99.2,584.4h9.61v9.75h-9.61zM108.8,584.4h9.61v9.75h-9.61zM22.7,594.1h9.61v9.75h-9.61zM32.3,594.1h9.61v9.75h-9.61zM51.4,594.1h9.61v9.75h-9.61zM61.0,594.1h9.61v9.75h-9.61zM70.5,594.1h9.61v9.75h-9.61zM80.1,594.1h9.61v9.75h-9.61zM89.7,594.1h9.61v9.75h-9.61zM99.2,594.1h9.61v9.75h-9.61zM108.8,594.1h9.61v9.75h-9.61zM22.7,603.8h9.61v9.75h-9.61zM32.3,603.8h9.61v9.75h-9.61zM51.4,603.8h9.61v9.75h-9.61zM61.0,603.8h9.61v9.75h-9.61zM70.5,603.8h9.61v9.75h-9.61zM80.1,603.8h9.61v9.75h-9.61zM89.7,603.8h9.61v9.75h-9.61zM99.2,603.8h9.61v9.75h-9.61zM108.8,603.8h9.61v9.75h-9.61z" fill-opacity="0.28"/><path d="M61.0,516.5h9.61v9.75h-9.61zM61.0,526.2h9.61v9.75h-9.61zM70.5,535.9h9.61v9.75h-9.61zM22.7,574.7h9.61v9.75h-9.61zM32.3,574.7h9.61v9.75h-9.61zM41.9,594.1h9.61v9.75h-9.61zM41.9,603.8h9.61v9.75h-9.61z" fill-opacity="0.32"/></g>
</g>
<rect x="32.50" y="526.50" width="76.00" height="77.00" fill="none" stroke="#888" stroke-width="1" />
<clipPath id="ig4"><rect x="110" y="526.2" width="77.8" height="77.6"/></clipPath>
<g clip-path="url(#ig4)">
<rect x="110.00" y="526.20" width="77.80" height="77.60" fill="#fff" stroke="none" stroke-width="1" />
<g filter="url(#fig4)"><path d="M100.3,516.5h9.78v9.75h-9.78zM110.0,516.5h9.78v9.75h-9.78zM119.7,516.5h9.78v9.75h-9.78zM139.2,516.5h9.78v9.75h-9.78zM158.6,516.5h9.78v9.75h-9.78zM168.3,516.5h9.78v9.75h-9.78zM178.1,516.5h9.78v9.75h-9.78zM187.8,516.5h9.78v9.75h-9.78zM100.3,526.2h9.78v9.75h-9.78zM110.0,526.2h9.78v9.75h-9.78zM119.7,526.2h9.78v9.75h-9.78zM139.2,526.2h9.78v9.75h-9.78zM158.6,526.2h9.78v9.75h-9.78zM168.3,526.2h9.78v9.75h-9.78zM178.1,526.2h9.78v9.75h-9.78zM187.8,526.2h9.78v9.75h-9.78zM139.2,535.9h9.78v9.75h-9.78zM158.6,535.9h9.78v9.75h-9.78zM178.1,535.9h9.78v9.75h-9.78zM187.8,535.9h9.78v9.75h-9.78zM129.4,545.6h9.78v9.75h-9.78zM139.2,545.6h9.78v9.75h-9.78zM148.9,545.6h9.78v9.75h-9.78zM158.6,545.6h9.78v9.75h-9.78zM178.1,545.6h9.78v9.75h-9.78zM187.8,545.6h9.78v9.75h-9.78zM139.2,555.3h9.78v9.75h-9.78zM148.9,555.3h9.78v9.75h-9.78zM178.1,555.3h9.78v9.75h-9.78zM187.8,555.3h9.78v9.75h-9.78zM139.2,565.0h9.78v9.75h-9.78zM148.9,565.0h9.78v9.75h-9.78zM158.6,565.0h9.78v9.75h-9.78zM178.1,565.0h9.78v9.75h-9.78zM187.8,565.0h9.78v9.75h-9.78zM100.3,574.7h9.78v9.75h-9.78zM110.0,574.7h9.78v9.75h-9.78zM158.6,574.7h9.78v9.75h-9.78zM168.3,574.7h9.78v9.75h-9.78zM178.1,574.7h9.78v9.75h-9.78zM187.8,574.7h9.78v9.75h-9.78zM100.3,584.4h9.78v9.75h-9.78zM110.0,584.4h9.78v9.75h-9.78zM158.6,584.4h9.78v9.75h-9.78zM168.3,584.4h9.78v9.75h-9.78zM178.1,584.4h9.78v9.75h-9.78zM187.8,584.4h9.78v9.75h-9.78zM100.3,594.1h9.78v9.75h-9.78zM110.0,594.1h9.78v9.75h-9.78zM158.6,594.1h9.78v9.75h-9.78zM178.1,594.1h9.78v9.75h-9.78zM187.8,594.1h9.78v9.75h-9.78zM100.3,603.8h9.78v9.75h-9.78zM110.0,603.8h9.78v9.75h-9.78zM158.6,603.8h9.78v9.75h-9.78zM178.1,603.8h9.78v9.75h-9.78zM187.8,603.8h9.78v9.75h-9.78z" fill-opacity="0.34"/><path d="M100.3,535.9h9.78v9.75h-9.78zM110.0,535.9h9.78v9.75h-9.78zM119.7,535.9h9.78v9.75h-9.78zM168.3,535.9h9.78v9.75h-9.78zM119.7,545.6h9.78v9.75h-9.78zM168.3,545.6h9.78v9.75h-9.78zM129.4,555.3h9.78v9.75h-9.78zM129.4,565.0h9.78v9.75h-9.78zM129.4,584.4h9.78v9.75h-9.78zM148.9,594.1h9.78v9.75h-9.78zM148.9,603.8h9.78v9.75h-9.78z" fill-opacity="0.44"/><path d="M129.4,535.9h9.78v9.75h-9.78zM158.6,555.3h9.78v9.75h-9.78zM168.3,555.3h9.78v9.75h-9.78zM168.3,565.0h9.78v9.75h-9.78zM119.7,574.7h9.78v9.75h-9.78zM129.4,574.7h9.78v9.75h-9.78zM148.9,574.7h9.78v9.75h-9.78zM119.7,584.4h9.78v9.75h-9.78zM148.9,584.4h9.78v9.75h-9.78zM119.7,594.1h9.78v9.75h-9.78zM168.3,594.1h9.78v9.75h-9.78zM119.7,603.8h9.78v9.75h-9.78zM168.3,603.8h9.78v9.75h-9.78z" fill-opacity="0.4"/><path d="M100.3,545.6h9.78v9.75h-9.78zM110.0,545.6h9.78v9.75h-9.78zM100.3,565.0h9.78v9.75h-9.78zM110.0,565.0h9.78v9.75h-9.78zM119.7,565.0h9.78v9.75h-9.78zM139.2,574.7h9.78v9.75h-9.78zM129.4,594.1h9.78v9.75h-9.78zM129.4,603.8h9.78v9.75h-9.78z" fill-opacity="0.46"/><path d="M100.3,555.3h9.78v9.75h-9.78zM110.0,555.3h9.78v9.75h-9.78zM119.7,555.3h9.78v9.75h-9.78zM139.2,584.4h9.78v9.75h-9.78z" fill-opacity="0.48"/><path d="M139.2,594.1h9.78v9.75h-9.78zM139.2,603.8h9.78v9.75h-9.78z" fill-opacity="0.52"/></g>
</g>
<rect x="110.50" y="526.50" width="77.00" height="77.00" fill="none" stroke="#888" stroke-width="1" />
<text x="148.00" y="593.00" font-size="11.5" text-anchor="start" stroke="#000" stroke-width="0.22" textLength="37.8" lengthAdjust="spacingAndGlyphs" >200 μm</text>
<rect x="153.50" y="595.80" width="23.80" height="2.60" fill="#000" stroke="none" stroke-width="1" />
<rect x="366.00" y="440.00" width="231.00" height="154.50" fill="#d8d8d8" stroke="none" stroke-width="1" />
<clipPath id="ih1"><rect x="366.6" y="440.4" width="76" height="76.3"/></clipPath>
<g clip-path="url(#ih1)">
<rect x="366.60" y="440.40" width="76.00" height="76.30" fill="#000" stroke="none" stroke-width="1" />
<g id="gN" filter="url(#fih1)"><path d="M395.1,430.9h9.55v9.59h-9.55zM404.6,430.9h9.55v9.59h-9.55zM433.1,430.9h9.55v9.59h-9.55zM442.6,430.9h9.55v9.59h-9.55zM395.1,440.4h9.55v9.59h-9.55zM404.6,440.4h9.55v9.59h-9.55zM433.1,440.4h9.55v9.59h-9.55zM442.6,440.4h9.55v9.59h-9.55zM423.6,449.9h9.55v9.59h-9.55zM433.1,449.9h9.55v9.59h-9.55zM442.6,449.9h9.55v9.59h-9.55zM414.1,469.0h9.55v9.59h-9.55zM433.1,478.5h9.55v9.59h-9.55zM442.6,478.5h9.55v9.59h-9.55zM423.6,488.1h9.55v9.59h-9.55z" fill-opacity="0.52"/><path d="M423.6,430.9h9.55v9.59h-9.55zM423.6,440.4h9.55v9.59h-9.55zM385.6,449.9h9.55v9.59h-9.55zM404.6,449.9h9.55v9.59h-9.55zM376.1,469.0h9.55v9.59h-9.55zM385.6,488.1h9.55v9.59h-9.55zM376.1,497.6h9.55v9.59h-9.55zM385.6,507.2h9.55v9.59h-9.55zM385.6,516.7h9.55v9.59h-9.55z" fill-opacity="0.48"/><path d="M395.1,449.9h9.55v9.59h-9.55zM404.6,459.5h9.55v9.59h-9.55zM357.1,478.5h9.55v9.59h-9.55zM366.6,478.5h9.55v9.59h-9.55zM404.6,488.1h9.55v9.59h-9.55zM423.6,497.6h9.55v9.59h-9.55z" fill-opacity="0.44"/><path d="M385.6,459.5h9.55v9.59h-9.55zM414.1,459.5h9.55v9.59h-9.55zM357.1,488.1h9.55v9.59h-9.55zM366.6,488.1h9.55v9.59h-9.55zM414.1,488.1h9.55v9.59h-9.55zM433.1,488.1h9.55v9.59h-9.55zM442.6,488.1h9.55v9.59h-9.55zM385.6,497.6h9.55v9.59h-9.55zM395.1,497.6h9.55v9.59h-9.55zM414.1,497.6h9.55v9.59h-9.55zM395.1,507.2h9.55v9.59h-9.55zM423.6,507.2h9.55v9.59h-9.55zM433.1,507.2h9.55v9.59h-9.55zM442.6,507.2h9.55v9.59h-9.55zM395.1,516.7h9.55v9.59h-9.55zM423.6,516.7h9.55v9.59h-9.55zM433.1,516.7h9.55v9.59h-9.55zM442.6,516.7h9.55v9.59h-9.55z" fill-opacity="0.38"/><path d="M395.1,459.5h9.55v9.59h-9.55zM433.1,459.5h9.55v9.59h-9.55zM442.6,459.5h9.55v9.59h-9.55zM357.1,469.0h9.55v9.59h-9.55zM366.6,469.0h9.55v9.59h-9.55zM385.6,469.0h9.55v9.59h-9.55zM376.1,488.1h9.55v9.59h-9.55zM395.1,488.1h9.55v9.59h-9.55zM404.6,507.2h9.55v9.59h-9.55zM404.6,516.7h9.55v9.59h-9.55z" fill-opacity="0.56"/><path d="M423.6,459.5h9.55v9.59h-9.55zM404.6,469.0h9.55v9.59h-9.55zM433.1,469.0h9.55v9.59h-9.55zM442.6,469.0h9.55v9.59h-9.55zM376.1,478.5h9.55v9.59h-9.55zM385.6,478.5h9.55v9.59h-9.55zM395.1,478.5h9.55v9.59h-9.55zM404.6,478.5h9.55v9.59h-9.55zM414.1,478.5h9.55v9.59h-9.55zM423.6,478.5h9.55v9.59h-9.55zM414.1,507.2h9.55v9.59h-9.55zM414.1,516.7h9.55v9.59h-9.55z" fill-opacity="0.62"/><path d="M395.1,469.0h9.55v9.59h-9.55zM423.6,469.0h9.55v9.59h-9.55z" fill-opacity="0.68"/></g>
</g>
<clipPath id="ih2"><rect x="444" y="440.4" width="75.2" height="76.3"/></clipPath>
<g clip-path="url(#ih2)">
<rect x="444.00" y="440.40" width="75.20" height="76.30" fill="#000" stroke="none" stroke-width="1" />
<g id="rN" filter="url(#fih2)"><path d="M472.2,430.9h9.45v9.59h-9.45zM500.4,430.9h9.45v9.59h-9.45zM472.2,440.4h9.45v9.59h-9.45zM500.4,440.4h9.45v9.59h-9.45zM481.6,449.9h9.45v9.59h-9.45zM472.2,459.5h9.45v9.59h-9.45zM509.8,459.5h9.45v9.59h-9.45zM519.2,459.5h9.45v9.59h-9.45zM462.8,469.0h9.45v9.59h-9.45zM453.4,478.5h9.45v9.59h-9.45zM453.4,497.6h9.45v9.59h-9.45zM462.8,497.6h9.45v9.59h-9.45z" fill-opacity="0.44"/><path d="M481.6,430.9h9.45v9.59h-9.45zM481.6,440.4h9.45v9.59h-9.45zM462.8,449.9h9.45v9.59h-9.45zM500.4,449.9h9.45v9.59h-9.45zM462.8,459.5h9.45v9.59h-9.45zM481.6,459.5h9.45v9.59h-9.45zM434.6,488.1h9.45v9.59h-9.45zM444.0,488.1h9.45v9.59h-9.45zM481.6,488.1h9.45v9.59h-9.45zM472.2,497.6h9.45v9.59h-9.45zM500.4,497.6h9.45v9.59h-9.45zM462.8,507.2h9.45v9.59h-9.45zM462.8,516.7h9.45v9.59h-9.45z" fill-opacity="0.4"/><path d="M509.8,430.9h9.45v9.59h-9.45zM519.2,430.9h9.45v9.59h-9.45zM509.8,440.4h9.45v9.59h-9.45zM519.2,440.4h9.45v9.59h-9.45zM500.4,459.5h9.45v9.59h-9.45zM434.6,469.0h9.45v9.59h-9.45zM444.0,469.0h9.45v9.59h-9.45zM500.4,478.5h9.45v9.59h-9.45zM453.4,488.1h9.45v9.59h-9.45zM462.8,488.1h9.45v9.59h-9.45z" fill-opacity="0.46"/><path d="M472.2,449.9h9.45v9.59h-9.45zM509.8,449.9h9.45v9.59h-9.45zM519.2,449.9h9.45v9.59h-9.45zM491.0,459.5h9.45v9.59h-9.45zM453.4,469.0h9.45v9.59h-9.45zM434.6,478.5h9.45v9.59h-9.45zM444.0,478.5h9.45v9.59h-9.45zM491.0,488.1h9.45v9.59h-9.45zM509.8,488.1h9.45v9.59h-9.45zM519.2,488.1h9.45v9.59h-9.45zM434.6,497.6h9.45v9.59h-9.45zM444.0,497.6h9.45v9.59h-9.45zM500.4,507.2h9.45v9.59h-9.45zM500.4,516.7h9.45v9.59h-9.45z" fill-opacity="0.34"/><path d="M472.2,469.0h9.45v9.59h-9.45zM481.6,469.0h9.45v9.59h-9.45zM491.0,469.0h9.45v9.59h-9.45zM500.4,469.0h9.45v9.59h-9.45zM509.8,469.0h9.45v9.59h-9.45zM519.2,469.0h9.45v9.59h-9.45zM462.8,478.5h9.45v9.59h-9.45zM472.2,478.5h9.45v9.59h-9.45zM491.0,478.5h9.45v9.59h-9.45zM509.8,478.5h9.45v9.59h-9.45zM519.2,478.5h9.45v9.59h-9.45zM500.4,488.1h9.45v9.59h-9.45zM481.6,507.2h9.45v9.59h-9.45zM491.0,507.2h9.45v9.59h-9.45zM481.6,516.7h9.45v9.59h-9.45zM491.0,516.7h9.45v9.59h-9.45z" fill-opacity="0.5"/><path d="M481.6,478.5h9.45v9.59h-9.45zM472.2,488.1h9.45v9.59h-9.45z" fill-opacity="0.52"/></g>
</g>
<clipPath id="ih3"><rect x="520.6" y="440.4" width="76" height="76.3"/></clipPath><g clip-path="url(#ih3)"><rect x="520.6" y="440.4" width="76" height="76.3" fill="#000"/><use href="#gN" x="154"/><use href="#rN" x="76.6" opacity="0.65" style="mix-blend-mode:screen"/></g>
<clipPath id="ih4"><rect x="366.6" y="518.4" width="76" height="75.8"/></clipPath>
<g clip-path="url(#ih4)">
<rect x="366.60" y="518.40" width="76.00" height="75.80" fill="#000" stroke="none" stroke-width="1" />
<g id="gS" filter="url(#fih4)"><path d="M404.6,508.9h9.55v9.53h-9.55zM404.6,518.4h9.55v9.53h-9.55zM395.1,546.8h9.55v9.53h-9.55zM433.1,546.8h9.55v9.53h-9.55zM442.6,546.8h9.55v9.53h-9.55z" fill-opacity="0.46"/><path d="M414.1,508.9h9.55v9.53h-9.55zM423.6,508.9h9.55v9.53h-9.55zM414.1,518.4h9.55v9.53h-9.55zM423.6,518.4h9.55v9.53h-9.55zM357.1,546.8h9.55v9.53h-9.55zM366.6,546.8h9.55v9.53h-9.55zM404.6,546.8h9.55v9.53h-9.55zM423.6,546.8h9.55v9.53h-9.55zM414.1,556.3h9.55v9.53h-9.55zM414.1,565.8h9.55v9.53h-9.55zM423.6,565.8h9.55v9.53h-9.55zM433.1,565.8h9.55v9.53h-9.55zM442.6,565.8h9.55v9.53h-9.55zM395.1,575.2h9.55v9.53h-9.55zM385.6,584.7h9.55v9.53h-9.55zM395.1,584.7h9.55v9.53h-9.55zM423.6,584.7h9.55v9.53h-9.55zM433.1,584.7h9.55v9.53h-9.55zM442.6,584.7h9.55v9.53h-9.55zM385.6,594.2h9.55v9.53h-9.55zM395.1,594.2h9.55v9.53h-9.55zM423.6,594.2h9.55v9.53h-9.55zM433.1,594.2h9.55v9.53h-9.55zM442.6,594.2h9.55v9.53h-9.55z" fill-opacity="0.34"/><path d="M404.6,527.9h9.55v9.53h-9.55zM395.1,537.4h9.55v9.53h-9.55zM376.1,546.8h9.55v9.53h-9.55zM414.1,546.8h9.55v9.53h-9.55zM395.1,565.8h9.55v9.53h-9.55zM414.1,575.2h9.55v9.53h-9.55zM423.6,575.2h9.55v9.53h-9.55zM404.6,584.7h9.55v9.53h-9.55zM404.6,594.2h9.55v9.53h-9.55z" fill-opacity="0.4"/><path d="M376.1,537.4h9.55v9.53h-9.55zM385.6,546.8h9.55v9.53h-9.55zM395.1,556.3h9.55v9.53h-9.55zM404.6,556.3h9.55v9.53h-9.55zM404.6,575.2h9.55v9.53h-9.55zM433.1,575.2h9.55v9.53h-9.55zM442.6,575.2h9.55v9.53h-9.55zM414.1,584.7h9.55v9.53h-9.55zM414.1,594.2h9.55v9.53h-9.55z" fill-opacity="0.44"/><path d="M385.6,537.4h9.55v9.53h-9.55zM404.6,565.8h9.55v9.53h-9.55z" fill-opacity="0.5"/></g>
</g>
<clipPath id="ih5"><rect x="444" y="518.4" width="75.2" height="75.8"/></clipPath>
<g clip-path="url(#ih5)">
<rect x="444.00" y="518.40" width="75.20" height="75.80" fill="#000" stroke="none" stroke-width="1" />
<g id="rS" filter="url(#fih5)"><path d="M472.2,508.9h9.45v9.53h-9.45zM491.0,508.9h9.45v9.53h-9.45zM472.2,518.4h9.45v9.53h-9.45zM491.0,518.4h9.45v9.53h-9.45zM481.6,527.9h9.45v9.53h-9.45zM453.4,565.8h9.45v9.53h-9.45zM472.2,565.8h9.45v9.53h-9.45zM500.4,565.8h9.45v9.53h-9.45zM509.8,565.8h9.45v9.53h-9.45zM519.2,565.8h9.45v9.53h-9.45zM500.4,584.7h9.45v9.53h-9.45zM500.4,594.2h9.45v9.53h-9.45z" fill-opacity="0.42"/><path d="M481.6,508.9h9.45v9.53h-9.45zM481.6,518.4h9.45v9.53h-9.45zM472.2,546.8h9.45v9.53h-9.45zM491.0,546.8h9.45v9.53h-9.45zM453.4,575.2h9.45v9.53h-9.45z" fill-opacity="0.52"/><path d="M453.4,537.4h9.45v9.53h-9.45zM462.8,537.4h9.45v9.53h-9.45zM472.2,537.4h9.45v9.53h-9.45zM491.0,537.4h9.45v9.53h-9.45zM453.4,546.8h9.45v9.53h-9.45zM481.6,546.8h9.45v9.53h-9.45zM509.8,546.8h9.45v9.53h-9.45zM519.2,546.8h9.45v9.53h-9.45zM472.2,556.3h9.45v9.53h-9.45zM491.0,556.3h9.45v9.53h-9.45zM481.6,565.8h9.45v9.53h-9.45zM491.0,584.7h9.45v9.53h-9.45zM491.0,594.2h9.45v9.53h-9.45z" fill-opacity="0.46"/><path d="M481.6,537.4h9.45v9.53h-9.45zM462.8,546.8h9.45v9.53h-9.45zM500.4,546.8h9.45v9.53h-9.45zM434.6,565.8h9.45v9.53h-9.45zM444.0,565.8h9.45v9.53h-9.45zM434.6,584.7h9.45v9.53h-9.45zM444.0,584.7h9.45v9.53h-9.45zM509.8,584.7h9.45v9.53h-9.45zM519.2,584.7h9.45v9.53h-9.45zM434.6,594.2h9.45v9.53h-9.45zM444.0,594.2h9.45v9.53h-9.45zM509.8,594.2h9.45v9.53h-9.45zM519.2,594.2h9.45v9.53h-9.45z" fill-opacity="0.36"/><path d="M434.6,546.8h9.45v9.53h-9.45zM444.0,546.8h9.45v9.53h-9.45zM481.6,556.3h9.45v9.53h-9.45zM491.0,565.8h9.45v9.53h-9.45zM453.4,584.7h9.45v9.53h-9.45zM453.4,594.2h9.45v9.53h-9.45z" fill-opacity="0.48"/><path d="M434.6,575.2h9.45v9.53h-9.45zM444.0,575.2h9.45v9.53h-9.45zM462.8,575.2h9.45v9.53h-9.45zM472.2,575.2h9.45v9.53h-9.45zM481.6,575.2h9.45v9.53h-9.45zM491.0,575.2h9.45v9.53h-9.45zM500.4,575.2h9.45v9.53h-9.45zM509.8,575.2h9.45v9.53h-9.45zM519.2,575.2h9.45v9.53h-9.45zM462.8,584.7h9.45v9.53h-9.45zM472.2,584.7h9.45v9.53h-9.45zM481.6,584.7h9.45v9.53h-9.45zM462.8,594.2h9.45v9.53h-9.45zM472.2,594.2h9.45v9.53h-9.45zM481.6,594.2h9.45v9.53h-9.45z" fill-opacity="0.54"/></g>
</g>
<clipPath id="ih6"><rect x="520.6" y="518.4" width="76" height="75.8"/></clipPath><g clip-path="url(#ih6)"><rect x="520.6" y="518.4" width="76" height="75.8" fill="#000"/><use href="#gS" x="154"/><use href="#rS" x="76.6" style="mix-blend-mode:screen"/></g>
<text x="371.20" y="583.00" font-size="11.5" text-anchor="start" stroke="#fff" stroke-width="0.22" fill="#fff" textLength="29.5" lengthAdjust="spacingAndGlyphs" >50 μm</text>
<rect x="376.00" y="586.00" width="14.60" height="2.00" fill="#fff" stroke="none" stroke-width="1" />
<text x="473.10" y="637.00" font-size="17.4" text-anchor="start" stroke="#000" stroke-width="0.22" font-weight="bold" >L</text>
<text x="617.70" y="635.60" font-size="11" text-anchor="start" stroke="#1f4f8f" stroke-width="0.22" font-weight="bold" fill="#1f4f8f" textLength="92" lengthAdjust="spacingAndGlyphs" >Hyaluronan Matrix</text>
<path d="M480.1,795 A225,225 0 0 1 833.9,795" fill="none" stroke="#e2ecf7" stroke-width="9"/>
<path d="M474.4,795 A229.5,229.5 0 0 1 839.6,795" fill="none" stroke="#a9c2dc" stroke-width="1"/>
<path d="M485.8,795 A220.5,220.5 0 0 1 828.2,795" fill="none" stroke="#a9c2dc" stroke-width="1"/>
<path d="M480.1,795 A225,225 0 0 1 833.9,795" fill="none" stroke="#c4d6ea" stroke-width="0.8" stroke-dasharray="1 1"/>
<path d="M545.3,668.4 550.3,670.1 555.0,670.7 559.6,669.6 563.9,667.2 568.1,663.9 572.4,660.8 576.7,658.7 581.3,658.1 586.1,659.0 591.1,660.8 596.1,662.7 600.9,663.7 605.5,663.3 609.9,661.3 614.2,658.2 618.4,654.9M544.4,674.2 548.9,672.8 553.3,670.8 557.5,668.4 561.8,665.8 566.1,663.5 570.5,661.8 575.1,660.7 579.9,660.3 584.7,660.5 589.7,660.9 594.6,661.3 599.4,661.3 604.1,660.7 608.6,659.3 613.0,657.3 617.3,654.9M543.3,669.4 547.7,668.7 552.4,669.0 557.3,669.6 562.0,669.8 566.3,669.0 570.3,667.0 573.9,664.0 577.4,660.6 580.9,657.4 584.8,655.2 589.1,654.1 593.7,654.0 598.5,654.6 603.3,655.0 607.8,654.6 611.9,653.1M539.8,674.0 544.6,673.1 549.4,672.4 554.3,671.8 559.1,671.1 563.9,670.1 568.5,668.8 573.0,667.2 577.4,665.2 581.6,662.9 585.7,660.3 589.8,657.5 593.9,654.7 598.0,652.1 602.2,649.6 606.5,647.5 610.9,645.7M540.8,676.4 545.1,672.8 549.8,670.1 554.9,668.7 560.4,668.3 566.2,668.5 571.8,668.4 577.1,667.4 581.9,665.2 586.4,661.8 590.6,658.0 594.8,654.2 599.4,651.4 604.5,649.7 610.0,649.2 615.7,649.3 621.3,649.3" fill="none" stroke="#3f66ba" stroke-width="1.25" stroke-dasharray="3 1.3" opacity="0.92"/>
<ellipse cx="558.0" cy="664.8" rx="3.2" ry="6" fill="#d4809a" transform="rotate(-16.8 558.0 664.8)" opacity="0.92"/>
<ellipse cx="594.0" cy="655.9" rx="3.2" ry="6" fill="#d4809a" transform="rotate(-16.8 594.0 655.9)" opacity="0.92"/>
<path d="M566.5,677.1 571.9,675.3 577.3,672.5 582.6,669.5 588.0,667.4 593.5,666.8 598.9,668.0 604.4,670.4 609.9,673.2 615.4,675.3 620.9,675.9 626.3,674.9 631.7,672.5 637.1,669.4 642.4,666.8 647.8,665.4 653.3,665.8M563.2,675.2 568.6,676.4 573.8,677.1 579.0,677.0 584.1,675.9 589.1,674.0 594.1,671.7 599.0,669.3 604.0,667.4 609.1,666.3 614.3,666.2 619.5,666.9 624.9,668.1 630.2,669.3 635.5,670.1 640.7,670.0 645.8,669.1M566.5,678.9 571.2,676.4 576.0,674.1 580.9,672.4 585.9,671.3 591.1,671.0 596.3,671.4 601.6,672.2 606.9,673.1 612.2,673.8 617.4,674.1 622.5,673.6 627.5,672.4 632.4,670.6 637.2,668.3 641.9,665.8 646.7,663.4M566.8,680.9 572.7,682.0 578.5,682.2 583.9,680.9 589.0,678.3 594.0,674.7 598.9,671.0 603.9,668.0 609.2,666.3 614.9,666.0 620.8,666.9 626.8,668.2 632.7,669.1 638.4,669.0 643.7,667.3 648.8,664.4 653.7,660.7M567.2,683.3 572.7,682.8 578.2,682.4 583.6,681.7 588.9,680.6 594.1,679.0 599.1,677.0 604.0,674.6 608.8,671.9 613.6,669.1 618.4,666.4 623.3,664.0 628.3,662.0 633.5,660.5 638.8,659.4 644.2,658.7 649.7,658.2" fill="none" stroke="#3f66ba" stroke-width="1.25" stroke-dasharray="3 1.3" opacity="0.92"/>
<ellipse cx="587.6" cy="675.0" rx="3.2" ry="6" fill="#d4809a" transform="rotate(-9.5 587.6 675.0)" opacity="0.92"/>
<ellipse cx="614.4" cy="668.7" rx="3.2" ry="6" fill="#d4809a" transform="rotate(-9.5 614.4 668.7)" opacity="0.92"/>
<path d="M612.9,637.6 618.5,638.1 624.0,638.9 629.2,640.4 634.2,642.5 639.0,645.3 643.6,648.6 648.1,652.0 652.6,655.3 657.3,658.2 662.3,660.5 667.5,662.2 672.9,663.1 678.5,663.7 684.2,664.0 689.8,664.5 695.2,665.4M619.0,637.5 623.0,640.8 627.1,644.0 631.2,647.0 635.5,649.6 639.9,651.7 644.6,653.3 649.5,654.2 654.5,654.7 659.6,654.9 664.8,655.0 670.0,655.1 675.1,655.5 680.0,656.4 684.7,657.8 689.1,659.8 693.4,662.4M611.9,641.5 617.3,641.1 622.5,641.6 627.3,643.4 631.8,646.3 636.2,649.7 640.7,652.9 645.4,655.2 650.4,656.3 655.7,656.2 661.2,655.4 666.7,654.7 672.0,654.9 676.9,656.2 681.6,658.8 686.0,662.1 690.4,665.5M613.8,645.2 618.1,647.7 622.4,649.8 626.9,651.0 631.5,651.3 636.3,650.8 641.2,650.0 646.0,649.2 650.8,648.9 655.3,649.6 659.8,651.1 664.0,653.4 668.3,656.0 672.5,658.3 676.9,660.1 681.5,660.9 686.2,660.9M612.6,645.1 617.9,644.7 623.1,644.8 628.2,645.5 633.3,646.9 638.3,648.8 643.2,651.0 648.2,653.2 653.2,655.1 658.2,656.6 663.3,657.5 668.5,657.7 673.8,657.4 679.1,656.6 684.5,655.7 689.8,654.9 695.1,654.4" fill="none" stroke="#3f66ba" stroke-width="1.25" stroke-dasharray="3 1.3" opacity="0.92"/>
<ellipse cx="632.3" cy="644.4" rx="3.2" ry="6" fill="#d4809a" transform="rotate(14.6 632.3 644.4)" opacity="0.92"/>
<ellipse cx="668.0" cy="655.9" rx="3.2" ry="6" fill="#d4809a" transform="rotate(14.6 668.0 655.9)" opacity="0.92"/>
<path d="M631.7,676.3 635.9,675.2 640.1,674.1 644.4,673.4 648.6,673.0 652.8,673.1 657.0,673.6 661.2,674.4 665.4,675.6 669.7,676.8 673.9,678.0 678.1,679.1 682.3,679.8 686.5,680.1 690.7,680.0 695.0,679.4 699.2,678.5M631.8,679.5 636.2,680.5 640.6,680.5 645.0,679.7 649.4,678.2 653.8,676.5 658.2,675.1 662.6,674.6 667.0,674.9 671.5,676.1 675.9,677.8 680.3,679.3 684.7,680.3 689.1,680.4 693.5,679.5 697.9,678.0 702.3,676.3M627.5,678.0 632.4,678.9 637.3,680.2 642.1,681.1 646.9,681.2 651.6,680.2 656.2,678.4 660.8,676.3 665.4,674.5 670.1,673.6 674.9,673.7 679.7,674.7 684.6,675.9 689.5,676.8 694.2,676.9 698.9,676.0 703.5,674.2M633.4,685.1 637.4,683.3 641.4,681.5 645.4,679.7 649.4,678.3 653.6,677.4 657.8,676.9 662.1,676.9 666.4,677.3 670.8,677.8 675.1,678.2 679.4,678.3 683.6,678.0 687.8,677.2 691.9,675.9 695.9,674.3 699.9,672.4" fill="none" stroke="#3f66ba" stroke-width="1.25" stroke-dasharray="3 1.3" opacity="0.92"/>
<ellipse cx="660.4" cy="676.3" rx="3.2" ry="6" fill="#d4809a" transform="rotate(-4.0 660.4 676.3)" opacity="0.92"/>
<path d="M672.7,645.1 680.8,646.7 689.2,647.7 697.6,648.8 705.8,650.3 713.6,652.6 721.1,655.9 728.2,660.2 734.9,665.2 741.6,670.3 748.4,675.3 755.5,679.5 763.0,682.8 770.8,685.1 779.1,686.5 787.4,687.5 795.8,688.6M675.0,639.9 682.1,643.6 688.9,648.2 695.5,653.2 702.3,657.8 709.4,661.4 717.0,663.9 725.0,665.3 733.2,666.0 741.4,666.8 749.4,668.1 757.0,670.6 764.1,674.3 770.9,678.9 777.5,683.8 784.3,688.5 791.4,692.2M679.5,647.8 687.2,648.2 694.8,648.9 702.2,650.1 709.4,652.1 716.3,655.0 722.9,658.6 729.4,662.7 735.8,667.0 742.3,671.1 748.9,674.8 755.8,677.6 762.9,679.7 770.4,680.9 778.0,681.6 785.7,682.0 793.3,682.4M680.3,650.4 686.3,654.7 692.6,658.3 699.1,661.0 706.1,662.4 713.3,662.9 720.7,662.8 728.2,662.8 735.4,663.3 742.3,664.8 748.9,667.4 755.1,671.1 761.1,675.4 767.1,679.8 773.3,683.7 779.8,686.6 786.6,688.3M679.4,646.6 686.1,649.8 692.6,653.9 699.1,658.3 705.6,662.3 712.4,665.3 719.6,666.9 727.0,667.3 734.7,666.8 742.5,666.0 750.1,665.7 757.5,666.6 764.5,668.7 771.2,672.1 777.7,676.3 784.1,680.7 790.7,684.6M676.8,652.1 683.6,655.6 690.4,659.5 697.3,662.8 704.4,665.1 711.8,666.1 719.4,665.9 727.1,665.2 734.8,664.6 742.3,665.0 749.6,666.5 756.6,669.4 763.4,673.1 770.2,676.8 777.1,680.0 784.3,681.9 791.7,682.6" fill="none" stroke="#3f66ba" stroke-width="1.25" stroke-dasharray="3 1.3" opacity="0.92"/>
<ellipse cx="712.2" cy="654.6" rx="3.2" ry="6" fill="#d4809a" transform="rotate(17.7 712.2 654.6)" opacity="0.92"/>
<ellipse cx="742.8" cy="666.0" rx="3.2" ry="6" fill="#d4809a" transform="rotate(17.7 742.8 666.0)" opacity="0.92"/>
<path d="M671.9,670.3 675.9,671.1 679.9,672.2 683.9,673.3 687.9,674.4 691.9,675.2 695.9,675.7 699.9,675.7 703.9,675.3 707.9,674.6 711.9,673.5 715.9,672.4 719.9,671.4 723.9,670.7 727.9,670.3 731.9,670.4 735.9,670.9M674.3,670.6 678.0,671.0 681.7,671.7 685.4,672.8 689.1,673.9 692.8,674.9 696.5,675.6 700.2,675.9 703.9,675.7 707.6,675.1 711.2,674.0 714.8,672.7 718.5,671.3 722.1,670.1 725.8,669.2 729.4,668.7 733.1,668.7M670.4,673.6 674.2,673.3 678.0,673.8 681.9,674.8 685.9,676.0 689.8,676.9 693.6,677.1 697.3,676.4 700.9,675.0 704.4,673.0 708.0,670.9 711.5,669.1 715.2,668.0 719.0,667.8 722.8,668.4 726.7,669.4 730.7,670.6M665.0,675.9 669.0,674.7 673.1,674.1 677.3,674.2 681.6,674.7 685.9,675.3 690.1,675.7 694.3,675.5 698.3,674.6 702.3,673.1 706.2,671.3 710.1,669.4 714.0,667.8 718.1,666.9 722.2,666.6 726.4,666.9 730.7,667.5" fill="none" stroke="#3f66ba" stroke-width="1.25" stroke-dasharray="3 1.3" opacity="0.92"/>
<ellipse cx="699.4" cy="676.3" rx="3.2" ry="6" fill="#d4809a" transform="rotate(-4.7 699.4 676.3)" opacity="0.92"/>
<path d="M728.2,679.8 732.7,682.0 737.5,683.6 742.5,684.7 747.7,685.4 752.9,686.0 758.1,686.8 763.1,687.8 767.9,689.4 772.5,691.6 776.8,694.3 781.0,697.3 785.1,700.6 789.3,703.7 793.6,706.6 798.1,708.9 802.8,710.7M729.4,682.5 734.2,683.8 739.4,684.3 744.8,684.1 750.3,683.9 755.6,684.1 760.6,685.1 765.2,687.1 769.5,690.0 773.5,693.6 777.5,697.4 781.6,700.8 786.0,703.4 790.8,704.9 796.0,705.5 801.3,705.5 806.8,705.2M739.0,678.0 742.9,680.3 746.8,683.0 750.5,685.8 754.3,688.5 758.2,691.0 762.2,693.1 766.4,694.7 770.8,695.7 775.3,696.3 779.9,696.5 784.6,696.6 789.3,696.6 793.9,696.9 798.4,697.6 802.7,698.7 806.9,700.4M733.1,682.2 738.1,681.9 742.9,682.3 747.6,683.4 752.1,685.3 756.5,687.8 760.8,690.5 765.1,693.3 769.5,695.7 774.1,697.4 778.8,698.4 783.7,698.6 788.7,698.2 793.8,697.5 798.8,696.9 803.8,696.6 808.7,696.9M737.9,692.5 742.0,694.1 746.2,694.8 750.6,694.6 755.0,693.8 759.6,692.7 764.1,691.5 768.5,690.8 772.9,690.7 777.1,691.5 781.1,693.2 785.1,695.4 789.0,698.0 792.9,700.5 796.9,702.6 801.0,704.0 805.2,704.6" fill="none" stroke="#3f66ba" stroke-width="1.25" stroke-dasharray="3 1.3" opacity="0.92"/>
<ellipse cx="750.5" cy="684.0" rx="3.2" ry="6" fill="#d4809a" transform="rotate(16.6 750.5 684.0)" opacity="0.92"/>
<ellipse cx="783.7" cy="696.8" rx="3.2" ry="6" fill="#d4809a" transform="rotate(16.6 783.7 696.8)" opacity="0.92"/>
<path d="M477.7,726.0 483.0,725.4 488.1,724.2 492.8,722.2 497.1,719.4 501.1,715.8 505.0,712.1 509.1,708.7 513.5,706.1 518.3,704.4 523.5,703.5 528.9,702.9 534.2,702.2 539.1,700.8 543.7,698.5 547.9,695.4 551.8,691.7M485.3,701.9 490.0,703.2 494.6,704.2 499.2,704.6 503.9,704.4 508.5,703.6 513.1,702.3 517.7,700.9 522.3,699.5 526.9,698.5 531.6,698.1 536.2,698.3 540.8,699.2 545.5,700.4 550.2,701.7 554.8,702.8 559.5,703.5M572.2,696.8 576.7,697.9 581.2,698.8 585.7,699.1 590.1,698.7 594.6,697.8 599.1,696.5 603.5,695.2 608.0,694.1 612.4,693.6 616.9,693.7 621.4,694.4 625.9,695.4 630.4,696.6 634.9,697.6 639.4,698.0 643.8,697.9M503.0,742.8 507.0,740.6 510.7,738.1 513.9,735.2 516.5,731.8 518.6,727.9 520.4,723.8 522.2,719.6 524.2,715.6 526.7,712.1 529.7,709.0 533.2,706.4 537.2,704.2 541.1,702.0 544.9,699.6 548.3,696.9 551.1,693.6M568.4,722.3 568.7,719.1 568.7,715.9 568.4,712.8 567.7,709.8 566.6,706.9 565.2,704.0 563.6,701.1 562.1,698.3 560.9,695.4 560.1,692.4 559.6,689.3 559.6,686.2 559.8,683.0 560.1,679.7 560.2,676.5 560.1,673.4" fill="none" stroke="#4b6fc4" stroke-width="1.2" stroke-dasharray="3 1.4"/>
<g transform="rotate(-28 567 728)">
<rect x="556.50" y="711.00" width="10.00" height="35.00" fill="#bfe3f6" stroke="#6fb0dc" stroke-width="0.9" rx="4"/>
<rect x="567.50" y="711.00" width="10.00" height="35.00" fill="#bfe3f6" stroke="#6fb0dc" stroke-width="0.9" rx="4"/>
</g>
<text x="551.30" y="758.20" font-size="10" text-anchor="start" stroke="#3f8fd6" stroke-width="0.22" font-weight="bold" fill="#3f8fd6" textLength="24" lengthAdjust="spacingAndGlyphs" >HAS2</text>
<path d="M642,722 C650,719 655,724 652,731 C650,736 655,740 654,747 C653,755 645,758 640,753 C637,749 641,745 638,741 C635,738 640,734 638,729 C637,725 639,723 642,722Z" fill="#d88b9c"/>
<text x="656.00" y="739.00" font-size="10" text-anchor="start" stroke="#a8283a" stroke-width="0.22" font-weight="bold" fill="#a8283a" textLength="23.5" lengthAdjust="spacingAndGlyphs" >ITIH2</text>
<text x="676.40" y="751.80" font-size="10" text-anchor="start" stroke="#666" stroke-width="0.22" fill="#666" textLength="38.3" lengthAdjust="spacingAndGlyphs" >alternative</text>
<text x="676.40" y="760.60" font-size="10" text-anchor="start" stroke="#666" stroke-width="0.22" fill="#666" textLength="29" lengthAdjust="spacingAndGlyphs" >splicing</text>
<path d="M722.4,742.8 C731,740 737,732 738.5,717 M738.5,717 C733,716 729,715 731,712 C734,708 757,711 757,706 C757,701 731,704 731,699 C731,694 757,697 757,692 C757,688 750,687 747,688" fill="none" stroke="#b5c86a" stroke-width="2.3" stroke-linejoin="round"/>
<line x1="738.70" y1="709.00" x2="736.50" y2="722.00" stroke="#6c90c8" stroke-width="1.6" />
<text x="731.30" y="746.80" font-size="10" text-anchor="start" stroke="#5e9a44" stroke-width="0.22" font-weight="bold" fill="#5e9a44" textLength="24.3" lengthAdjust="spacingAndGlyphs" >CD44</text>
<path d="M588,797 C591,790 600,791 606,790 C614,789 621,793 622,800 C623,806 618,810 608,809 C598,809 588,808 587,803 C586,800 587,799 588,797Z" fill="#3f9c9c"/>
<text x="574.80" y="789.00" font-size="10" text-anchor="start" stroke="#3a8a8a" stroke-width="0.22" font-weight="bold" fill="#3a8a8a" textLength="23" lengthAdjust="spacingAndGlyphs" >ZEB1</text>
<circle cx="671.9" cy="770.9" r="8.6" fill="#6f6f6f"/>
<circle cx="669" cy="768" r="3.5" fill="#8a8a8a" opacity="0.6"/>
<text x="659.00" y="790.30" font-size="10" text-anchor="start" stroke="#444" stroke-width="0.22" font-weight="bold" fill="#444" textLength="28.2" lengthAdjust="spacingAndGlyphs" >ESRP1</text>
<path d="M605.4,788.8 C604,770 598,755 586,748" fill="none" stroke="#111" stroke-width="1.2"/>
<path d="M0,0 L-6,-3.2 L-6,3.2Z" transform="translate(582.4,745.3) rotate(-145)" fill="#111"/>
<path d="M613,788.8 C613,770 620,757 633,750" fill="none" stroke="#111" stroke-width="1.2"/>
<path d="M0,0 L-6,-3.2 L-6,3.2Z" transform="translate(637.4,748.0) rotate(-30)" fill="#111"/>
<path d="M620.8,794 C625,780 640,771 657,770" fill="none" stroke="#111" stroke-width="1.2"/>
<line x1="658.50" y1="765.50" x2="658.50" y2="774.50" stroke="#111" stroke-width="1.6" />
<path d="M649,717 L657,692" fill="none" stroke="#111" stroke-width="1.2"/>
<path d="M0,0 L-6,-3.2 L-6,3.2Z" transform="translate(658.6,687.8) rotate(-72)" fill="#111"/>
<path d="M682.8,772 C697,772 710,762 719,751" fill="none" stroke="#111" stroke-width="1.2"/>
<path d="M0,0 L-6,-3.2 L-6,3.2Z" transform="translate(722.4,747.9) rotate(-50)" fill="#111"/>
<path d="M698,793.5 H711 V786 L724,801.5 L711,817 V809.5 H698Z" fill="url(#gArr)"/>
<text x="729.30" y="792.80" font-size="11" text-anchor="start" stroke="#000" stroke-width="0.22" textLength="80.7" lengthAdjust="spacingAndGlyphs" >migration/invasion</text>
<text x="729.30" y="803.50" font-size="11" text-anchor="start" stroke="#000" stroke-width="0.22" textLength="82.5" lengthAdjust="spacingAndGlyphs" >cancer progression</text>
<text x="729.30" y="814.20" font-size="11" text-anchor="start" stroke="#000" stroke-width="0.22" textLength="47" lengthAdjust="spacingAndGlyphs" >metastasis</text>
</svg>
</body></html>
